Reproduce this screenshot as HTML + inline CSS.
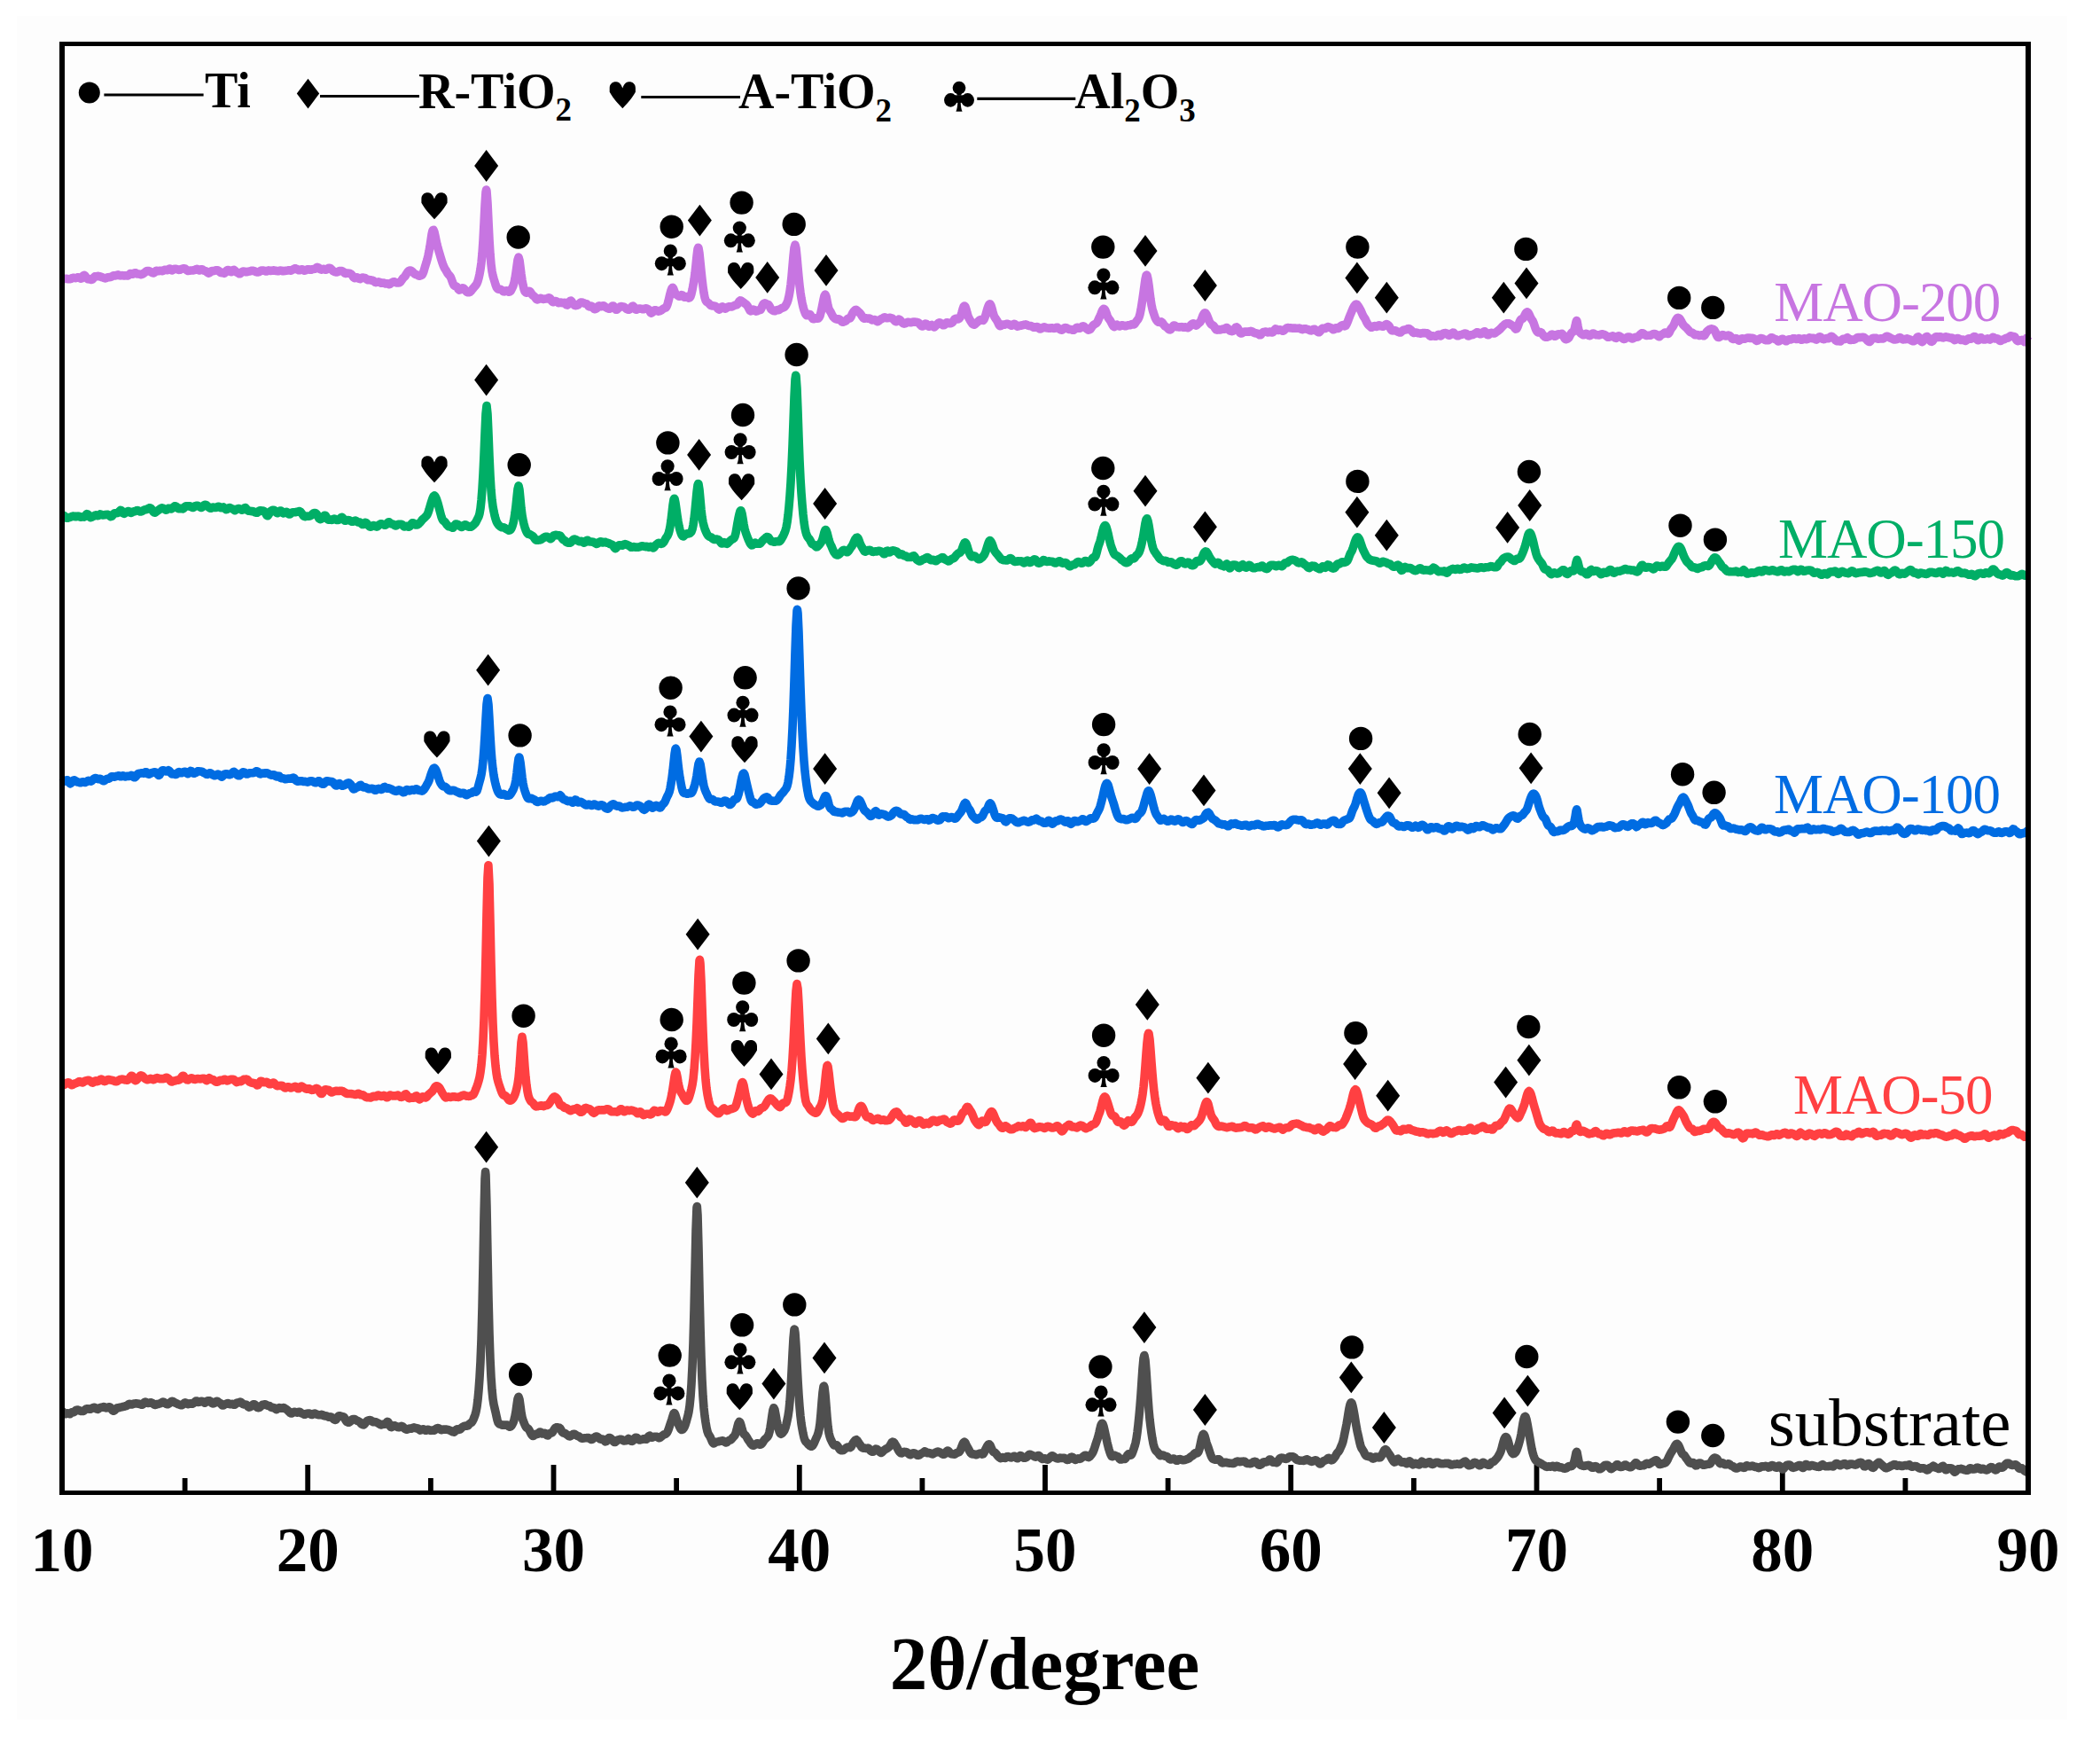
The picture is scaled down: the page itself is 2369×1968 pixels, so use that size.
<!DOCTYPE html><html><head><meta charset="utf-8"><title>XRD patterns</title><style>html,body{margin:0;padding:0;background:#fff;}svg{display:block;}.b{font-family:"Liberation Serif","Times New Roman",serif;font-weight:bold;fill:#000;}.r{font-family:"Liberation Serif","Times New Roman",serif;font-weight:normal;}</style></head><body>
<svg width="2369" height="1968" viewBox="0 0 2369 1968">
<rect x="0" y="0" width="2369" height="1968" fill="#ffffff"/>
<rect x="19" y="18" width="2313" height="1921" fill="#fdfdfd"/>
<path d="M208.6,1683 L208.6,1667 M347.2,1683 L347.2,1652 M485.9,1683 L485.9,1667 M624.5,1683 L624.5,1652 M763.1,1683 L763.1,1667 M901.8,1683 L901.8,1652 M1040.4,1683 L1040.4,1667 M1179.0,1683 L1179.0,1652 M1317.6,1683 L1317.6,1667 M1456.2,1683 L1456.2,1652 M1594.9,1683 L1594.9,1667 M1733.5,1683 L1733.5,1652 M1872.1,1683 L1872.1,1667 M2010.8,1683 L2010.8,1652 M2149.4,1683 L2149.4,1667" stroke="#000" stroke-width="5.8" fill="none"/>
<polyline fill="none" stroke="#c775e1" stroke-width="9.6" stroke-linejoin="round" stroke-linecap="butt" points="70,315.4 71,315.1 72,314.5 73,314.2 74,314.3 75,314.4 76,314.5 77,314.7 78,314.8 79,314.7 80,314.4 81,313.9 82,313.4 83,313.2 84,313.4 85,313.6 86,313.5 87,313.0 88,312.7 89,312.9 90,313.5 91,314.1 92,314.0 93,312.7 94,310.9 95,310.3 96,311.1 97,312.5 98,313.8 99,314.7 100,314.9 101,314.6 102,314.9 103,315.4 104,315.3 105,314.2 106,312.7 107,311.9 108,311.8 109,311.7 110,311.5 111,311.4 112,311.6 113,311.9 114,312.3 115,312.7 116,313.0 117,313.3 118,313.8 119,313.9 120,313.5 121,313.0 122,312.8 123,312.7 124,312.5 125,312.4 126,312.0 127,311.4 128,310.9 129,310.8 130,310.9 131,310.6 132,310.1 133,309.9 134,310.2 135,310.7 136,310.9 137,310.7 138,310.6 139,310.8 140,311.0 141,310.9 142,310.7 143,310.9 144,311.0 145,310.5 146,309.4 147,308.6 148,308.5 149,309.0 150,309.1 151,308.4 152,307.7 153,307.8 154,308.6 155,309.0 156,309.0 157,309.0 158,309.3 159,309.6 160,309.5 161,309.0 162,308.3 163,307.6 164,306.7 165,305.9 166,305.5 167,305.5 168,305.6 169,306.0 170,306.6 171,307.2 172,307.7 173,308.0 174,307.6 175,306.6 176,305.5 177,305.3 178,305.6 179,305.6 180,305.3 181,305.2 182,305.5 183,305.6 184,305.3 185,304.7 186,304.3 187,304.2 188,304.5 189,304.7 190,304.1 191,303.0 192,303.0 193,304.1 194,304.9 195,304.4 196,303.6 197,303.2 198,303.2 199,303.4 200,303.8 201,304.3 202,304.4 203,304.2 204,303.8 205,303.3 206,303.0 207,302.9 208,302.9 209,303.2 210,304.0 211,304.9 212,305.4 213,305.4 214,305.2 215,305.0 216,305.0 217,305.0 218,304.9 219,304.6 220,304.3 221,303.8 222,303.4 223,303.7 224,304.6 225,305.0 226,304.5 227,303.8 228,303.7 229,304.4 230,305.1 231,305.4 232,305.6 233,306.3 234,307.3 235,308.1 236,308.0 237,307.1 238,306.0 239,305.5 240,305.5 241,305.6 242,305.4 243,305.0 244,304.8 245,304.8 246,305.0 247,305.6 248,306.7 249,307.5 250,307.6 251,307.5 252,307.9 253,308.3 254,307.5 255,306.0 256,304.9 257,304.5 258,304.7 259,305.4 260,306.4 261,306.7 262,305.9 263,304.7 264,304.4 265,305.1 266,306.3 267,307.1 268,307.5 269,308.1 270,308.8 271,308.7 272,307.7 273,306.6 274,306.0 275,306.0 276,306.4 277,306.7 278,306.7 279,306.5 280,306.3 281,306.1 282,305.8 283,305.5 284,305.3 285,305.2 286,305.4 287,305.8 288,306.3 289,306.7 290,307.0 291,307.0 292,306.7 293,306.0 294,305.4 295,305.0 296,305.0 297,305.1 298,305.2 299,305.6 300,306.0 301,305.9 302,305.3 303,304.9 304,305.1 305,305.4 306,305.4 307,305.2 308,305.0 309,304.9 310,305.1 311,305.4 312,305.5 313,305.6 314,305.7 315,305.3 316,305.0 317,305.2 318,305.5 319,305.7 320,305.6 321,305.5 322,305.4 323,305.3 324,305.1 325,304.9 326,304.8 327,305.0 328,305.1 329,304.8 330,304.3 331,303.6 332,303.0 333,302.7 334,303.0 335,303.5 336,304.2 337,304.7 338,304.7 339,304.2 340,303.7 341,303.7 342,304.4 343,305.1 344,305.1 345,304.7 346,304.2 347,303.8 348,303.7 349,304.0 350,304.3 351,304.2 352,303.8 353,303.6 354,303.4 355,303.3 356,302.7 357,301.9 358,301.4 359,301.6 360,302.5 361,303.5 362,304.0 363,304.1 364,303.7 365,303.4 366,303.5 367,304.1 368,304.2 369,303.6 370,302.7 371,302.3 372,302.3 373,302.8 374,303.7 375,304.8 376,305.8 377,306.3 378,306.6 379,306.9 380,307.0 381,306.7 382,306.1 383,305.6 384,305.5 385,305.5 386,305.7 387,306.2 388,307.2 389,308.2 390,308.5 391,308.2 392,308.0 393,308.2 394,308.3 395,308.5 396,309.1 397,310.1 398,311.6 399,313.0 400,313.6 401,313.5 402,313.0 403,312.8 404,313.4 405,314.2 406,314.6 407,314.1 408,313.4 409,313.0 410,313.2 411,313.4 412,313.7 413,314.4 414,315.3 415,315.8 416,315.7 417,315.6 418,315.8 419,316.1 420,316.2 421,316.5 422,317.3 423,318.2 424,318.6 425,318.4 426,318.1 427,317.9 428,318.1 429,318.7 430,319.2 431,319.2 432,319.0 433,319.1 434,319.6 435,320.0 436,319.9 437,319.7 438,320.1 439,320.6 440,320.3 441,319.3 442,318.6 443,318.2 444,317.8 445,317.9 446,318.5 447,318.9 448,318.9 449,318.9 450,318.9 451,318.7 452,317.7 453,316.2 454,314.6 455,313.4 456,312.6 457,311.5 458,309.8 459,308.1 460,306.6 461,305.6 462,305.0 463,305.0 464,305.4 465,306.1 466,307.1 467,308.3 468,309.1 469,309.5 470,309.7 471,310.2 472,310.9 473,311.2 474,311.0 475,310.7 476,310.1 477,308.7 478,306.0 479,302.5 480,299.1 481,296.0 482,292.5 483,288.3 484,283.6 485,277.9 486,271.1 487,264.4 488,260.1 488.3,259.6 489,259.4 490,261.9 491,266.3 492,271.2 493,275.7 494,279.6 495,283.1 496,286.4 497,289.8 498,293.2 499,296.4 500,299.1 501,301.5 502,303.2 503,304.8 504,306.5 505,308.3 506,309.6 507,310.6 508,311.9 509,314.0 510,316.8 511,319.6 512,321.6 513,322.5 514,322.7 515,323.1 516,324.3 517,326.0 518,327.1 519,326.9 520,326.1 521,325.2 522,324.8 523,325.1 524,326.1 525,327.5 526,328.7 527,329.5 528,329.8 529,329.8 530,329.4 531,328.6 532,327.4 533,326.1 534,324.9 535,323.7 536,322.6 537,321.4 538,319.7 539,317.2 540,313.7 541,309.2 542,303.6 543,296.3 544,286.0 545,271.3 546,252.4 547,231.9 548,216.8 548.6,214.0 549,215.5 550,229.0 551,250.1 552,270.5 553,286.5 554,298.1 555,305.9 556,310.9 557,314.4 558,317.6 559,321.0 560,323.7 561,325.4 562,326.1 563,326.3 564,326.3 565,326.5 566,327.1 567,328.0 568,328.7 569,328.9 570,328.3 571,327.7 572,327.9 573,328.6 574,329.1 575,329.0 576,328.2 577,326.5 578,324.4 579,322.2 580,318.9 581,313.9 582,307.6 583,300.3 584,293.3 585,290.1 586,293.5 587,301.1 588,309.2 589,316.0 590,321.4 591,325.8 592,328.6 593,329.8 594,330.1 595,329.8 596,328.9 597,328.4 598,328.9 599,330.3 600,331.9 601,333.0 602,333.7 603,334.5 604,335.9 605,337.4 606,338.0 607,337.7 608,337.1 609,336.5 610,336.4 611,336.7 612,337.2 613,337.5 614,337.2 615,337.0 616,337.0 617,337.0 618,336.4 619,335.9 620,336.0 621,337.1 622,338.9 623,340.3 624,340.6 625,340.1 626,339.6 627,339.6 628,340.1 629,341.0 630,341.6 631,341.5 632,341.1 633,341.1 634,341.6 635,341.8 636,341.5 637,341.4 638,342.4 639,343.7 640,344.1 641,343.1 642,341.3 643,339.6 644,339.1 645,340.0 646,341.8 647,343.3 648,344.2 649,344.6 650,344.5 651,344.3 652,343.9 653,343.1 654,342.0 655,341.1 656,341.0 657,341.2 658,341.5 659,342.0 660,342.4 661,342.6 662,342.9 663,344.0 664,345.3 665,345.9 666,345.6 667,345.1 668,345.7 669,347.1 670,348.3 671,348.6 672,348.5 673,347.9 674,346.7 675,345.4 676,344.9 677,345.4 678,345.7 679,345.3 680,344.7 681,344.7 682,345.5 683,346.3 684,346.9 685,347.4 686,347.9 687,348.3 688,348.2 689,347.3 690,346.0 691,345.0 692,345.1 693,346.3 694,348.0 695,349.3 696,349.2 697,348.2 698,347.1 699,346.3 700,345.7 701,345.6 702,345.9 703,346.0 704,346.2 705,346.9 706,347.8 707,348.5 708,349.0 709,349.2 710,349.1 711,348.4 712,347.0 713,345.6 714,345.1 715,345.9 716,347.6 717,349.0 718,349.2 719,348.7 720,348.2 721,348.1 722,348.1 723,348.2 724,348.4 725,348.8 726,348.8 727,348.3 728,347.9 729,347.9 730,348.2 731,348.6 732,349.4 733,351.0 734,352.6 735,353.1 736,352.3 737,351.0 738,350.0 739,349.8 740,349.9 741,350.3 742,350.8 743,351.1 744,350.9 745,350.5 746,349.9 747,349.1 748,348.4 749,347.8 750,347.4 751,347.0 752,345.7 753,343.2 754,339.6 755,335.5 756,331.2 757,327.6 758,325.2 758.6,324.5 759,324.4 760,326.2 761,329.1 762,331.2 763,332.3 764,332.8 765,333.5 766,334.3 767,334.3 768,333.5 769,332.6 770,333.0 771,334.4 772,335.3 773,335.1 774,334.6 775,334.7 776,335.4 777,336.1 778,335.9 779,334.4 780,331.2 781,326.8 782,321.7 783,315.6 784,308.2 785,299.1 786,289.0 787,281.0 787.7,279.2 788,279.8 789,285.9 790,295.7 791,305.7 792,314.9 793,323.2 794,330.2 795,335.4 796,338.6 797,340.2 798,340.9 799,341.6 800,342.5 801,343.7 802,344.5 803,344.9 804,344.9 805,344.9 806,345.1 807,345.4 808,346.0 809,347.0 810,348.3 811,349.1 812,348.8 813,347.7 814,346.4 815,345.9 816,346.5 817,347.5 818,348.1 819,347.8 820,347.0 821,346.3 822,345.9 823,345.8 824,345.9 825,346.0 826,345.8 827,345.3 828,344.8 829,344.3 830,344.1 831,343.9 832,343.1 833,341.3 834,339.7 835,338.9 835.7,339.0 836,339.2 837,339.8 838,340.6 839,341.3 840,342.1 841,342.8 842,343.6 843,344.7 844,346.4 845,348.4 846,350.2 847,350.9 848,350.5 849,349.6 850,349.1 851,349.5 852,350.5 853,351.1 854,350.9 855,350.0 856,349.6 857,349.7 858,349.4 859,347.6 860,344.9 861,343.0 862,342.1 862.9,341.9 864,342.4 865,343.0 866,343.3 867,343.6 868,345.1 869,347.3 870,348.9 871,349.6 872,350.1 873,350.6 874,350.8 875,350.2 876,349.7 877,349.6 878,349.6 879,349.3 880,348.6 881,348.0 882,347.5 883,347.1 884,346.7 885,346.2 886,345.0 887,343.3 888,341.2 889,338.2 890,334.1 891,328.6 892,321.3 893,311.9 894,300.5 895,288.8 896,279.5 897,276.0 898,280.2 899,290.0 900,301.4 901,312.3 902,321.9 903,329.9 904,336.4 905,341.7 906,346.1 907,349.7 908,352.5 909,354.6 910,355.7 911,355.7 912,354.9 913,354.4 914,354.8 915,356.3 916,358.2 917,359.5 918,359.7 919,359.2 920,358.9 921,359.1 922,359.3 923,359.1 924,358.2 925,356.1 926,352.5 927,347.9 928,343.0 929,337.9 930,333.6 930.9,332.1 932,334.5 933,339.6 934,344.9 935,348.5 936,350.4 937,351.8 938,353.7 939,355.8 940,357.4 941,358.4 942,359.2 943,359.9 944,360.1 945,359.9 946,359.8 947,360.2 948,361.0 949,362.0 950,363.0 951,363.3 952,362.9 953,362.5 954,362.0 955,361.0 956,359.8 957,359.1 958,359.1 959,358.8 960,357.3 961,354.9 962,352.8 963,351.3 964,350.3 965,349.5 965.7,349.4 966,349.5 967,350.3 968,351.4 969,352.3 970,353.0 971,354.2 972,355.9 973,357.5 974,358.7 975,359.2 976,359.1 977,358.9 978,359.0 979,359.1 980,359.0 981,359.0 982,359.6 983,360.4 984,360.9 985,360.8 986,360.6 987,360.6 988,361.2 989,362.1 990,362.6 991,362.3 992,361.4 993,360.4 994,359.9 995,359.4 996,358.8 997,358.2 998,357.9 999,358.2 1000,358.7 1001,358.8 1002,358.6 1003,358.4 1004,358.4 1005,358.5 1006,358.8 1007,359.3 1008,360.3 1009,361.5 1010,362.4 1011,362.8 1012,362.3 1013,361.1 1014,360.2 1015,360.5 1016,361.6 1017,362.8 1018,363.9 1019,364.7 1020,365.1 1021,364.9 1022,364.5 1023,363.9 1024,363.4 1025,363.3 1026,363.6 1027,363.8 1028,363.7 1029,363.4 1030,363.1 1031,363.1 1032,363.1 1033,363.2 1034,363.4 1035,363.5 1036,363.8 1037,364.7 1038,366.1 1039,367.3 1040,367.9 1041,367.9 1042,367.2 1043,365.9 1044,365.1 1045,365.4 1046,366.6 1047,367.8 1048,368.2 1049,367.8 1050,366.8 1051,366.4 1052,367.2 1053,368.4 1054,368.9 1055,368.1 1056,367.0 1057,365.9 1058,364.9 1059,364.1 1060,363.7 1061,364.2 1062,365.3 1063,366.2 1064,366.8 1065,366.8 1066,366.0 1067,364.7 1068,363.7 1069,363.7 1070,364.4 1071,364.7 1072,364.7 1073,364.5 1074,364.0 1075,362.9 1076,361.3 1077,359.9 1078,359.3 1079,359.5 1080,359.9 1081,359.9 1082,359.2 1083,358.1 1084,355.9 1085,352.6 1086,348.9 1087,346.0 1088,345.0 1089,346.1 1090,349.0 1091,352.9 1092,356.4 1093,358.8 1094,360.5 1095,362.2 1096,363.9 1097,365.2 1098,365.9 1099,366.2 1100,365.7 1101,364.7 1102,363.7 1103,362.9 1104,362.0 1105,361.1 1106,360.5 1107,360.6 1108,361.2 1109,361.4 1110,360.3 1111,358.0 1112,355.0 1113,351.4 1114,347.9 1115,345.0 1116,343.2 1116.6,342.9 1117,343.0 1118,344.7 1119,347.9 1120,351.8 1121,355.3 1122,357.6 1123,359.1 1124,360.5 1125,362.1 1126,364.3 1127,366.4 1128,367.6 1129,367.5 1130,366.7 1131,366.1 1132,366.0 1133,366.2 1134,366.0 1135,365.4 1136,365.2 1137,365.5 1138,365.9 1139,366.2 1140,366.7 1141,367.2 1142,366.8 1143,365.9 1144,365.3 1145,365.6 1146,366.6 1147,367.6 1148,368.1 1149,367.9 1150,367.5 1151,367.2 1152,367.1 1153,366.8 1154,366.5 1155,366.4 1156,366.1 1157,365.9 1158,366.1 1159,366.7 1160,367.2 1161,367.5 1162,367.5 1163,367.6 1164,368.1 1165,368.7 1166,369.2 1167,369.2 1168,369.0 1169,368.7 1170,368.6 1171,369.1 1172,370.2 1173,371.0 1174,371.0 1175,370.4 1176,369.8 1177,369.2 1178,368.9 1179,369.2 1180,369.7 1181,369.9 1182,370.0 1183,370.1 1184,370.2 1185,370.1 1186,369.8 1187,369.9 1188,370.2 1189,370.4 1190,370.2 1191,369.7 1192,369.3 1193,369.4 1194,370.1 1195,371.0 1196,371.6 1197,372.0 1198,372.1 1199,371.5 1200,370.5 1201,369.7 1202,369.6 1203,369.8 1204,370.3 1205,370.9 1206,371.4 1207,371.5 1208,371.5 1209,371.8 1210,372.3 1211,372.3 1212,371.7 1213,370.8 1214,369.8 1215,369.3 1216,369.5 1217,370.1 1218,370.2 1219,369.7 1220,368.9 1221,368.1 1222,367.8 1223,368.3 1224,369.2 1225,370.0 1226,370.9 1227,371.8 1228,372.1 1229,371.9 1230,371.2 1231,369.9 1232,368.4 1233,367.1 1234,366.3 1235,365.6 1236,365.0 1237,364.4 1238,362.9 1239,360.7 1240,358.4 1241,356.4 1242,354.0 1243,351.3 1244,349.2 1245,348.3 1246,348.7 1247,350.2 1248,352.7 1249,355.8 1250,358.1 1251,359.6 1252,360.9 1253,362.5 1254,364.4 1255,366.4 1256,368.0 1257,368.6 1258,367.9 1259,366.6 1260,366.1 1261,366.8 1262,367.7 1263,368.0 1264,367.6 1265,367.0 1266,366.7 1267,366.9 1268,367.4 1269,367.7 1270,367.7 1271,367.4 1272,367.0 1273,366.7 1274,366.7 1275,366.6 1276,366.1 1277,365.6 1278,365.7 1279,365.9 1280,365.4 1281,363.9 1282,362.4 1283,361.1 1284,359.8 1285,357.7 1286,354.4 1287,349.4 1288,343.2 1289,336.7 1290,329.8 1291,322.3 1292,315.1 1293,310.7 1293.4,310.1 1294,310.7 1295,314.9 1296,321.7 1297,329.8 1298,337.5 1299,343.9 1300,348.6 1301,352.1 1302,355.1 1303,357.9 1304,360.1 1305,361.6 1306,362.7 1307,363.3 1308,363.4 1309,363.1 1310,362.9 1311,363.6 1312,365.0 1313,366.5 1314,367.7 1315,368.4 1316,369.0 1317,369.9 1318,370.9 1319,371.7 1320,371.9 1321,371.3 1322,369.9 1323,368.2 1324,367.1 1325,367.0 1326,367.7 1327,368.4 1328,368.8 1329,368.8 1330,368.9 1331,368.9 1332,368.8 1333,368.6 1334,368.8 1335,369.2 1336,369.2 1337,368.9 1338,369.0 1339,369.5 1340,369.6 1341,369.3 1342,368.4 1343,367.1 1344,366.0 1345,365.2 1346,364.7 1347,365.1 1348,366.3 1349,367.1 1350,366.8 1351,365.7 1352,364.7 1353,364.0 1354,363.1 1355,361.2 1356,358.4 1357,355.8 1358,353.9 1359,352.8 1359.4,352.8 1360,353.1 1361,354.6 1362,356.8 1363,359.3 1364,361.8 1365,363.8 1366,365.3 1367,366.3 1368,366.7 1369,367.4 1370,368.8 1371,370.6 1372,371.9 1373,372.1 1374,371.7 1375,371.6 1376,371.9 1377,371.9 1378,371.5 1379,371.1 1380,371.1 1381,371.1 1382,370.6 1383,369.7 1384,369.5 1385,370.4 1386,371.7 1387,372.7 1388,373.2 1389,373.5 1390,373.6 1391,373.2 1392,372.0 1393,370.5 1394,369.3 1395,368.9 1396,369.6 1397,371.5 1398,373.8 1399,375.5 1400,376.0 1401,375.8 1402,375.1 1403,374.4 1404,374.1 1405,374.1 1406,374.0 1407,374.0 1408,374.2 1409,374.2 1410,373.8 1411,373.4 1412,373.6 1413,374.2 1414,374.9 1415,375.4 1416,375.8 1417,375.9 1418,376.0 1419,376.4 1420,377.1 1421,377.8 1422,377.8 1423,376.8 1424,375.4 1425,374.7 1426,374.4 1427,374.2 1428,374.0 1429,374.3 1430,374.9 1431,374.8 1432,374.2 1433,374.0 1434,374.6 1435,375.0 1436,374.6 1437,373.3 1438,371.8 1439,370.9 1440,371.3 1441,372.1 1442,372.5 1443,372.1 1444,371.8 1445,372.1 1446,372.8 1447,373.3 1448,373.0 1449,372.2 1450,371.2 1451,370.3 1452,369.7 1453,369.6 1454,369.7 1455,369.9 1456,369.9 1457,370.0 1458,370.1 1459,370.1 1460,370.1 1461,370.1 1462,370.2 1463,370.3 1464,370.3 1465,370.2 1466,370.1 1467,370.5 1468,371.2 1469,371.6 1470,371.3 1471,370.9 1472,370.8 1473,370.9 1474,371.2 1475,371.4 1476,371.8 1477,372.2 1478,372.7 1479,372.9 1480,372.6 1481,371.8 1482,371.2 1483,371.3 1484,372.1 1485,373.1 1486,373.9 1487,374.6 1488,374.7 1489,374.0 1490,372.6 1491,371.1 1492,370.3 1493,370.2 1494,370.4 1495,370.5 1496,370.0 1497,369.2 1498,368.6 1499,368.7 1500,369.2 1501,369.6 1502,370.1 1503,371.1 1504,371.8 1505,371.6 1506,370.6 1507,369.8 1508,369.9 1509,370.5 1510,370.3 1511,369.2 1512,368.1 1513,367.4 1514,366.8 1515,366.5 1516,367.1 1517,367.8 1518,367.4 1519,365.8 1520,363.6 1521,361.0 1522,358.2 1523,355.6 1524,353.3 1525,350.9 1526,348.5 1527,346.5 1528,344.8 1529,343.6 1530,343.1 1531,343.6 1532,344.9 1533,346.5 1534,348.2 1535,350.1 1536,352.3 1537,354.6 1538,356.6 1539,358.1 1540,359.6 1541,361.7 1542,363.9 1543,365.6 1544,366.7 1545,367.6 1546,368.5 1547,369.2 1548,369.1 1549,368.4 1550,367.7 1551,367.6 1552,368.1 1553,368.4 1554,367.8 1555,367.0 1556,366.9 1557,367.4 1558,367.9 1559,368.1 1560,368.3 1561,368.1 1562,367.3 1563,366.1 1564,365.5 1565,365.9 1566,366.6 1567,367.6 1568,369.4 1569,371.5 1570,372.7 1571,372.9 1572,372.8 1573,372.8 1574,372.9 1575,373.2 1576,373.7 1577,374.2 1578,374.6 1579,375.0 1580,374.9 1581,374.1 1582,373.1 1583,372.4 1584,372.1 1585,372.1 1586,371.9 1587,371.4 1588,370.8 1589,370.6 1590,370.9 1591,371.6 1592,372.5 1593,373.8 1594,375.0 1595,375.5 1596,375.2 1597,375.0 1598,375.2 1599,375.5 1600,375.7 1601,375.9 1602,376.1 1603,376.1 1604,375.9 1605,375.6 1606,375.5 1607,375.5 1608,375.7 1609,375.8 1610,375.9 1611,376.5 1612,377.6 1613,378.8 1614,379.3 1615,379.0 1616,378.7 1617,378.9 1618,379.1 1619,379.3 1620,379.2 1621,378.6 1622,377.7 1623,377.4 1624,378.2 1625,379.0 1626,378.5 1627,377.1 1628,376.1 1629,375.8 1630,375.6 1631,375.6 1632,376.0 1633,377.1 1634,378.1 1635,378.3 1636,377.8 1637,377.0 1638,375.8 1639,375.1 1640,375.3 1641,376.3 1642,377.5 1643,378.3 1644,378.8 1645,378.8 1646,378.3 1647,377.8 1648,377.6 1649,377.4 1650,377.0 1651,376.5 1652,376.2 1653,376.0 1654,376.3 1655,377.5 1656,378.8 1657,379.0 1658,378.4 1659,377.9 1660,377.8 1661,377.6 1662,377.3 1663,376.8 1664,376.2 1665,375.6 1666,374.9 1667,374.8 1668,375.5 1669,376.5 1670,376.8 1671,376.6 1672,376.0 1673,375.0 1674,374.0 1675,373.8 1676,374.8 1677,376.4 1678,377.6 1679,377.8 1680,376.8 1681,375.8 1682,375.4 1683,375.4 1684,375.6 1685,376.0 1686,375.9 1687,375.3 1688,374.5 1689,373.7 1690,373.0 1691,372.3 1692,371.4 1693,370.3 1694,369.2 1695,368.1 1696,367.2 1697,366.3 1698,365.5 1699,365.0 1700,364.7 1701,364.7 1702,364.8 1703,365.2 1704,365.9 1705,366.5 1706,367.0 1707,367.6 1708,368.8 1709,370.2 1710,371.1 1711,370.7 1712,368.8 1713,366.1 1714,363.3 1715,361.2 1716,360.1 1717,359.6 1718,359.1 1719,357.7 1720,355.6 1721,353.6 1722,352.2 1722.9,351.9 1724,352.7 1725,354.4 1726,356.7 1727,358.9 1728,360.5 1729,361.9 1730,364.0 1731,367.0 1732,369.9 1733,372.3 1734,374.0 1735,374.9 1736,375.0 1737,374.6 1738,374.6 1739,375.3 1740,376.8 1741,378.2 1742,379.3 1743,380.0 1744,380.3 1745,380.2 1746,379.8 1747,379.5 1748,379.3 1749,378.5 1750,377.4 1751,377.1 1752,377.6 1753,378.5 1754,379.2 1755,379.0 1756,378.1 1757,377.1 1758,376.8 1759,377.2 1760,377.2 1761,376.7 1762,376.3 1763,377.2 1764,379.4 1765,381.7 1766,382.7 1767,382.6 1768,382.2 1769,381.8 1770,380.6 1771,378.6 1772,376.6 1773,375.2 1774,374.5 1775,373.8 1776,371.7 1777,367.8 1778,362.9 1778.6,361.6 1779,362.3 1780,367.9 1781,372.7 1782,374.7 1783,375.7 1784,376.5 1785,377.1 1786,377.6 1787,377.6 1788,377.0 1789,376.4 1790,376.5 1791,377.3 1792,378.2 1793,378.6 1794,378.3 1795,377.3 1796,376.4 1797,376.0 1798,376.2 1799,376.9 1800,377.5 1801,377.7 1802,377.7 1803,377.9 1804,378.0 1805,377.7 1806,377.1 1807,376.8 1808,376.9 1809,377.1 1810,377.5 1811,378.0 1812,378.8 1813,379.7 1814,380.3 1815,380.2 1816,379.9 1817,379.6 1818,379.3 1819,378.9 1820,379.0 1821,379.9 1822,381.0 1823,381.4 1824,380.6 1825,379.4 1826,378.9 1827,379.2 1828,379.8 1829,380.5 1830,381.3 1831,382.1 1832,382.4 1833,382.3 1834,381.5 1835,380.6 1836,380.2 1837,380.0 1838,380.0 1839,380.4 1840,381.4 1841,382.0 1842,381.8 1843,381.2 1844,380.7 1845,380.4 1846,380.3 1847,380.1 1848,379.6 1849,378.7 1850,377.6 1851,376.6 1852,375.9 1853,375.8 1854,376.2 1855,377.0 1856,377.9 1857,378.5 1858,378.4 1859,378.2 1860,378.2 1861,378.3 1862,378.2 1863,377.6 1864,377.0 1865,376.7 1866,376.5 1867,376.5 1868,377.0 1869,377.7 1870,378.6 1871,379.5 1872,379.7 1873,378.8 1874,377.6 1875,377.0 1876,376.7 1877,376.0 1878,375.2 1879,375.0 1880,375.4 1881,376.3 1882,376.5 1883,375.3 1884,373.0 1885,371.0 1886,369.7 1887,368.6 1888,366.9 1889,364.6 1890,362.2 1891,360.2 1892,358.9 1893,358.4 1893.2,358.4 1894,358.7 1895,359.7 1896,361.2 1897,363.2 1898,365.0 1899,366.5 1900,367.6 1901,368.4 1902,369.2 1903,370.3 1904,371.5 1905,372.6 1906,373.7 1907,374.6 1908,375.0 1909,375.2 1910,375.9 1911,376.9 1912,377.8 1913,377.8 1914,377.5 1915,377.5 1916,378.0 1917,378.5 1918,378.3 1919,377.9 1920,377.9 1921,378.5 1922,378.8 1923,378.1 1924,376.5 1925,374.8 1926,373.5 1927,372.6 1928,371.9 1929,371.4 1930,371.0 1931,370.9 1932,371.1 1933,371.5 1934,372.4 1935,374.1 1936,376.6 1937,379.0 1938,380.3 1939,380.5 1940,380.0 1941,379.0 1942,378.0 1943,377.6 1944,377.8 1945,378.3 1946,378.8 1947,379.0 1948,378.6 1949,378.2 1950,378.1 1951,378.5 1952,379.2 1953,380.5 1954,381.9 1955,382.5 1956,382.3 1957,381.9 1958,381.6 1959,381.8 1960,382.7 1961,383.8 1962,384.1 1963,383.4 1964,382.3 1965,381.8 1966,382.0 1967,382.3 1968,382.2 1969,381.8 1970,381.5 1971,381.2 1972,381.0 1973,381.1 1974,381.4 1975,381.5 1976,381.3 1977,381.3 1978,381.6 1979,382.2 1980,383.0 1981,383.9 1982,384.4 1983,384.0 1984,383.1 1985,382.2 1986,381.6 1987,381.6 1988,381.9 1989,382.2 1990,382.7 1991,383.3 1992,383.6 1993,383.5 1994,383.7 1995,383.8 1996,383.0 1997,381.6 1998,380.7 1999,380.8 2000,381.3 2001,381.9 2002,382.3 2003,382.6 2004,383.1 2005,384.1 2006,384.9 2007,384.8 2008,384.0 2009,383.2 2010,382.5 2011,382.3 2012,382.7 2013,383.6 2014,384.5 2015,384.8 2016,384.2 2017,383.2 2018,382.7 2019,382.8 2020,383.0 2021,382.6 2022,382.0 2023,381.7 2024,381.7 2025,382.0 2026,382.4 2027,382.5 2028,382.0 2029,381.6 2030,381.9 2031,382.6 2032,383.1 2033,383.1 2034,382.5 2035,381.8 2036,381.8 2037,382.3 2038,382.7 2039,382.4 2040,381.6 2041,380.9 2042,381.0 2043,381.4 2044,381.6 2045,381.3 2046,381.2 2047,381.8 2048,382.7 2049,383.1 2050,382.5 2051,381.2 2052,380.2 2053,379.9 2054,380.4 2055,381.3 2056,382.2 2057,382.6 2058,382.5 2059,382.1 2060,381.7 2061,381.5 2062,381.6 2063,381.6 2064,380.9 2065,379.8 2066,379.3 2067,379.8 2068,380.7 2069,381.5 2070,382.7 2071,384.0 2072,384.6 2073,384.5 2074,384.4 2075,384.8 2076,385.0 2077,384.3 2078,383.1 2079,382.4 2080,382.4 2081,382.5 2082,382.1 2083,381.1 2084,380.7 2085,381.4 2086,382.6 2087,383.4 2088,383.4 2089,383.1 2090,383.2 2091,383.2 2092,382.9 2093,382.3 2094,381.6 2095,380.9 2096,380.6 2097,380.6 2098,380.6 2099,380.5 2100,380.5 2101,380.4 2102,380.4 2103,380.7 2104,381.4 2105,382.3 2106,383.3 2107,384.4 2108,385.3 2109,385.5 2110,384.8 2111,383.2 2112,381.9 2113,381.4 2114,381.4 2115,381.3 2116,381.2 2117,381.5 2118,382.1 2119,382.3 2120,382.1 2121,381.9 2122,381.9 2123,382.0 2124,382.0 2125,381.6 2126,380.9 2127,380.0 2128,379.4 2129,379.2 2130,379.6 2131,380.2 2132,380.9 2133,381.4 2134,381.8 2135,382.3 2136,382.8 2137,383.0 2138,382.9 2139,382.8 2140,382.6 2141,381.9 2142,381.0 2143,380.6 2144,380.9 2145,381.8 2146,382.6 2147,382.9 2148,382.8 2149,382.7 2150,382.3 2151,381.9 2152,382.0 2153,382.5 2154,382.9 2155,383.2 2156,383.8 2157,384.4 2158,384.8 2159,384.7 2160,384.1 2161,383.0 2162,381.6 2163,380.3 2164,379.8 2165,380.7 2166,382.7 2167,384.8 2168,385.6 2169,385.1 2170,383.9 2171,382.4 2172,380.8 2173,379.7 2174,379.6 2175,380.6 2176,382.1 2177,383.8 2178,385.0 2179,385.4 2180,384.7 2181,383.4 2182,381.8 2183,380.4 2184,379.7 2185,379.8 2186,380.3 2187,380.4 2188,379.9 2189,379.8 2190,380.2 2191,380.7 2192,380.9 2193,380.6 2194,380.2 2195,379.9 2196,380.0 2197,380.3 2198,380.5 2199,380.9 2200,381.1 2201,381.0 2202,381.0 2203,381.7 2204,382.9 2205,383.6 2206,383.4 2207,382.4 2208,381.5 2209,381.5 2210,382.1 2211,382.9 2212,383.4 2213,383.4 2214,383.0 2215,383.2 2216,383.9 2217,384.5 2218,384.1 2219,383.1 2220,382.1 2221,381.7 2222,381.8 2223,382.1 2224,382.1 2225,381.3 2226,380.2 2227,379.6 2228,379.8 2229,380.9 2230,382.6 2231,383.8 2232,383.7 2233,382.2 2234,380.9 2235,380.9 2236,381.9 2237,382.8 2238,383.0 2239,383.0 2240,382.8 2241,382.3 2242,381.9 2243,382.2 2244,382.9 2245,383.1 2246,382.3 2247,381.1 2248,380.4 2249,380.5 2250,381.3 2251,382.0 2252,381.9 2253,381.8 2254,382.3 2255,383.4 2256,384.4 2257,384.4 2258,383.6 2259,383.0 2260,383.0 2261,382.7 2262,381.9 2263,381.3 2264,381.3 2265,381.3 2266,380.5 2267,379.5 2268,378.9 2269,378.9 2270,379.3 2271,379.6 2272,379.6 2273,380.1 2274,381.9 2275,383.8 2276,384.6 2277,384.5 2278,384.2 2279,383.9 2280,383.6 2281,383.3 2282,383.6 2283,384.6 2284,385.7 2285,385.4 2286,383.3 2287,380.6 2288,378.8"/>
<polyline fill="none" stroke="#00ae66" stroke-width="9.6" stroke-linejoin="round" stroke-linecap="butt" points="70,582.2 71,581.7 72,581.4 73,582.0 74,583.4 75,584.3 76,584.3 77,584.0 78,583.6 79,583.3 80,583.0 81,582.5 82,582.1 83,582.1 84,582.4 85,582.7 86,582.6 87,582.3 88,582.1 89,582.3 90,582.8 91,583.1 92,583.1 93,582.9 94,582.9 95,583.1 96,582.3 97,580.7 98,579.6 99,580.0 100,581.5 101,582.9 102,583.6 103,583.5 104,583.0 105,582.4 106,581.9 107,581.3 108,580.9 109,581.0 110,581.6 111,581.5 112,580.7 113,579.9 114,580.1 115,580.7 116,581.0 117,580.8 118,580.6 119,580.6 120,580.4 121,580.2 122,580.5 123,581.3 124,582.1 125,582.6 126,582.4 127,581.2 128,579.8 129,579.0 130,578.8 131,578.8 132,578.6 133,578.3 134,577.5 135,576.2 136,575.3 137,575.8 138,577.5 139,578.9 140,579.3 141,578.7 142,577.9 143,577.2 144,576.7 145,576.5 146,577.2 147,578.2 148,578.5 149,577.9 150,577.2 151,576.9 152,576.8 153,576.4 154,575.8 155,575.6 156,575.9 157,576.5 158,577.0 159,577.0 160,576.7 161,576.1 162,575.4 163,575.0 164,574.8 165,574.7 166,574.2 167,573.6 168,573.0 169,572.7 170,573.1 171,574.2 172,575.8 173,577.2 174,578.0 175,578.1 176,577.4 177,576.5 178,575.8 179,575.2 180,574.4 181,573.6 182,573.0 183,572.9 184,573.3 185,573.8 186,574.5 187,575.1 188,575.0 189,574.2 190,573.4 191,573.3 192,573.7 193,574.0 194,573.6 195,572.6 196,571.6 197,570.9 198,570.8 199,571.4 200,572.6 201,573.5 202,573.7 203,573.4 204,573.3 205,573.7 206,573.9 207,573.4 208,572.3 209,571.2 210,570.8 211,570.9 212,571.0 213,570.8 214,570.7 215,571.1 216,571.9 217,572.5 218,572.4 219,571.8 220,570.9 221,570.4 222,570.2 223,570.3 224,570.8 225,571.4 226,572.1 227,572.5 228,572.1 229,571.0 230,569.9 231,569.3 232,569.3 233,569.8 234,570.7 235,571.7 236,572.5 237,573.1 238,573.1 239,572.6 240,572.1 241,572.1 242,572.3 243,572.5 244,572.5 245,571.9 246,571.2 247,571.2 248,571.9 249,572.7 250,572.7 251,572.1 252,571.9 253,572.6 254,573.7 255,574.6 256,574.5 257,573.7 258,572.8 259,572.5 260,572.9 261,573.5 262,573.8 263,574.3 264,575.1 265,575.6 266,575.1 267,574.3 268,573.8 269,573.5 270,573.7 271,574.3 272,574.8 273,575.2 274,574.9 275,573.9 276,572.7 277,572.6 278,573.9 279,575.4 280,576.1 281,576.2 282,576.3 283,576.5 284,576.6 285,576.5 286,576.8 287,577.4 288,577.9 289,578.2 290,578.3 291,577.6 292,576.4 293,575.8 294,576.0 295,576.2 296,576.0 297,576.0 298,576.6 299,577.9 300,579.6 301,581.3 302,581.7 303,580.6 304,578.7 305,577.0 306,576.0 307,575.5 308,575.3 309,575.3 310,576.0 311,577.2 312,578.3 313,578.6 314,578.1 315,576.9 316,576.0 317,576.1 318,577.2 319,578.4 320,578.9 321,578.5 322,577.8 323,577.3 324,577.7 325,578.8 326,579.9 327,580.0 328,579.2 329,578.3 330,577.8 331,577.8 332,577.8 333,577.7 334,577.5 335,577.3 336,577.0 337,576.6 338,576.6 339,577.3 340,578.4 341,579.9 342,581.4 343,582.4 344,582.6 345,582.3 346,582.1 347,582.2 348,582.3 349,582.1 350,581.7 351,581.2 352,580.4 353,579.3 354,578.7 355,578.5 356,578.7 357,579.4 358,581.0 359,583.0 360,584.8 361,585.6 362,585.5 363,584.9 364,583.9 365,582.6 366,581.4 367,581.3 368,582.6 369,584.6 370,586.0 371,586.2 372,585.9 373,586.0 374,586.4 375,586.3 376,585.6 377,585.1 378,585.4 379,586.1 380,586.5 381,586.5 382,586.3 383,585.6 384,584.6 385,583.5 386,583.4 387,584.5 388,586.2 389,587.1 390,587.1 391,586.8 392,586.6 393,586.6 394,586.8 395,587.3 396,587.8 397,588.2 398,588.3 399,587.9 400,587.3 401,587.0 402,587.6 403,588.5 404,589.0 405,589.0 406,589.1 407,589.8 408,590.8 409,591.5 410,591.4 411,590.3 412,589.4 413,589.5 414,590.6 415,592.0 416,593.1 417,593.8 418,594.1 419,593.8 420,593.1 421,592.6 422,592.6 423,593.0 424,593.7 425,594.1 426,593.7 427,592.7 428,591.6 429,591.0 430,590.8 431,591.0 432,591.3 433,591.8 434,592.2 435,592.1 436,591.4 437,590.1 438,589.0 439,588.8 440,589.7 441,590.7 442,590.9 443,591.0 444,591.5 445,592.4 446,593.0 447,592.8 448,592.1 449,591.4 450,591.2 451,591.3 452,591.3 453,591.3 454,591.9 455,593.1 456,593.9 457,593.9 458,593.5 459,593.4 460,593.9 461,594.3 462,593.9 463,592.7 464,591.0 465,589.9 466,589.8 467,590.5 468,591.5 469,592.0 470,592.0 471,591.8 472,591.1 473,590.2 474,589.2 475,588.0 476,586.6 477,585.5 478,584.7 479,583.8 480,582.7 481,581.8 482,580.4 483,578.1 484,575.0 485,571.5 486,568.1 487,564.9 488,561.9 489,559.7 490,558.9 491,559.8 492,561.8 493,564.6 494,567.8 495,571.5 496,575.5 497,579.4 498,583.0 499,585.7 500,587.1 501,587.9 502,588.8 503,590.1 504,591.6 505,592.8 506,593.7 507,593.9 508,594.0 509,594.4 510,595.1 511,595.2 512,594.1 513,592.3 514,591.1 515,591.0 516,591.4 517,591.9 518,592.5 519,593.4 520,594.3 521,594.5 522,593.7 523,592.7 524,592.0 525,591.7 526,592.1 527,593.0 528,593.9 529,594.2 530,594.3 531,594.2 532,593.8 533,593.0 534,592.1 535,591.2 536,590.2 537,588.6 538,586.6 539,584.6 540,582.6 541,579.3 542,573.5 543,564.2 544,551.4 545,534.6 546,513.3 547,488.7 548,466.7 549,457.5 550,467.0 551,489.5 552,514.8 553,536.5 554,552.7 555,563.7 556,571.2 557,576.6 558,581.2 559,585.1 560,588.1 561,590.0 562,591.4 563,592.6 564,593.5 565,594.3 566,594.8 567,594.8 568,594.7 569,595.1 570,595.9 571,596.6 572,597.0 573,597.6 574,598.1 575,598.0 576,597.3 577,595.8 578,593.3 579,589.8 580,584.9 581,578.5 582,570.5 583,560.9 584,551.8 585,547.9 586,552.4 587,562.7 588,573.4 589,581.2 590,586.6 591,590.9 592,594.6 593,597.5 594,599.8 595,601.5 596,602.4 597,602.6 598,602.8 599,603.4 600,604.0 601,604.6 602,605.6 603,607.1 604,608.5 605,609.3 606,609.3 607,609.1 608,609.0 609,609.0 610,608.7 611,608.1 612,607.3 613,606.7 614,606.0 615,605.4 616,605.2 617,605.3 618,605.7 619,606.3 620,607.1 621,607.6 622,607.1 623,605.7 624,604.5 625,603.8 626,603.5 627,603.4 628,603.5 629,603.7 630,603.8 631,603.9 632,604.3 633,605.4 634,607.1 635,608.4 636,608.9 637,609.5 638,610.3 639,611.4 640,612.0 641,612.1 642,612.2 643,612.3 644,611.8 645,610.6 646,609.2 647,608.3 648,608.0 649,608.4 650,608.9 651,609.4 652,610.0 653,610.5 654,610.7 655,610.5 656,610.3 657,610.8 658,611.8 659,612.2 660,611.6 661,610.3 662,609.2 663,609.2 664,610.1 665,610.8 666,611.0 667,611.0 668,611.1 669,611.3 670,611.7 671,612.3 672,612.9 673,613.4 674,613.3 675,612.4 676,611.4 677,610.8 678,610.8 679,611.5 680,612.0 681,611.8 682,611.3 683,611.4 684,612.0 685,612.3 686,612.4 687,612.8 688,613.5 689,613.9 690,614.0 691,614.6 692,615.9 693,617.5 694,618.6 695,618.3 696,616.9 697,615.6 698,615.0 699,614.8 700,614.8 701,615.1 702,615.3 703,614.8 704,614.0 705,613.6 706,613.9 707,614.3 708,614.7 709,615.1 710,615.7 711,616.5 712,617.2 713,617.2 714,616.8 715,616.5 716,616.8 717,617.2 718,617.2 719,617.1 720,617.1 721,617.0 722,616.7 723,616.1 724,615.8 725,615.8 726,616.1 727,616.4 728,616.6 729,616.3 730,616.2 731,616.7 732,617.2 733,616.9 734,616.4 735,616.7 736,617.6 737,618.0 738,617.2 739,615.8 740,614.5 741,613.6 742,612.9 743,612.4 744,612.5 745,613.1 746,613.4 747,613.0 748,612.3 749,611.1 750,609.2 751,607.2 752,605.7 753,604.3 754,602.1 755,598.6 756,593.6 757,587.0 758,578.6 759,569.8 760,563.5 760.6,562.2 761,562.5 762,567.3 763,574.5 764,581.7 765,588.1 766,593.4 767,597.6 768,600.7 769,603.2 770,604.8 771,604.9 772,604.0 773,602.9 774,602.2 775,601.9 776,601.9 777,601.9 778,601.5 779,600.8 780,599.6 781,596.9 782,592.2 783,585.3 784,576.4 785,565.8 786,555.1 787,547.3 787.7,545.5 788,545.9 789,552.2 790,563.2 791,574.5 792,583.2 793,588.8 794,592.9 795,596.2 796,598.8 797,601.0 798,602.8 799,604.3 800,605.1 801,605.5 802,605.8 803,606.5 804,607.5 805,608.3 806,608.5 807,608.4 808,608.1 809,608.1 810,608.5 811,609.2 812,610.3 813,611.8 814,612.9 815,613.0 816,612.2 817,611.6 818,612.0 819,613.0 820,613.4 821,612.7 822,611.7 823,610.7 824,609.7 825,608.8 826,608.3 827,607.8 828,606.9 829,605.0 830,601.3 831,595.7 832,589.6 833,584.4 834,579.9 835,576.4 835.7,575.7 836,576.0 837,579.2 838,584.9 839,591.1 840,596.2 841,599.8 842,602.7 843,605.5 844,608.0 845,610.3 846,612.4 847,614.0 848,614.9 849,614.7 850,613.5 851,612.4 852,612.1 853,612.8 854,613.3 855,613.2 856,613.1 857,613.1 858,612.6 859,611.3 860,610.1 861,609.0 862,608.1 863,607.2 864,606.3 865,605.6 865.7,605.5 866,605.6 867,606.2 868,607.6 869,609.3 870,610.3 871,610.6 872,610.8 873,611.1 874,611.1 875,610.8 876,610.6 877,610.7 878,610.8 879,610.7 880,610.0 881,608.7 882,607.0 883,605.3 884,603.3 885,601.1 886,598.4 887,594.6 888,589.0 889,581.4 890,571.6 891,559.5 892,544.6 893,526.0 894,503.2 895,476.1 896,448.2 897,427.9 897.7,423.2 898,424.0 899,438.1 900,463.8 901,492.8 902,519.2 903,540.0 904,556.1 905,569.1 906,580.2 907,589.0 908,595.5 909,600.1 910,603.3 911,605.4 912,606.7 913,607.9 914,609.5 915,611.5 916,613.2 917,614.0 918,614.2 919,614.9 920,616.1 921,616.9 922,616.7 923,615.8 924,614.6 925,613.4 926,612.1 927,610.4 928,607.8 929,604.0 930,600.0 931,597.6 931.4,597.5 932,598.1 933,600.8 934,604.6 935,608.6 936,611.9 937,614.2 938,616.1 939,618.6 940,621.0 941,622.9 942,624.3 943,625.4 944,626.0 945,626.0 946,625.5 947,624.8 948,623.8 949,622.7 950,621.5 951,620.6 952,620.3 953,620.7 954,621.7 955,622.6 956,622.7 957,621.8 958,620.4 959,618.7 960,617.3 961,616.0 962,614.3 963,611.9 964,609.5 965,607.7 966,606.5 967,606.1 968,607.0 969,609.4 970,612.3 971,614.7 972,616.5 973,618.1 974,619.9 975,621.6 976,622.2 977,621.7 978,621.0 979,620.6 980,620.5 981,620.4 982,620.7 983,621.4 984,622.2 985,622.4 986,622.1 987,621.9 988,621.9 989,621.9 990,621.6 991,621.3 992,621.3 993,621.6 994,622.0 995,622.6 996,623.6 997,624.7 998,624.8 999,623.3 1000,621.5 1001,621.1 1002,622.0 1003,622.9 1004,622.9 1005,621.9 1006,621.1 1007,620.9 1008,621.0 1008.6,621.1 1009,621.2 1010,621.6 1011,621.9 1012,622.4 1013,623.4 1014,624.8 1015,625.5 1016,625.1 1017,624.8 1018,625.3 1019,626.2 1020,626.7 1021,626.9 1022,627.2 1023,627.9 1024,628.4 1025,628.4 1026,628.4 1027,628.5 1028,628.4 1029,627.8 1030,627.0 1031,626.9 1032,627.9 1033,629.6 1034,630.9 1035,631.7 1036,632.3 1037,632.9 1038,633.0 1039,632.4 1040,631.6 1041,631.0 1042,630.6 1043,630.3 1044,629.7 1045,629.0 1046,628.5 1047,628.9 1048,629.9 1049,631.0 1050,631.6 1051,631.6 1052,631.4 1053,631.3 1054,631.8 1055,632.5 1056,632.7 1057,631.9 1058,631.0 1059,630.5 1060,630.2 1061,629.7 1062,629.1 1063,628.6 1064,628.8 1065,629.8 1066,630.9 1067,631.5 1068,631.8 1069,632.4 1070,632.9 1071,632.7 1072,631.7 1073,630.7 1074,630.2 1075,630.0 1076,629.5 1077,628.5 1078,627.2 1079,625.9 1080,624.9 1081,624.1 1082,623.6 1083,623.2 1084,622.1 1085,620.0 1086,617.1 1087,614.3 1088,612.3 1088.6,611.9 1089,611.9 1090,613.1 1091,615.9 1092,619.4 1093,622.3 1094,624.7 1095,626.8 1096,628.0 1097,627.8 1098,627.2 1099,626.9 1100,627.3 1101,628.2 1102,629.3 1103,630.2 1104,630.7 1105,630.6 1106,630.1 1107,629.4 1108,628.6 1109,627.4 1110,626.1 1111,624.3 1112,621.8 1113,618.7 1114,615.5 1115,612.4 1116,610.1 1116.6,609.6 1117,609.6 1118,610.9 1119,612.9 1120,615.7 1121,618.7 1122,621.2 1123,622.8 1124,623.9 1125,625.1 1126,626.4 1127,627.6 1128,628.9 1129,630.1 1130,630.9 1131,631.3 1132,631.6 1133,631.7 1134,631.8 1135,632.0 1136,632.0 1137,631.6 1138,630.7 1139,629.9 1140,629.6 1141,630.2 1142,631.3 1143,632.3 1144,633.1 1145,633.4 1146,633.4 1147,633.2 1148,632.8 1149,632.8 1150,633.0 1151,633.0 1152,632.9 1153,633.2 1154,634.2 1155,634.9 1156,634.8 1157,633.7 1158,632.5 1159,632.0 1160,632.6 1161,633.8 1162,634.5 1163,634.2 1164,633.3 1165,632.1 1166,631.2 1167,630.8 1168,631.1 1169,632.2 1170,633.7 1171,634.9 1172,635.2 1173,634.9 1174,634.4 1175,633.7 1176,632.5 1177,631.6 1178,631.7 1179,632.5 1180,633.2 1181,633.5 1182,633.3 1183,632.9 1184,633.0 1185,633.2 1186,633.2 1187,633.2 1188,633.6 1189,634.4 1190,634.9 1191,635.0 1192,634.5 1193,633.8 1194,633.1 1195,632.7 1196,633.0 1197,633.9 1198,634.9 1199,635.2 1200,634.9 1201,634.5 1202,634.6 1203,635.1 1204,636.0 1205,637.2 1206,638.3 1207,638.7 1208,638.3 1209,637.5 1210,637.0 1211,636.9 1212,636.7 1213,636.0 1214,635.1 1215,634.1 1216,633.5 1217,633.5 1218,634.1 1219,634.8 1220,635.2 1221,635.0 1222,634.3 1223,633.4 1224,632.6 1225,632.6 1226,633.4 1227,634.3 1228,634.6 1229,634.2 1230,633.2 1231,631.8 1232,630.2 1233,628.9 1234,628.5 1235,628.4 1236,627.0 1237,623.9 1238,619.8 1239,616.2 1240,613.4 1241,610.5 1242,606.8 1243,602.6 1244,598.5 1245,595.1 1246,592.9 1246.6,592.5 1247,592.6 1248,594.4 1249,597.6 1250,601.6 1251,606.2 1252,610.7 1253,614.5 1254,617.5 1255,620.3 1256,622.9 1257,624.8 1258,625.8 1259,626.2 1260,626.7 1261,627.5 1262,628.2 1263,629.0 1264,630.1 1265,631.2 1266,631.9 1267,632.5 1268,633.2 1269,634.1 1270,634.7 1271,634.7 1272,634.4 1273,633.7 1274,632.6 1275,631.3 1276,630.2 1277,629.8 1278,630.0 1279,630.0 1280,629.2 1281,627.8 1282,626.4 1283,625.5 1284,624.5 1285,622.9 1286,620.4 1287,617.1 1288,613.0 1289,608.3 1290,602.7 1291,596.3 1292,590.1 1293,585.9 1293.7,584.9 1294,584.9 1295,587.6 1296,592.7 1297,599.1 1298,605.5 1299,611.1 1300,615.7 1301,619.0 1302,621.1 1303,622.7 1304,624.2 1305,625.5 1306,626.9 1307,628.4 1308,629.8 1309,630.7 1310,631.2 1311,631.7 1312,632.3 1313,632.6 1314,632.5 1315,632.4 1316,632.8 1317,633.6 1318,634.3 1319,634.2 1320,633.7 1321,633.7 1322,634.4 1323,635.3 1324,635.9 1325,636.4 1326,636.9 1327,637.3 1328,636.9 1329,635.7 1330,634.3 1331,633.3 1332,632.7 1333,632.8 1334,633.5 1335,634.7 1336,635.7 1337,636.0 1338,635.5 1339,634.7 1340,634.1 1341,634.3 1342,635.4 1343,636.6 1344,637.4 1345,637.7 1346,637.7 1347,637.1 1348,635.6 1349,633.8 1350,632.5 1351,632.5 1352,633.1 1353,633.2 1354,632.6 1355,631.1 1356,629.0 1357,626.5 1358,624.1 1359,622.5 1360,621.9 1361,622.3 1362,623.5 1363,625.3 1364,627.3 1365,629.2 1366,630.7 1367,631.9 1368,633.1 1369,634.3 1370,635.5 1371,636.1 1372,635.9 1373,635.1 1374,634.4 1375,634.9 1376,636.3 1377,637.5 1378,637.8 1379,638.0 1380,638.5 1381,638.8 1382,638.0 1383,636.5 1384,635.9 1385,637.0 1386,639.2 1387,640.9 1388,640.7 1389,639.2 1390,637.7 1391,637.0 1392,637.0 1393,637.1 1394,637.3 1395,637.8 1396,639.0 1397,640.2 1398,640.6 1399,639.8 1400,638.3 1401,637.0 1402,636.7 1403,637.5 1404,638.9 1405,640.0 1406,640.1 1407,639.4 1408,638.2 1409,637.4 1410,637.5 1411,638.6 1412,639.8 1413,640.6 1414,640.8 1415,640.8 1416,640.5 1417,640.1 1418,639.7 1419,639.6 1420,639.8 1421,639.8 1422,639.2 1423,638.2 1424,638.0 1425,639.0 1426,640.1 1427,640.8 1428,641.4 1429,641.6 1430,641.2 1431,640.0 1432,638.7 1433,637.6 1434,637.2 1435,637.2 1436,637.3 1437,637.3 1438,637.8 1439,638.5 1440,638.7 1441,638.1 1442,637.4 1443,637.2 1444,637.7 1445,638.3 1446,638.7 1447,638.2 1448,636.8 1449,635.3 1450,634.7 1451,634.8 1452,634.7 1453,633.9 1454,632.9 1455,632.2 1456,631.7 1457,631.5 1458,631.4 1458.6,631.4 1459,631.5 1460,631.7 1461,632.1 1462,632.7 1463,633.6 1464,634.5 1465,634.9 1466,634.8 1467,634.4 1468,633.9 1469,634.0 1470,634.9 1471,636.0 1472,636.7 1473,637.4 1474,638.3 1475,639.4 1476,640.4 1477,640.6 1478,639.9 1479,638.7 1480,638.1 1481,638.2 1482,638.3 1483,638.5 1484,639.3 1485,640.1 1486,640.4 1487,640.9 1488,641.6 1489,641.7 1490,641.0 1491,639.7 1492,638.8 1493,639.0 1494,639.9 1495,640.3 1496,639.3 1497,637.8 1498,636.9 1499,637.1 1500,637.9 1501,639.1 1502,640.2 1503,640.9 1504,641.1 1505,640.9 1506,640.1 1507,638.7 1508,637.0 1509,636.0 1510,635.8 1511,636.0 1512,635.5 1513,634.4 1514,633.7 1515,634.0 1516,634.4 1517,634.3 1518,633.9 1519,633.4 1520,632.4 1521,630.4 1522,627.7 1523,625.0 1524,623.1 1525,621.4 1526,618.9 1527,615.7 1528,612.4 1529,609.5 1530,607.3 1531,606.1 1531.4,605.9 1532,606.0 1533,607.2 1534,609.3 1535,612.2 1536,615.2 1537,618.2 1538,620.7 1539,622.7 1540,624.7 1541,626.7 1542,628.1 1543,629.1 1544,630.0 1545,631.0 1546,631.5 1547,631.8 1548,632.0 1549,632.2 1550,632.4 1551,632.5 1552,632.7 1553,632.9 1554,633.6 1555,634.4 1556,635.1 1557,635.2 1558,634.6 1559,633.7 1560,633.3 1561,633.5 1562,633.8 1563,634.1 1564,634.5 1565,635.3 1566,635.7 1567,635.8 1568,636.1 1569,636.9 1570,637.9 1571,638.6 1572,639.1 1573,639.2 1574,638.9 1575,638.4 1576,637.6 1577,637.1 1578,637.8 1579,639.9 1580,642.2 1581,643.4 1582,643.0 1583,641.4 1584,639.9 1585,639.4 1586,640.0 1587,640.5 1588,640.7 1589,640.6 1590,640.5 1591,640.6 1592,641.1 1593,641.8 1594,642.5 1595,643.1 1596,643.5 1597,643.6 1598,643.2 1599,642.6 1600,641.8 1601,641.2 1602,640.9 1603,641.2 1604,642.1 1605,642.9 1606,643.1 1607,642.9 1608,642.8 1609,643.0 1610,643.0 1611,643.0 1612,643.2 1613,643.6 1614,643.6 1615,642.6 1616,641.1 1617,640.2 1618,640.5 1619,641.3 1620,642.1 1621,643.1 1622,644.1 1623,644.6 1624,644.5 1625,644.2 1626,644.4 1627,644.6 1628,644.3 1629,643.9 1630,644.4 1631,645.6 1632,646.2 1633,645.7 1634,644.4 1635,643.2 1636,642.7 1637,642.4 1638,641.8 1639,641.4 1640,641.6 1641,642.3 1642,642.4 1643,641.8 1644,641.2 1645,641.4 1646,642.1 1647,642.4 1648,642.2 1649,641.8 1650,641.0 1651,640.2 1652,640.1 1653,640.7 1654,641.4 1655,641.6 1656,641.4 1657,641.1 1658,640.7 1659,640.2 1660,639.9 1661,640.1 1662,640.3 1663,640.5 1664,640.5 1665,640.7 1666,640.9 1667,641.0 1668,640.7 1669,640.2 1670,639.9 1671,639.7 1672,639.9 1673,640.3 1674,640.5 1675,640.2 1676,639.8 1677,639.7 1678,639.7 1679,639.6 1680,639.3 1681,638.9 1682,638.6 1683,638.8 1684,639.2 1685,639.6 1686,639.6 1687,639.7 1688,639.8 1689,639.0 1690,637.3 1691,635.6 1692,634.5 1693,633.7 1694,632.4 1695,630.9 1696,629.8 1697,629.2 1698,628.7 1699,628.3 1700,628.0 1701,628.0 1702,628.2 1703,628.9 1704,629.8 1705,630.7 1706,631.4 1707,632.0 1708,632.5 1709,632.4 1710,631.4 1711,630.4 1712,630.1 1713,630.3 1714,630.1 1715,629.0 1716,627.3 1717,625.2 1718,622.9 1719,620.3 1720,617.4 1721,614.1 1722,610.3 1723,606.3 1724,603.0 1725,601.1 1725.7,600.8 1726,600.9 1727,602.3 1728,605.0 1729,608.4 1730,612.5 1731,616.8 1732,621.0 1733,624.8 1734,627.7 1735,629.6 1736,631.2 1737,632.7 1738,633.8 1739,634.9 1740,636.7 1741,639.0 1742,641.0 1743,642.0 1744,642.3 1745,642.3 1746,642.9 1747,644.2 1748,645.8 1749,647.0 1750,647.6 1751,647.1 1752,646.2 1753,645.7 1754,646.0 1755,646.5 1756,646.9 1757,647.0 1758,646.7 1759,645.9 1760,645.1 1761,644.4 1762,643.6 1763,642.8 1764,642.7 1765,643.7 1766,645.3 1767,646.9 1768,647.5 1769,647.0 1770,645.8 1771,644.6 1772,643.9 1773,643.8 1774,644.0 1775,643.9 1776,642.8 1777,639.4 1778,634.3 1779,631.4 1780,634.0 1781,638.4 1782,641.9 1783,643.8 1784,644.6 1785,644.8 1786,644.9 1787,645.3 1788,646.0 1789,647.0 1790,647.7 1791,647.7 1792,646.8 1793,645.0 1794,643.1 1795,642.5 1796,643.4 1797,644.4 1798,644.4 1799,643.8 1800,643.6 1801,643.8 1802,644.0 1803,644.5 1804,645.5 1805,646.7 1806,647.6 1807,647.5 1808,646.4 1809,645.3 1810,645.2 1811,645.8 1812,646.2 1813,645.9 1814,644.8 1815,643.5 1816,642.6 1817,642.5 1818,643.3 1819,644.7 1820,645.9 1821,646.2 1822,645.6 1823,644.8 1824,644.2 1825,644.1 1826,644.3 1827,644.3 1828,643.9 1829,643.4 1830,643.1 1831,642.8 1832,642.2 1833,641.6 1834,641.6 1835,642.3 1836,642.8 1837,642.7 1838,642.5 1839,642.7 1840,643.1 1841,643.2 1842,643.0 1843,643.1 1844,643.6 1845,644.3 1846,644.8 1847,644.9 1848,644.2 1849,642.9 1850,640.9 1851,638.8 1852,637.5 1853,637.3 1854,638.3 1855,639.6 1856,640.2 1857,640.2 1858,639.7 1859,639.5 1860,639.6 1861,639.8 1862,640.0 1863,640.3 1864,641.2 1865,641.9 1866,641.6 1867,640.3 1868,638.9 1869,638.1 1870,638.0 1871,638.5 1872,639.1 1873,639.4 1874,639.0 1875,638.4 1876,638.3 1877,638.7 1878,639.3 1879,639.3 1880,638.3 1881,636.8 1882,635.3 1883,634.0 1884,632.7 1885,631.6 1886,630.5 1887,628.6 1888,626.1 1889,623.7 1890,621.5 1891,619.4 1892,617.7 1893,616.6 1893.7,616.4 1894,616.4 1895,616.9 1896,618.3 1897,620.4 1898,623.1 1899,625.9 1900,628.3 1901,630.2 1902,632.0 1903,633.5 1904,634.6 1905,635.4 1906,636.3 1907,637.6 1908,638.9 1909,639.7 1910,639.9 1911,639.9 1912,640.0 1913,640.4 1914,641.1 1915,641.4 1916,640.9 1917,640.1 1918,639.9 1919,640.0 1920,639.7 1921,639.0 1922,638.3 1923,637.9 1924,637.7 1925,637.8 1926,638.3 1927,638.5 1928,638.0 1929,636.6 1930,634.9 1931,633.0 1932,631.3 1933,629.8 1934,629.0 1934.9,628.8 1936,629.4 1937,630.6 1938,632.1 1939,633.5 1940,634.7 1941,636.3 1942,638.0 1943,639.4 1944,640.1 1945,640.7 1946,641.7 1947,643.0 1948,643.9 1949,644.4 1950,644.6 1951,644.6 1952,644.6 1953,644.7 1954,644.8 1955,644.8 1956,644.7 1957,644.5 1958,644.1 1959,644.2 1960,644.9 1961,645.4 1962,645.3 1963,645.2 1964,645.4 1965,644.9 1966,643.5 1967,642.7 1968,643.5 1969,645.1 1970,646.4 1971,646.9 1972,646.9 1973,646.6 1974,646.3 1975,646.0 1976,645.8 1977,645.9 1978,646.1 1979,646.1 1980,645.9 1981,645.5 1982,645.0 1983,644.3 1984,643.7 1985,643.6 1986,644.2 1987,644.9 1988,644.8 1989,643.8 1990,643.0 1991,642.8 1992,643.0 1993,643.2 1994,643.4 1995,643.9 1996,644.1 1997,643.9 1998,643.4 1999,642.9 2000,642.9 2001,643.4 2002,643.9 2003,644.2 2004,644.5 2005,644.9 2006,644.7 2007,643.9 2008,643.2 2009,642.7 2010,642.8 2011,643.7 2012,644.7 2013,645.0 2014,644.5 2015,644.0 2016,644.1 2017,644.6 2018,644.8 2019,644.4 2020,643.7 2021,643.1 2022,642.6 2023,642.3 2024,642.2 2025,642.3 2026,643.0 2027,643.9 2028,644.6 2029,644.3 2030,643.2 2031,642.3 2032,642.2 2033,642.8 2034,643.7 2035,644.3 2036,644.1 2037,643.6 2038,643.3 2039,643.2 2040,643.1 2041,643.0 2042,643.0 2043,643.3 2044,644.1 2045,645.3 2046,646.1 2047,646.2 2048,645.9 2049,645.6 2050,645.4 2051,645.6 2052,646.3 2053,647.2 2054,648.0 2055,648.3 2056,648.0 2057,647.2 2058,646.5 2059,646.5 2060,647.2 2061,647.9 2062,647.4 2063,646.1 2064,645.1 2065,644.8 2066,644.9 2067,645.0 2068,644.9 2069,644.3 2070,644.0 2071,644.4 2072,645.6 2073,646.8 2074,647.4 2075,646.8 2076,645.6 2077,644.6 2078,644.4 2079,644.7 2080,645.3 2081,645.8 2082,646.0 2083,646.2 2084,646.5 2085,646.6 2086,646.3 2087,645.4 2088,644.4 2089,643.8 2090,644.1 2091,644.8 2092,645.7 2093,646.3 2094,646.6 2095,646.4 2096,646.0 2097,645.7 2098,645.6 2099,645.5 2100,645.4 2101,645.4 2102,645.2 2103,644.8 2104,644.8 2105,645.0 2106,645.2 2107,645.4 2108,646.0 2109,646.5 2110,646.4 2111,646.1 2112,646.0 2113,645.7 2114,645.0 2115,644.4 2116,644.0 2117,643.7 2118,643.4 2119,643.7 2120,644.8 2121,645.8 2122,646.0 2123,645.6 2124,644.7 2125,643.7 2126,643.5 2127,644.7 2128,646.5 2129,647.9 2130,648.3 2131,647.7 2132,646.7 2133,646.1 2134,645.8 2135,645.1 2136,644.0 2137,643.2 2138,643.1 2139,643.7 2140,644.9 2141,646.3 2142,647.4 2143,647.8 2144,647.5 2145,646.7 2146,646.3 2147,646.6 2148,647.2 2149,647.0 2150,646.1 2151,645.3 2152,644.7 2153,644.0 2154,643.1 2155,642.5 2156,642.8 2157,643.8 2158,645.2 2159,646.2 2160,646.2 2161,645.7 2162,646.1 2163,647.3 2164,647.9 2165,647.2 2166,646.2 2167,646.0 2168,646.4 2169,646.6 2170,646.7 2171,647.0 2172,647.3 2173,647.4 2174,647.1 2175,646.6 2176,645.9 2177,645.4 2178,645.3 2179,645.3 2180,645.5 2181,645.7 2182,646.0 2183,646.3 2184,646.5 2185,646.3 2186,645.6 2187,644.9 2188,644.5 2189,644.6 2190,645.5 2191,646.6 2192,647.1 2193,646.2 2194,644.5 2195,643.4 2196,643.8 2197,645.0 2198,645.7 2199,645.8 2200,645.6 2201,645.4 2202,645.4 2203,645.8 2204,646.1 2205,645.9 2206,645.2 2207,644.3 2208,643.8 2209,643.9 2210,644.5 2211,645.4 2212,646.1 2213,646.5 2214,646.5 2215,646.3 2216,646.1 2217,646.2 2218,646.8 2219,647.4 2220,647.8 2221,648.2 2222,648.3 2223,647.8 2224,647.3 2225,647.6 2226,648.6 2227,649.4 2228,649.7 2229,649.2 2230,648.3 2231,647.3 2232,646.7 2233,646.6 2234,646.4 2235,646.4 2236,646.8 2237,647.3 2238,647.2 2239,646.5 2240,645.9 2241,645.8 2242,646.2 2243,646.6 2244,646.6 2245,645.9 2246,644.7 2247,643.2 2248,642.1 2249,642.0 2250,642.9 2251,644.2 2252,645.4 2253,646.5 2254,647.4 2255,647.8 2256,647.9 2257,648.1 2258,648.7 2259,649.1 2260,648.7 2261,647.8 2262,646.7 2263,645.8 2264,645.5 2265,646.1 2266,647.2 2267,648.3 2268,648.9 2269,648.9 2270,648.6 2271,648.7 2272,649.1 2273,649.5 2274,649.8 2275,649.8 2276,649.7 2277,649.5 2278,649.1 2279,648.6 2280,647.9 2281,647.4 2282,647.7 2283,648.6 2284,649.2 2285,648.9 2286,648.3 2287,647.9 2288,647.8"/>
<polyline fill="none" stroke="#006ce2" stroke-width="9.6" stroke-linejoin="round" stroke-linecap="butt" points="70,882.9 71,881.9 72,881.1 73,880.7 74,880.3 75,879.8 76,879.8 77,880.8 78,882.6 79,883.8 80,883.5 81,882.1 82,880.7 83,880.0 84,879.9 85,880.5 86,881.2 87,881.8 88,882.1 89,882.3 90,882.6 91,882.7 92,882.3 93,881.7 94,881.8 95,882.3 96,882.5 97,882.0 98,881.3 99,880.7 100,880.4 101,880.6 102,881.0 103,881.1 104,880.3 105,879.1 106,878.1 107,877.7 108,877.5 109,877.8 110,878.4 111,878.7 112,878.4 113,878.2 114,878.7 115,879.7 116,880.5 117,880.7 118,880.3 119,879.5 120,878.7 121,878.2 122,878.2 123,878.1 124,877.4 125,876.5 126,875.8 127,875.7 128,876.0 129,876.1 130,875.8 131,875.5 132,875.3 133,875.0 134,874.8 135,875.2 136,875.8 137,875.7 138,875.0 139,874.8 140,875.3 141,875.9 142,875.9 143,875.5 144,875.2 145,875.3 146,875.4 147,875.0 148,874.4 149,874.7 150,875.7 151,876.6 152,876.7 153,876.0 154,874.7 155,873.3 156,872.5 157,872.4 158,872.4 159,872.0 160,871.8 161,872.0 162,872.1 163,871.6 164,870.7 165,870.7 166,871.7 167,872.9 168,873.2 169,872.7 170,872.0 171,871.7 172,871.5 173,871.2 174,870.9 175,870.9 176,871.4 177,872.3 178,873.5 179,874.4 180,873.9 181,872.1 182,870.0 183,868.9 184,868.7 185,868.9 186,869.4 187,870.0 188,870.0 189,869.2 190,868.7 191,869.2 192,870.6 193,872.1 194,872.9 195,872.9 196,872.8 197,873.1 198,873.5 199,873.3 200,872.2 201,871.0 202,870.5 203,871.0 204,871.8 205,871.8 206,871.3 207,870.7 208,870.4 209,870.4 210,871.1 211,872.2 212,872.7 213,871.8 214,870.2 215,869.4 216,869.8 217,871.0 218,872.0 219,872.2 220,872.0 221,871.4 222,870.6 223,869.9 224,869.8 225,870.0 226,870.0 227,870.0 228,870.3 229,871.0 230,871.6 231,872.0 232,872.5 233,873.2 234,873.4 235,872.8 236,872.0 237,871.7 238,872.1 239,873.0 240,873.9 241,874.5 242,874.7 243,874.5 244,874.0 245,873.4 246,873.1 247,873.5 248,874.4 249,875.5 250,876.1 251,875.6 252,874.3 253,873.3 254,872.9 255,872.9 256,872.9 257,873.2 258,873.6 259,873.8 260,873.4 261,872.6 262,871.6 263,870.7 264,870.4 265,871.1 266,872.3 267,873.5 268,874.3 269,874.7 270,874.7 271,874.0 272,872.7 273,871.6 274,870.9 275,870.9 276,871.3 277,872.1 278,872.9 279,873.0 280,872.6 281,872.0 282,871.7 283,871.7 284,871.7 285,871.8 286,871.6 287,871.2 288,870.5 289,869.9 290,869.8 291,870.4 292,871.7 293,872.8 294,872.9 295,872.3 296,872.0 297,872.0 298,872.2 299,872.1 300,871.8 301,871.7 302,872.1 303,872.7 304,873.2 305,873.7 306,874.1 307,874.2 308,873.8 309,873.7 310,874.4 311,875.4 312,876.0 313,875.6 314,875.1 315,875.3 316,876.5 317,877.5 318,877.8 319,877.7 320,877.9 321,878.5 322,878.8 323,878.6 324,878.3 325,878.1 326,878.0 327,878.1 328,878.3 329,878.1 330,877.4 331,877.1 332,877.7 333,879.0 334,880.3 335,881.1 336,881.3 337,881.1 338,880.8 339,880.8 340,880.8 341,881.0 342,881.4 343,881.5 344,881.4 345,881.5 346,881.9 347,882.1 348,881.7 349,881.2 350,880.9 351,880.7 352,880.7 353,881.2 354,882.0 355,882.6 356,882.8 357,882.5 358,881.7 359,880.9 360,880.9 361,881.8 362,883.0 363,883.9 364,884.3 365,884.2 366,883.4 367,882.0 368,881.0 369,880.8 370,881.0 371,881.1 372,881.3 373,881.5 374,881.5 375,881.7 376,882.6 377,884.0 378,885.2 379,886.0 380,885.9 381,884.8 382,883.7 383,883.6 384,884.5 385,885.7 386,886.2 387,886.1 388,885.7 389,885.3 390,884.6 391,883.8 392,883.1 393,882.9 394,883.2 395,884.0 396,885.3 397,887.2 398,889.0 399,890.0 400,889.7 401,888.9 402,888.2 403,887.9 404,887.4 405,886.6 406,885.6 407,885.3 408,886.2 409,887.4 410,888.0 411,887.9 412,887.9 413,888.2 414,888.7 415,889.3 416,889.7 417,889.7 418,889.5 419,889.4 420,889.4 421,889.7 422,890.5 423,891.2 424,891.3 425,890.4 426,889.6 427,889.4 428,889.7 429,890.1 430,890.4 431,890.1 432,889.1 433,887.8 434,887.4 435,888.1 436,889.0 437,889.2 438,888.9 439,889.0 440,889.5 441,889.9 442,890.3 443,890.9 444,891.5 445,891.9 446,892.2 447,892.4 448,892.0 449,891.3 450,890.9 451,891.1 452,891.7 453,892.4 454,893.1 455,893.6 456,893.5 457,892.5 458,891.2 459,890.5 460,890.9 461,891.7 462,891.9 463,891.5 464,890.8 465,890.5 466,890.8 467,891.1 468,890.8 469,890.0 470,889.8 471,890.4 472,891.2 473,891.4 474,891.5 475,891.9 476,892.1 477,891.7 478,890.7 479,889.4 480,887.8 481,886.0 482,884.2 483,882.5 484,880.3 485,877.1 486,873.8 487,871.0 488,868.5 489,866.7 490,866.1 491,866.9 492,868.8 493,871.4 494,874.5 495,878.0 496,881.0 497,883.2 498,884.8 499,886.1 500,886.8 501,887.0 502,887.2 503,887.9 504,888.8 505,889.9 506,891.0 507,891.6 508,891.8 509,891.7 510,891.5 511,891.2 512,891.2 513,891.7 514,892.4 515,892.8 516,893.1 517,893.5 518,894.2 519,894.7 520,894.9 521,894.7 522,894.3 523,894.2 524,894.9 525,896.1 526,896.7 527,896.5 528,895.7 529,895.0 530,894.7 531,894.5 532,894.2 533,893.5 534,892.6 535,892.3 536,892.8 537,893.1 538,892.0 539,889.0 540,885.1 541,881.4 542,877.9 543,873.5 544,867.1 545,857.8 546,845.2 547,829.3 548,811.0 549,794.5 550,787.5 551,794.6 552,811.1 553,829.5 554,845.7 555,858.3 556,867.5 557,874.4 558,879.9 559,884.3 560,888.0 561,891.1 562,893.4 563,894.9 564,895.7 565,896.1 566,896.1 567,895.6 568,895.3 569,895.8 570,896.6 571,897.1 572,897.2 573,897.2 574,897.1 575,896.7 576,895.6 577,894.0 578,892.3 579,890.4 580,888.0 581,884.6 582,879.6 583,872.1 584,863.0 585,855.7 585.7,854.0 586,854.4 587,859.6 588,868.0 589,876.6 590,883.5 591,888.3 592,891.7 593,894.6 594,897.4 595,899.5 596,900.5 597,900.7 598,900.5 599,900.3 600,900.5 601,901.1 602,901.6 603,902.0 604,902.8 605,903.9 606,904.5 607,904.4 608,904.0 609,903.7 610,903.4 611,903.3 612,903.6 613,903.9 614,903.8 615,903.2 616,902.7 617,902.2 618,901.7 619,900.8 620,899.9 621,899.5 622,899.6 623,899.9 624,899.6 625,898.9 626,898.3 627,898.1 628,898.3 629,898.7 630,898.6 631,897.6 632,896.8 633,897.8 634,899.6 635,901.0 636,901.6 637,901.9 638,902.2 639,902.9 640,903.5 641,903.6 642,903.4 643,903.2 644,903.5 645,904.4 646,905.2 647,904.8 648,903.1 649,901.9 650,902.3 651,903.8 652,904.9 653,905.0 654,904.4 655,904.3 656,904.7 657,905.3 658,905.9 659,906.7 660,907.4 661,907.9 662,908.0 663,907.6 664,907.1 665,907.3 666,907.8 667,908.4 668,908.4 669,907.8 670,907.1 671,907.0 672,907.6 673,908.3 674,908.9 675,909.1 676,908.8 677,908.1 678,907.8 679,907.9 680,908.3 681,909.0 682,910.1 683,911.2 684,911.7 685,912.1 686,912.1 687,911.1 688,909.6 689,908.4 690,907.6 691,907.0 692,906.9 693,907.4 694,908.1 695,908.7 696,909.1 697,909.2 698,909.0 699,909.2 700,909.9 701,910.6 702,910.9 703,910.8 704,910.6 705,910.4 706,910.3 707,910.2 708,910.0 709,909.5 710,909.0 711,908.7 712,909.2 713,909.9 714,910.3 715,910.1 716,909.6 717,908.9 718,908.2 719,908.0 720,908.2 721,908.5 722,909.0 723,909.7 724,910.6 725,911.9 726,913.0 727,913.3 728,912.5 729,910.9 730,909.1 731,907.8 732,907.1 733,907.4 734,908.7 735,910.4 736,911.2 737,910.7 738,909.5 739,908.6 740,908.4 741,908.7 742,909.4 743,910.4 744,911.0 745,910.8 746,909.5 747,907.9 748,906.7 749,905.9 750,904.5 751,902.3 752,899.7 753,897.6 754,895.8 755,893.3 756,889.3 757,883.7 758,877.1 759,869.4 760,860.0 761,850.4 762,844.6 762.3,844.1 763,845.7 764,853.0 765,862.2 766,870.5 767,877.2 768,882.9 769,888.0 770,891.8 771,894.0 772,894.5 773,894.4 774,894.8 775,895.2 776,895.1 777,894.5 778,894.4 779,894.7 780,894.4 781,893.0 782,890.7 783,887.7 784,884.2 785,880.2 786,874.8 787,867.8 788,861.5 789,859.0 790,861.6 791,867.8 792,874.8 793,881.2 794,886.2 795,889.8 796,892.4 797,894.6 798,896.8 799,898.8 800,900.4 801,901.2 802,901.3 803,901.2 804,901.6 805,902.5 806,903.4 807,903.9 808,904.0 809,904.0 810,904.1 811,904.3 812,904.7 813,905.2 814,905.4 815,904.8 816,903.9 817,903.2 818,903.0 819,903.3 820,904.1 821,905.3 822,906.6 823,907.5 824,907.4 825,906.5 826,905.0 827,903.4 828,901.9 829,901.3 830,901.3 831,900.9 832,899.1 833,896.1 834,891.9 835,886.6 836,881.1 837,876.4 838,873.1 839,872.0 840,873.7 841,877.7 842,882.2 843,886.6 844,890.8 845,894.9 846,898.9 847,902.2 848,904.1 849,904.7 850,904.8 851,905.6 852,906.8 853,907.3 854,907.0 855,906.7 856,906.6 857,906.2 858,905.2 859,903.9 860,902.6 861,901.2 862,900.2 862.9,899.6 864,899.1 865,898.8 866,899.4 867,900.8 868,902.2 869,902.8 870,903.0 871,903.1 872,903.2 873,903.2 874,903.2 875,903.2 876,902.8 877,902.0 878,900.8 879,899.2 880,897.5 881,896.1 882,895.1 883,894.1 884,892.9 885,891.5 886,890.3 887,888.9 888,886.4 889,882.3 890,876.3 891,868.1 892,856.6 893,841.1 894,821.4 895,797.1 896,767.7 897,735.2 898,705.9 899,688.7 899.4,687.3 900,691.5 901,712.9 902,743.8 903,774.9 904,802.2 905,825.0 906,843.6 907,858.4 908,869.8 909,878.5 910,885.8 911,892.2 912,897.3 913,900.7 914,902.7 915,903.9 916,904.9 917,905.9 918,906.8 919,907.4 920,907.9 921,908.5 922,909.1 923,909.3 924,909.0 925,908.5 926,907.9 927,906.5 928,904.5 929,902.0 930,899.5 931,897.7 931.4,897.5 932,897.8 933,899.7 934,903.1 935,907.2 936,910.3 937,911.8 938,912.5 939,913.3 940,914.5 941,915.4 942,915.6 943,915.4 944,915.6 945,916.0 946,916.2 947,916.2 948,916.2 949,916.7 950,917.0 951,916.6 952,915.7 953,915.2 954,915.2 955,915.3 956,915.2 957,915.5 958,916.2 959,916.7 960,916.5 961,915.9 962,915.0 963,913.7 964,911.8 965,909.5 966,906.6 967,903.9 968,902.3 968.6,901.9 969,902.0 970,902.9 971,904.7 972,907.0 973,909.4 974,911.7 975,913.6 976,914.6 977,915.3 978,916.2 979,917.2 980,918.3 981,919.6 982,920.5 983,920.3 984,919.3 985,918.1 986,916.7 987,915.3 988,914.7 989,915.7 990,917.6 991,919.0 992,919.1 993,918.3 994,917.9 995,918.0 996,918.2 997,918.4 998,918.9 999,919.4 1000,920.1 1001,920.7 1002,921.1 1003,920.9 1004,920.4 1005,920.0 1006,919.1 1007,917.7 1008,916.3 1009,915.3 1010,914.7 1011,914.4 1011.4,914.4 1012,914.5 1013,915.0 1014,915.9 1015,917.0 1016,918.0 1017,918.4 1018,918.4 1019,918.4 1020,918.7 1021,919.7 1022,920.8 1023,921.5 1024,922.0 1025,922.8 1026,923.9 1027,924.5 1028,924.2 1029,923.9 1030,924.1 1031,924.6 1032,924.7 1033,924.6 1034,924.7 1035,924.7 1036,924.3 1037,923.7 1038,923.2 1039,923.2 1040,923.5 1041,923.8 1042,924.3 1043,924.5 1044,924.1 1045,923.7 1046,923.8 1047,924.6 1048,925.1 1049,924.9 1050,923.9 1051,922.9 1052,922.5 1053,922.7 1054,923.1 1055,923.6 1056,924.2 1057,924.8 1058,925.1 1059,925.1 1060,924.9 1061,924.1 1062,922.4 1063,920.9 1064,920.7 1065,921.1 1066,921.0 1067,920.7 1068,921.1 1069,922.2 1070,922.7 1071,922.5 1072,922.0 1073,921.6 1074,921.5 1075,922.0 1076,922.8 1077,923.3 1078,923.1 1079,922.1 1080,920.8 1081,919.4 1082,918.1 1083,916.9 1084,915.7 1085,913.9 1086,911.4 1087,908.6 1088,906.4 1089,905.5 1090,906.5 1091,908.6 1092,910.7 1093,912.1 1094,913.4 1095,915.4 1096,917.8 1097,919.8 1098,921.0 1099,921.8 1100,922.9 1101,923.9 1102,924.3 1103,923.9 1104,923.1 1105,922.4 1106,922.0 1107,921.7 1108,920.7 1109,919.0 1110,916.8 1111,914.8 1112,913.8 1113,913.3 1114,911.9 1115,909.2 1116,906.8 1117,905.9 1118,906.8 1119,909.1 1120,912.0 1121,915.3 1122,918.3 1123,920.6 1124,922.0 1125,922.4 1126,922.2 1127,921.9 1128,922.0 1129,922.4 1130,922.6 1131,922.7 1132,923.4 1133,925.0 1134,926.5 1135,926.8 1136,925.7 1137,924.2 1138,923.2 1139,922.8 1140,922.7 1141,922.9 1142,923.4 1143,924.2 1144,924.9 1145,925.8 1146,926.7 1147,927.4 1148,927.7 1149,927.7 1150,927.3 1151,926.8 1152,926.4 1153,926.1 1154,925.7 1155,925.4 1156,925.5 1157,926.0 1158,926.5 1159,927.0 1160,927.1 1161,927.0 1162,926.7 1163,925.8 1164,924.9 1165,924.8 1166,925.0 1167,924.5 1168,923.6 1169,923.2 1170,923.8 1171,924.7 1172,925.6 1173,926.0 1174,926.1 1175,926.4 1176,927.2 1177,927.8 1178,928.2 1179,928.3 1180,928.1 1181,927.2 1182,926.0 1183,925.3 1184,925.7 1185,927.1 1186,928.5 1187,929.1 1188,928.8 1189,927.7 1190,926.4 1191,925.8 1192,925.9 1193,926.0 1194,925.4 1195,924.5 1196,924.0 1197,924.1 1198,924.5 1199,925.2 1200,926.0 1201,926.8 1202,927.1 1203,926.6 1204,925.7 1205,925.8 1206,927.3 1207,928.8 1208,929.3 1209,928.7 1210,927.6 1211,926.4 1212,925.6 1213,925.6 1214,926.2 1215,926.8 1216,926.7 1217,926.2 1218,925.9 1219,925.5 1220,924.7 1221,923.8 1222,923.8 1223,924.9 1224,926.1 1225,926.5 1226,926.1 1227,925.4 1228,924.7 1229,923.8 1230,923.0 1231,922.8 1232,923.0 1233,923.2 1234,922.9 1235,922.1 1236,920.5 1237,918.3 1238,916.2 1239,914.5 1240,912.6 1241,909.8 1242,906.3 1243,902.5 1244,898.3 1245,893.8 1246,889.4 1247,885.8 1248,883.8 1248.6,883.4 1249,883.6 1250,885.3 1251,888.5 1252,892.3 1253,896.1 1254,899.4 1255,902.3 1256,905.2 1257,908.5 1258,912.0 1259,915.3 1260,918.3 1261,920.6 1262,922.2 1263,923.0 1264,923.4 1265,923.7 1266,923.7 1267,923.5 1268,923.7 1269,924.1 1270,924.6 1271,924.7 1272,924.5 1273,924.1 1274,923.6 1275,923.2 1276,922.7 1277,922.3 1278,922.3 1279,922.9 1280,923.5 1281,923.3 1282,922.3 1283,920.8 1284,919.2 1285,918.0 1286,917.2 1287,916.4 1288,914.9 1289,912.4 1290,909.0 1291,905.3 1292,901.7 1293,898.2 1294,894.7 1295,892.4 1295.7,891.8 1296,891.9 1297,893.5 1298,896.4 1299,900.0 1300,904.1 1301,908.2 1302,912.0 1303,915.2 1304,917.8 1305,919.5 1306,920.8 1307,922.4 1308,924.1 1309,925.2 1310,925.2 1311,924.2 1312,923.5 1313,923.4 1314,924.1 1315,924.9 1316,925.7 1317,926.2 1318,926.1 1319,925.6 1320,924.8 1321,924.1 1322,924.3 1323,925.2 1324,925.9 1325,926.1 1326,925.8 1327,925.1 1328,924.3 1329,923.8 1330,924.1 1331,924.9 1332,925.7 1333,926.6 1334,927.4 1335,927.4 1336,926.7 1337,925.8 1338,925.6 1339,925.9 1340,926.5 1341,927.2 1342,927.9 1343,928.7 1344,929.4 1345,929.5 1346,928.4 1347,926.9 1348,925.5 1349,924.7 1350,924.5 1351,924.8 1352,925.1 1353,925.2 1354,924.9 1355,924.2 1356,923.6 1357,923.3 1358,922.4 1359,920.5 1360,918.5 1361,917.2 1362,916.5 1362.9,916.2 1364,917.2 1365,919.0 1366,920.9 1367,922.3 1368,923.4 1369,924.0 1370,924.6 1371,925.3 1372,926.1 1373,927.0 1374,928.1 1375,928.9 1376,929.1 1377,929.1 1378,929.4 1379,929.9 1380,929.9 1381,929.7 1382,930.0 1383,930.6 1384,931.2 1385,931.7 1386,931.7 1387,930.8 1388,929.5 1389,928.9 1390,929.2 1391,929.5 1392,929.2 1393,928.6 1394,928.6 1395,929.3 1396,930.0 1397,930.3 1398,930.4 1399,930.7 1400,931.0 1401,931.3 1402,931.1 1403,930.7 1404,930.4 1405,930.2 1406,930.3 1407,930.9 1408,931.7 1409,932.0 1410,931.6 1411,931.1 1412,930.6 1413,930.5 1414,930.7 1415,930.9 1416,930.5 1417,929.8 1418,929.2 1419,929.3 1420,930.0 1421,930.5 1422,930.6 1423,930.7 1424,931.2 1425,931.8 1426,931.9 1427,931.7 1428,931.4 1429,931.3 1430,931.2 1431,931.1 1432,931.0 1433,930.8 1434,930.8 1435,931.0 1436,931.0 1437,930.6 1438,930.5 1439,931.0 1440,932.0 1441,932.8 1442,932.9 1443,932.3 1444,931.3 1445,930.4 1446,929.9 1447,930.0 1448,930.3 1449,930.5 1450,930.5 1451,930.6 1452,930.4 1453,929.6 1454,928.4 1455,927.2 1456,926.1 1457,925.2 1458,924.6 1459,924.3 1460,924.2 1461,924.2 1462,924.3 1463,924.6 1464,924.9 1465,925.1 1466,925.0 1467,924.9 1468,924.8 1469,925.2 1470,926.2 1471,927.6 1472,928.8 1473,929.5 1474,929.6 1475,929.2 1476,929.1 1477,929.6 1478,930.2 1479,930.3 1480,930.0 1481,929.8 1482,929.7 1483,929.5 1484,929.0 1485,928.3 1486,927.9 1487,928.3 1488,929.3 1489,930.1 1490,930.1 1491,929.6 1492,929.2 1493,929.0 1494,929.0 1495,929.1 1496,929.7 1497,930.1 1498,929.7 1499,928.5 1500,927.4 1501,926.8 1502,926.2 1503,925.6 1504,925.3 1505,925.2 1506,925.9 1507,927.3 1508,928.7 1509,929.3 1510,929.4 1511,929.5 1512,929.5 1513,929.1 1514,927.9 1515,926.4 1516,925.4 1517,925.0 1518,924.6 1519,924.2 1520,923.7 1521,923.5 1522,923.0 1523,921.7 1524,919.2 1525,916.2 1526,913.5 1527,911.4 1528,909.5 1529,906.9 1530,903.5 1531,899.9 1532,896.9 1533,894.8 1534,893.8 1534.3,893.7 1535,894.0 1536,895.5 1537,898.2 1538,901.6 1539,904.9 1540,908.0 1541,911.2 1542,914.4 1543,917.3 1544,920.0 1545,922.3 1546,924.1 1547,924.9 1548,925.5 1549,926.2 1550,927.3 1551,928.3 1552,929.1 1553,929.4 1554,929.0 1555,928.3 1556,927.7 1557,927.5 1558,927.4 1559,927.1 1560,926.2 1561,924.8 1562,923.5 1563,922.3 1564,921.1 1565,920.2 1565.7,920.0 1566,920.0 1567,920.5 1568,921.6 1569,923.6 1570,925.7 1571,927.2 1572,927.9 1573,928.3 1574,928.6 1575,929.4 1576,930.4 1577,931.4 1578,931.9 1579,932.0 1580,931.7 1581,931.5 1582,931.8 1583,932.4 1584,932.5 1585,932.0 1586,931.3 1587,930.8 1588,930.7 1589,930.9 1590,931.2 1591,931.9 1592,932.7 1593,933.2 1594,933.1 1595,932.7 1596,931.9 1597,931.2 1598,931.6 1599,932.7 1600,933.4 1601,933.0 1602,931.8 1603,930.7 1604,930.2 1605,930.4 1606,931.1 1607,931.9 1608,933.0 1609,934.4 1610,935.6 1611,935.7 1612,934.8 1613,933.5 1614,932.7 1615,932.7 1616,933.4 1617,933.9 1618,933.8 1619,933.3 1620,932.8 1621,932.7 1622,933.4 1623,934.2 1624,934.6 1625,934.7 1626,934.7 1627,935.1 1628,936.1 1629,937.0 1630,937.0 1631,935.8 1632,934.0 1633,932.5 1634,931.8 1635,932.0 1636,933.1 1637,934.4 1638,935.0 1639,934.5 1640,933.5 1641,932.5 1642,931.6 1643,931.3 1644,931.5 1645,932.2 1646,932.7 1647,932.7 1648,932.4 1649,932.3 1650,932.5 1651,932.8 1652,933.0 1653,933.4 1654,934.4 1655,935.5 1656,936.1 1657,935.7 1658,934.4 1659,933.0 1660,932.8 1661,933.8 1662,934.6 1663,934.0 1664,932.5 1665,931.6 1666,931.6 1667,932.1 1668,932.6 1669,932.8 1670,932.3 1671,931.5 1672,930.9 1673,930.8 1674,931.2 1675,931.7 1676,932.0 1677,932.5 1678,933.1 1679,933.4 1680,933.4 1681,933.5 1682,934.2 1683,935.2 1684,935.9 1685,935.6 1686,934.8 1687,934.0 1688,933.7 1689,934.0 1690,934.3 1691,934.5 1692,934.8 1693,934.7 1694,933.9 1695,932.6 1696,931.3 1697,930.0 1698,928.6 1699,926.9 1700,925.2 1701,923.5 1702,922.4 1703,921.7 1704,921.0 1705,920.4 1705.7,920.1 1706,920.0 1707,919.9 1708,920.0 1709,920.7 1710,921.8 1711,922.9 1712,923.2 1713,922.5 1714,921.2 1715,920.3 1716,919.9 1717,919.5 1718,918.5 1719,917.2 1720,915.8 1721,914.8 1722,913.6 1723,911.5 1724,908.5 1725,905.3 1726,902.2 1727,899.4 1728,897.1 1729,895.6 1730,895.1 1731,895.6 1732,896.8 1733,898.7 1734,901.5 1735,905.4 1736,909.2 1737,912.3 1738,914.9 1739,917.4 1740,919.7 1741,921.4 1742,922.3 1743,923.1 1744,924.9 1745,927.6 1746,930.0 1747,931.3 1748,931.8 1749,932.5 1750,933.8 1751,935.8 1752,937.6 1753,938.5 1754,938.1 1755,937.5 1756,937.5 1757,937.6 1758,937.5 1759,937.0 1760,936.3 1761,936.1 1762,936.3 1763,936.4 1764,936.1 1765,935.6 1766,935.0 1767,934.0 1768,933.0 1769,932.2 1770,931.7 1771,931.5 1772,931.6 1773,931.5 1774,930.7 1775,929.0 1776,926.3 1777,921.3 1778,914.7 1778.6,912.9 1779,913.6 1780,919.6 1781,925.2 1782,928.7 1783,930.9 1784,932.4 1785,933.4 1786,934.1 1787,934.7 1788,935.1 1789,935.0 1790,934.4 1791,933.9 1792,934.0 1793,934.5 1794,935.2 1795,936.1 1796,936.6 1797,936.3 1798,935.6 1799,935.1 1800,934.6 1801,933.6 1802,932.7 1803,932.5 1804,932.7 1805,932.6 1806,932.3 1807,932.4 1808,932.9 1809,933.0 1810,932.6 1811,932.4 1812,932.3 1813,931.9 1814,931.3 1815,930.8 1816,930.8 1817,931.1 1818,931.4 1819,931.7 1820,932.5 1821,933.3 1822,933.6 1823,933.5 1824,933.3 1825,933.3 1826,933.2 1827,932.7 1828,931.7 1829,930.6 1830,929.9 1831,929.7 1832,929.9 1833,930.4 1834,931.2 1835,932.0 1836,932.4 1837,932.1 1838,931.2 1839,929.9 1840,929.0 1841,928.7 1842,928.7 1843,929.0 1844,930.0 1845,931.7 1846,932.7 1847,932.1 1848,931.0 1849,930.3 1850,930.0 1851,929.1 1852,927.9 1853,927.2 1854,927.4 1855,928.6 1856,929.7 1857,929.4 1858,928.2 1859,927.6 1860,927.9 1861,928.4 1862,928.5 1863,928.4 1864,927.9 1865,927.1 1866,926.0 1867,925.2 1868,925.3 1869,926.1 1870,927.1 1871,927.8 1872,928.2 1873,928.6 1874,929.3 1875,930.2 1876,930.6 1877,930.2 1878,929.6 1879,929.0 1880,928.1 1881,926.7 1882,925.2 1883,924.0 1884,923.6 1885,923.5 1886,922.9 1887,921.5 1888,919.8 1889,918.0 1890,915.8 1891,913.3 1892,910.8 1893,908.7 1894,907.1 1895,905.3 1896,903.2 1897,901.0 1898,899.6 1898.9,899.2 1900,900.0 1901,901.7 1902,903.7 1903,905.7 1904,907.7 1905,910.1 1906,912.9 1907,915.5 1908,917.6 1909,919.2 1910,921.0 1911,923.1 1912,924.8 1913,925.3 1914,925.2 1915,925.3 1916,925.9 1917,926.5 1918,926.9 1919,927.2 1920,927.5 1921,927.9 1922,928.8 1923,929.9 1924,930.1 1925,928.7 1926,926.4 1927,924.3 1928,923.0 1929,922.5 1930,922.1 1931,921.2 1932,919.5 1933,917.9 1934,917.0 1934.9,916.8 1936,917.4 1937,918.4 1938,919.6 1939,920.8 1940,922.3 1941,924.6 1942,927.4 1943,929.9 1944,931.0 1945,930.9 1946,930.9 1947,931.4 1948,931.8 1949,931.9 1950,932.4 1951,933.5 1952,934.4 1953,934.5 1954,934.3 1955,934.1 1956,934.2 1957,934.5 1958,935.0 1959,935.3 1960,935.4 1961,935.6 1962,935.9 1963,936.0 1964,935.9 1965,935.9 1966,936.1 1967,936.6 1968,937.3 1969,937.5 1970,936.6 1971,935.1 1972,934.0 1973,933.4 1974,932.9 1975,932.7 1976,933.2 1977,934.1 1978,935.1 1979,935.8 1980,936.3 1981,936.6 1982,936.9 1983,937.1 1984,936.9 1985,935.8 1986,934.3 1987,933.3 1988,933.2 1989,933.9 1990,935.0 1991,935.8 1992,935.8 1993,935.3 1994,934.9 1995,934.8 1996,934.8 1997,934.8 1998,935.1 1999,935.5 2000,936.2 2001,937.1 2002,937.8 2003,938.0 2004,937.8 2005,937.9 2006,938.4 2007,938.9 2008,938.9 2009,938.5 2010,937.9 2011,937.1 2012,936.3 2013,936.0 2014,936.1 2015,936.2 2016,935.9 2017,935.3 2018,935.4 2019,936.1 2020,936.9 2021,937.2 2022,937.3 2023,938.2 2024,939.2 2025,938.8 2026,937.2 2027,935.5 2028,934.7 2029,934.9 2030,935.0 2031,934.9 2032,934.7 2033,934.5 2034,934.5 2035,934.8 2036,934.8 2037,934.3 2038,933.5 2039,933.1 2040,933.9 2041,935.4 2042,936.5 2043,936.5 2044,935.8 2045,935.1 2046,934.9 2047,935.3 2048,935.8 2049,935.8 2050,935.6 2051,935.3 2052,935.5 2053,935.7 2054,935.5 2055,935.0 2056,934.6 2057,934.5 2058,934.7 2059,935.0 2060,935.3 2061,935.5 2062,935.7 2063,935.9 2064,936.1 2065,936.2 2066,936.9 2067,937.7 2068,938.1 2069,937.8 2070,937.5 2071,937.4 2072,937.2 2073,936.9 2074,936.4 2075,935.6 2076,934.6 2077,934.3 2078,934.9 2079,936.0 2080,937.0 2081,937.8 2082,938.2 2083,938.4 2084,938.4 2085,938.4 2086,938.5 2087,938.2 2088,937.6 2089,936.8 2090,936.4 2091,936.5 2092,937.2 2093,937.9 2094,938.9 2095,940.1 2096,941.1 2097,941.2 2098,940.6 2099,940.0 2100,939.7 2101,939.6 2102,939.5 2103,939.3 2104,938.8 2105,938.3 2106,938.0 2107,938.3 2108,938.9 2109,939.4 2110,939.5 2111,939.3 2112,938.6 2113,937.7 2114,937.2 2115,937.1 2116,937.0 2117,937.1 2118,937.2 2119,937.3 2120,937.3 2121,937.2 2122,936.8 2123,936.4 2124,936.5 2125,936.8 2126,936.8 2127,936.6 2128,936.4 2129,936.5 2130,936.9 2131,937.4 2132,937.3 2133,936.8 2134,936.4 2135,936.4 2136,936.6 2137,936.4 2138,935.3 2139,933.9 2140,933.1 2141,933.3 2142,934.2 2143,935.3 2144,936.6 2145,937.9 2146,939.1 2147,940.0 2148,940.4 2149,940.3 2150,939.9 2151,939.1 2152,937.8 2153,936.2 2154,935.1 2155,934.6 2156,934.6 2157,934.8 2158,935.4 2159,936.3 2160,936.8 2161,936.7 2162,936.0 2163,935.2 2164,935.0 2165,935.3 2166,935.7 2167,936.0 2168,936.3 2169,936.4 2170,936.2 2171,936.2 2172,936.5 2173,936.7 2174,936.6 2175,936.7 2176,937.3 2177,937.8 2178,937.7 2179,936.9 2180,936.1 2181,935.8 2182,936.1 2183,936.5 2184,936.3 2185,935.2 2186,933.9 2187,933.0 2188,932.5 2189,932.2 2190,931.9 2191,931.6 2192,931.5 2193,931.6 2194,931.8 2195,932.3 2196,933.0 2197,933.5 2198,933.8 2199,934.5 2200,935.8 2201,936.8 2202,936.9 2203,936.7 2204,936.7 2205,937.0 2206,937.1 2207,936.2 2208,934.8 2209,934.0 2210,934.7 2211,936.8 2212,939.2 2213,940.5 2214,940.5 2215,939.7 2216,939.3 2217,939.3 2218,939.2 2219,939.1 2220,939.3 2221,939.6 2222,939.5 2223,938.7 2224,937.7 2225,936.9 2226,936.6 2227,936.9 2228,937.7 2229,938.9 2230,940.0 2231,940.6 2232,940.3 2233,939.5 2234,938.8 2235,938.4 2236,937.8 2237,936.7 2238,935.7 2239,935.3 2240,935.6 2241,936.1 2242,936.5 2243,936.7 2244,936.7 2245,936.8 2246,937.1 2247,937.7 2248,938.5 2249,939.0 2250,939.2 2251,939.2 2252,939.2 2253,938.7 2254,938.0 2255,937.9 2256,938.5 2257,939.2 2258,939.4 2259,939.1 2260,938.7 2261,938.1 2262,937.8 2263,937.8 2264,937.8 2265,938.1 2266,938.8 2267,939.5 2268,939.2 2269,937.8 2270,935.9 2271,934.9 2272,935.3 2273,936.5 2274,937.2 2275,937.7 2276,938.6 2277,940.0 2278,940.8 2279,940.8 2280,940.4 2281,939.9 2282,939.6 2283,939.6 2284,939.5 2285,938.9 2286,938.1 2287,937.1 2288,936.4"/>
<polyline fill="none" stroke="#ff4042" stroke-width="9.6" stroke-linejoin="round" stroke-linecap="butt" points="70,1222.5 71,1223.2 72,1223.7 73,1223.1 74,1222.0 75,1221.3 76,1221.0 77,1220.9 78,1221.2 79,1222.0 80,1223.2 81,1223.7 82,1223.4 83,1222.7 84,1222.1 85,1221.8 86,1221.5 87,1221.1 88,1220.4 89,1219.8 90,1219.6 91,1220.0 92,1220.7 93,1221.0 94,1220.6 95,1219.8 96,1219.2 97,1218.9 98,1218.6 99,1218.3 100,1218.3 101,1218.7 102,1219.4 103,1220.3 104,1221.0 105,1221.1 106,1220.3 107,1219.2 108,1218.7 109,1219.1 110,1219.6 111,1219.4 112,1218.4 113,1217.5 114,1217.1 115,1217.4 116,1218.3 117,1219.2 118,1219.6 119,1219.2 120,1218.4 121,1217.8 122,1217.5 123,1217.5 124,1217.8 125,1218.1 126,1218.3 127,1218.5 128,1218.7 129,1219.1 130,1219.6 131,1219.8 132,1219.6 133,1218.9 134,1218.2 135,1217.7 136,1217.4 137,1217.2 138,1217.1 139,1217.3 140,1217.8 141,1217.9 142,1217.9 143,1218.2 144,1218.1 145,1217.4 146,1216.1 147,1214.5 148,1213.4 149,1213.3 150,1214.4 151,1216.4 152,1218.2 153,1218.7 154,1218.1 155,1217.0 156,1215.8 157,1214.5 158,1213.4 159,1212.9 160,1213.1 161,1213.8 162,1214.8 163,1215.9 164,1216.8 165,1217.3 166,1217.6 167,1217.6 168,1217.2 169,1216.7 170,1216.4 171,1216.8 172,1217.3 173,1217.6 174,1217.3 175,1216.7 176,1216.0 177,1215.6 178,1215.7 179,1216.2 180,1216.6 181,1216.7 182,1216.6 183,1216.5 184,1216.6 185,1216.5 186,1216.1 187,1215.4 188,1215.2 189,1215.6 190,1216.5 191,1217.5 192,1218.7 193,1219.8 194,1220.0 195,1219.5 196,1219.1 197,1219.0 198,1218.8 199,1218.3 200,1218.0 201,1218.1 202,1218.0 203,1217.4 204,1216.2 205,1214.5 206,1213.3 207,1213.3 208,1214.6 209,1216.1 210,1217.2 211,1217.8 212,1217.9 213,1217.4 214,1216.7 215,1216.1 216,1215.8 217,1216.1 218,1216.7 219,1217.3 220,1217.4 221,1217.1 222,1216.7 223,1216.5 224,1216.6 225,1216.8 226,1216.9 227,1216.7 228,1216.4 229,1216.2 230,1216.3 231,1217.1 232,1218.0 233,1218.6 234,1218.1 235,1216.7 236,1215.7 237,1216.2 238,1217.2 239,1217.6 240,1217.5 241,1217.9 242,1219.0 243,1219.8 244,1220.1 245,1220.2 246,1219.9 247,1219.2 248,1218.5 249,1218.3 250,1218.4 251,1218.4 252,1217.9 253,1217.2 254,1217.3 255,1218.2 256,1218.9 257,1218.8 258,1218.1 259,1217.6 260,1217.4 261,1217.4 262,1217.4 263,1217.3 264,1217.6 265,1218.6 266,1219.9 267,1220.6 268,1220.2 269,1219.6 270,1219.4 271,1219.7 272,1219.6 273,1218.9 274,1218.0 275,1217.4 276,1217.3 277,1217.2 278,1217.1 279,1217.5 280,1218.6 281,1219.8 282,1220.4 283,1220.8 284,1221.1 285,1221.4 286,1221.5 287,1221.5 288,1222.0 289,1223.0 290,1223.9 291,1223.8 292,1222.4 293,1220.6 294,1219.3 295,1219.2 296,1219.7 297,1220.4 298,1220.8 299,1220.8 300,1220.5 301,1220.3 302,1220.9 303,1222.0 304,1222.7 305,1222.8 306,1222.4 307,1221.6 308,1221.0 309,1221.2 310,1222.3 311,1223.5 312,1224.3 313,1224.6 314,1224.5 315,1224.5 316,1224.4 317,1224.2 318,1224.2 319,1224.8 320,1225.9 321,1226.8 322,1227.0 323,1226.6 324,1226.0 325,1225.7 326,1225.9 327,1226.6 328,1227.0 329,1226.8 330,1226.3 331,1226.0 332,1225.7 333,1225.4 334,1225.7 335,1226.7 336,1227.8 337,1227.8 338,1226.7 339,1225.5 340,1225.0 341,1225.4 342,1226.2 343,1226.8 344,1227.3 345,1227.9 346,1228.2 347,1228.0 348,1227.7 349,1227.8 350,1228.4 351,1229.1 352,1229.4 353,1229.2 354,1228.8 355,1228.4 356,1227.8 357,1227.4 358,1227.6 359,1228.6 360,1230.4 361,1232.3 362,1233.5 363,1233.5 364,1232.4 365,1230.8 366,1229.5 367,1228.8 368,1228.8 369,1229.1 370,1229.3 371,1229.5 372,1230.3 373,1231.5 374,1232.0 375,1231.8 376,1231.3 377,1230.8 378,1230.5 379,1230.4 380,1230.4 381,1230.5 382,1230.5 383,1230.4 384,1230.2 385,1230.2 386,1230.4 387,1230.9 388,1231.5 389,1232.0 390,1232.7 391,1233.3 392,1233.5 393,1233.5 394,1233.5 395,1233.5 396,1233.5 397,1233.7 398,1233.9 399,1234.1 400,1234.3 401,1234.5 402,1234.3 403,1233.6 404,1233.2 405,1233.5 406,1234.2 407,1234.8 408,1234.9 409,1234.8 410,1235.2 411,1236.0 412,1236.8 413,1237.4 414,1237.7 415,1237.6 416,1237.5 417,1237.8 418,1238.0 419,1237.6 420,1236.7 421,1236.2 422,1236.3 423,1236.7 424,1236.7 425,1236.0 426,1235.2 427,1235.1 428,1235.6 429,1236.2 430,1236.5 431,1236.3 432,1235.8 433,1235.4 434,1235.6 435,1236.7 436,1237.7 437,1237.8 438,1237.0 439,1235.8 440,1235.0 441,1235.2 442,1235.7 443,1236.0 444,1235.9 445,1235.9 446,1236.0 447,1235.8 448,1235.2 449,1235.1 450,1235.8 451,1236.7 452,1237.3 453,1237.4 454,1237.0 455,1236.2 456,1235.2 457,1234.2 458,1233.9 459,1234.9 460,1236.8 461,1238.4 462,1238.7 463,1238.1 464,1237.7 465,1238.0 466,1238.3 467,1238.1 468,1237.2 469,1236.1 470,1235.8 471,1237.0 472,1238.9 473,1239.9 474,1239.4 475,1238.2 476,1237.2 477,1236.8 478,1237.2 479,1237.7 480,1238.0 481,1237.5 482,1236.4 483,1235.0 484,1234.0 485,1233.2 486,1232.3 487,1231.5 488,1230.4 489,1228.9 490,1227.2 491,1225.7 492,1225.0 492.9,1224.8 494,1225.2 495,1226.0 496,1227.3 497,1229.0 498,1230.8 499,1232.7 500,1234.3 501,1235.7 502,1237.1 503,1237.9 504,1237.7 505,1237.1 506,1236.9 507,1237.1 508,1237.4 509,1237.4 510,1237.0 511,1236.8 512,1236.8 513,1236.9 514,1237.1 515,1237.2 516,1237.3 517,1237.4 518,1237.1 519,1236.6 520,1236.2 521,1235.8 522,1235.3 523,1235.0 524,1235.2 525,1235.6 526,1236.0 527,1236.2 528,1236.3 529,1236.4 530,1236.2 531,1235.8 532,1235.4 533,1235.1 534,1234.4 535,1232.6 536,1230.3 537,1227.8 538,1225.1 539,1222.2 540,1218.9 541,1214.8 542,1209.2 543,1201.2 544,1189.6 545,1172.9 546,1149.3 547,1117.6 548,1076.8 549,1029.9 550,989.9 550.9,975.8 552,996.7 553,1039.7 554,1085.9 555,1124.6 556,1153.9 557,1175.3 558,1190.7 559,1201.9 560,1210.2 561,1216.1 562,1220.1 563,1223.3 564,1226.2 565,1229.2 566,1231.9 567,1233.9 568,1235.1 569,1235.5 570,1235.7 571,1236.5 572,1237.8 573,1239.3 574,1240.6 575,1241.2 576,1241.2 577,1240.6 578,1239.7 579,1238.5 580,1236.6 581,1234.2 582,1231.1 583,1227.3 584,1222.4 585,1215.4 586,1204.8 587,1190.0 588,1175.4 589,1169.2 590,1175.4 591,1189.0 592,1203.1 593,1214.8 594,1223.9 595,1230.7 596,1235.6 597,1238.7 598,1240.7 599,1242.1 600,1242.9 601,1243.6 602,1244.9 603,1246.5 604,1247.6 605,1247.9 606,1247.7 607,1247.6 608,1247.4 609,1247.1 610,1246.8 611,1246.8 612,1247.2 613,1247.6 614,1247.3 615,1246.8 616,1246.6 617,1246.5 618,1246.1 619,1245.2 620,1243.9 621,1242.4 622,1240.9 623,1239.3 624,1237.9 625,1237.1 625.7,1236.9 626,1237.0 627,1237.6 628,1238.5 629,1239.7 630,1241.8 631,1244.5 632,1246.4 633,1246.8 634,1246.8 635,1247.6 636,1248.8 637,1249.4 638,1249.5 639,1249.7 640,1250.2 641,1251.0 642,1251.7 643,1252.5 644,1252.7 645,1252.1 646,1251.2 647,1251.0 648,1251.3 649,1251.2 650,1250.3 651,1249.6 652,1250.2 653,1252.0 654,1253.6 655,1254.3 656,1254.2 657,1253.6 658,1252.4 659,1250.8 660,1249.6 661,1249.4 662,1249.8 663,1250.3 664,1250.5 665,1250.7 666,1251.3 667,1252.4 668,1253.7 669,1254.8 670,1255.3 671,1254.8 672,1253.7 673,1252.9 674,1252.3 675,1251.9 676,1251.9 677,1252.0 678,1252.0 679,1251.8 680,1251.9 681,1252.0 682,1251.8 683,1251.4 684,1251.0 685,1250.8 686,1250.8 687,1251.3 688,1252.4 689,1253.4 690,1253.8 691,1253.7 692,1253.7 693,1253.7 694,1253.7 695,1253.9 696,1254.1 697,1253.9 698,1252.9 699,1251.7 700,1250.8 701,1250.7 702,1251.6 703,1252.9 704,1253.7 705,1253.5 706,1252.7 707,1252.1 708,1252.1 709,1252.4 710,1252.6 711,1252.4 712,1252.1 713,1252.2 714,1252.6 715,1252.9 716,1253.1 717,1253.7 718,1254.8 719,1255.7 720,1255.6 721,1254.6 722,1253.8 723,1254.2 724,1255.6 725,1257.0 726,1257.6 727,1257.2 728,1256.6 729,1256.2 730,1256.2 731,1256.2 732,1256.4 733,1256.8 734,1257.0 735,1256.4 736,1255.0 737,1253.4 738,1252.4 739,1252.5 740,1253.2 741,1253.9 742,1254.2 743,1253.9 744,1253.1 745,1252.6 746,1252.7 747,1252.7 748,1252.7 749,1253.2 750,1253.9 751,1254.0 752,1252.8 753,1250.7 754,1248.2 755,1245.4 756,1242.2 757,1238.3 758,1233.3 759,1227.4 760,1220.6 761,1213.9 762,1209.6 762.3,1209.1 763,1209.9 764,1214.4 765,1220.4 766,1225.6 767,1229.3 768,1231.5 769,1233.1 770,1234.8 771,1236.8 772,1238.6 773,1240.1 774,1241.2 775,1241.4 776,1240.4 777,1238.4 778,1235.5 779,1232.0 780,1228.1 781,1223.5 782,1217.0 783,1207.1 784,1193.5 785,1176.0 786,1153.9 787,1127.0 788,1100.0 789,1083.5 789.4,1082.3 790,1086.5 791,1106.6 792,1135.0 793,1162.8 794,1186.0 795,1204.0 796,1217.5 797,1227.2 798,1234.1 799,1239.3 800,1243.7 801,1247.0 802,1248.9 803,1249.9 804,1250.6 805,1251.4 806,1252.3 807,1253.3 808,1254.3 809,1255.2 810,1255.7 811,1255.7 812,1254.8 813,1253.4 814,1252.3 815,1251.4 816,1250.4 817,1249.9 818,1250.7 819,1252.0 820,1252.6 821,1252.4 822,1251.8 823,1251.3 824,1250.9 825,1250.6 826,1250.3 827,1250.0 828,1249.6 829,1249.0 830,1247.4 831,1244.4 832,1240.7 833,1237.1 834,1233.3 835,1228.8 836,1224.3 837,1221.1 837.7,1220.5 838,1221.0 839,1224.0 840,1229.3 841,1234.8 842,1239.4 843,1243.5 844,1247.3 845,1250.5 846,1252.5 847,1253.9 848,1255.3 849,1256.1 850,1255.6 851,1254.0 852,1252.8 853,1252.5 854,1253.0 855,1253.5 856,1253.0 857,1251.6 858,1250.3 859,1249.6 860,1249.3 861,1248.9 862,1248.1 863,1246.9 864,1245.2 865,1243.4 866,1241.6 867,1240.1 868,1239.2 868.6,1238.9 869,1238.8 870,1239.1 871,1239.9 872,1240.9 873,1242.0 874,1243.1 875,1244.3 876,1245.5 877,1246.6 878,1247.5 879,1248.3 880,1248.6 881,1247.6 882,1245.8 883,1244.2 884,1243.7 885,1243.8 886,1243.8 887,1242.9 888,1240.7 889,1236.8 890,1231.7 891,1225.4 892,1217.8 893,1207.7 894,1194.2 895,1177.0 896,1156.8 897,1135.6 898,1117.6 899,1109.5 900,1115.1 901,1131.7 902,1153.0 903,1173.8 904,1191.7 905,1206.1 906,1218.0 907,1228.1 908,1236.4 909,1242.1 910,1245.1 911,1246.4 912,1247.7 913,1249.4 914,1251.0 915,1252.1 916,1252.9 917,1253.7 918,1254.3 919,1254.9 920,1255.3 921,1255.1 922,1254.1 923,1252.4 924,1250.5 925,1248.8 926,1247.0 927,1244.5 928,1240.6 929,1234.8 930,1226.8 931,1217.1 932,1207.6 933,1201.9 933.4,1201.4 934,1202.8 935,1209.6 936,1218.8 937,1227.5 938,1235.2 939,1241.9 940,1247.5 941,1251.5 942,1253.8 943,1255.0 944,1255.8 945,1256.7 946,1257.6 947,1258.6 948,1259.6 949,1260.7 950,1261.5 951,1261.5 952,1260.9 953,1260.0 954,1259.0 955,1258.5 956,1258.4 957,1258.7 958,1259.0 959,1259.2 960,1259.2 961,1259.0 962,1259.1 963,1259.5 964,1259.7 965,1259.6 966,1258.7 967,1256.4 968,1253.1 969,1250.2 970,1248.3 971,1247.4 971.4,1247.3 972,1247.6 973,1249.0 974,1251.2 975,1253.9 976,1256.5 977,1258.5 978,1259.8 979,1260.0 980,1259.5 981,1259.5 982,1260.5 983,1262.0 984,1263.1 985,1263.4 986,1262.9 987,1262.6 988,1262.4 989,1261.9 990,1261.4 991,1261.5 992,1262.3 993,1263.1 994,1263.4 995,1263.2 996,1262.9 997,1262.7 998,1263.2 999,1263.8 1000,1263.8 1001,1263.5 1002,1263.4 1003,1263.2 1004,1262.3 1005,1261.0 1006,1259.3 1007,1257.6 1008,1256.1 1009,1255.0 1010,1254.3 1011,1253.9 1011.4,1253.9 1012,1254.1 1013,1255.1 1014,1256.9 1015,1258.7 1016,1259.9 1017,1260.5 1018,1260.9 1019,1261.7 1020,1263.3 1021,1265.2 1022,1266.3 1023,1266.1 1024,1264.5 1025,1262.9 1026,1262.1 1027,1262.5 1028,1263.5 1029,1264.1 1030,1264.6 1031,1265.8 1032,1267.1 1033,1267.4 1034,1266.6 1035,1265.2 1036,1264.0 1037,1263.5 1038,1263.8 1039,1264.8 1040,1266.2 1041,1267.5 1042,1268.2 1043,1267.9 1044,1267.0 1045,1266.2 1046,1266.4 1047,1267.3 1048,1267.6 1049,1266.8 1050,1265.3 1051,1264.2 1052,1263.5 1053,1263.3 1054,1263.5 1055,1264.2 1056,1265.1 1057,1265.4 1058,1264.8 1059,1263.8 1060,1263.3 1061,1263.1 1062,1263.1 1063,1262.8 1064,1262.3 1065,1262.1 1066,1262.7 1067,1264.0 1068,1265.2 1069,1265.9 1070,1266.3 1071,1266.8 1072,1267.2 1073,1266.9 1074,1265.8 1075,1264.3 1076,1263.1 1077,1262.8 1078,1263.1 1079,1263.7 1080,1264.3 1081,1264.1 1082,1263.2 1083,1261.5 1084,1259.3 1085,1256.9 1086,1255.1 1087,1254.3 1088,1253.6 1089,1251.8 1090,1249.6 1091,1248.4 1091.4,1248.3 1092,1248.6 1093,1249.9 1094,1251.6 1095,1253.1 1096,1254.7 1097,1256.9 1098,1259.5 1099,1262.0 1100,1263.9 1101,1265.4 1102,1266.8 1103,1268.0 1104,1268.6 1105,1268.1 1106,1266.5 1107,1264.9 1108,1264.0 1109,1264.2 1110,1265.0 1111,1265.6 1112,1265.4 1113,1264.0 1114,1261.6 1115,1259.0 1116,1256.9 1117,1255.1 1118,1253.8 1118.6,1253.6 1119,1253.7 1120,1255.0 1121,1257.1 1122,1259.6 1123,1262.0 1124,1264.2 1125,1266.0 1126,1267.1 1127,1268.3 1128,1269.7 1129,1271.1 1130,1272.1 1131,1272.3 1132,1271.6 1133,1270.4 1134,1269.7 1135,1270.0 1136,1270.9 1137,1271.8 1138,1272.6 1139,1273.3 1140,1273.7 1141,1273.8 1142,1273.6 1143,1273.1 1144,1272.5 1145,1272.0 1146,1271.7 1147,1271.3 1148,1270.5 1149,1269.9 1150,1270.1 1151,1270.6 1152,1270.8 1153,1270.3 1154,1269.8 1155,1270.1 1156,1271.1 1157,1271.5 1158,1270.8 1159,1269.8 1160,1268.8 1161,1267.5 1162,1266.3 1163,1266.3 1164,1267.7 1165,1269.9 1166,1271.8 1167,1272.6 1168,1272.4 1169,1272.0 1170,1271.7 1171,1271.2 1172,1270.9 1173,1270.9 1174,1271.0 1175,1271.0 1176,1271.3 1177,1271.9 1178,1272.5 1179,1272.3 1180,1271.5 1181,1270.7 1182,1270.4 1183,1270.5 1184,1270.7 1185,1271.2 1186,1271.8 1187,1272.0 1188,1271.9 1189,1271.6 1190,1271.3 1191,1270.7 1192,1270.0 1193,1269.8 1194,1270.6 1195,1272.0 1196,1273.6 1197,1275.1 1198,1275.9 1199,1275.3 1200,1273.9 1201,1272.3 1202,1271.1 1203,1270.4 1204,1269.9 1205,1269.0 1206,1268.3 1207,1268.6 1208,1269.8 1209,1270.8 1210,1271.0 1211,1270.9 1212,1270.9 1213,1271.3 1214,1271.8 1215,1271.9 1216,1271.2 1217,1270.1 1218,1269.2 1219,1269.1 1220,1269.4 1221,1269.7 1222,1270.3 1223,1271.3 1224,1272.3 1225,1272.8 1226,1272.4 1227,1271.7 1228,1271.4 1229,1271.1 1230,1270.2 1231,1269.1 1232,1268.4 1233,1268.2 1234,1267.9 1235,1267.3 1236,1266.3 1237,1264.4 1238,1261.5 1239,1258.6 1240,1256.0 1241,1253.3 1242,1249.6 1243,1245.3 1244,1241.3 1245,1238.4 1246,1237.0 1246.3,1236.8 1247,1237.3 1248,1239.2 1249,1242.1 1250,1245.1 1251,1248.4 1252,1251.8 1253,1254.9 1254,1257.1 1255,1258.2 1256,1258.5 1257,1258.7 1258,1259.7 1259,1261.6 1260,1263.8 1261,1265.3 1262,1265.5 1263,1265.0 1264,1264.8 1265,1265.5 1266,1266.9 1267,1268.5 1268,1269.3 1269,1268.8 1270,1267.6 1271,1265.9 1272,1264.4 1273,1263.6 1274,1264.0 1275,1264.9 1276,1265.5 1277,1265.2 1278,1264.0 1279,1262.3 1280,1260.6 1281,1259.4 1282,1258.3 1283,1256.8 1284,1254.9 1285,1252.3 1286,1249.0 1287,1245.1 1288,1240.3 1289,1234.2 1290,1226.0 1291,1215.2 1292,1202.2 1293,1188.3 1294,1175.7 1295,1167.1 1295.7,1165.2 1296,1165.7 1297,1172.2 1298,1184.3 1299,1198.0 1300,1210.9 1301,1222.2 1302,1231.7 1303,1239.1 1304,1245.1 1305,1250.1 1306,1254.3 1307,1257.7 1308,1260.6 1309,1263.2 1310,1264.9 1311,1264.8 1312,1263.7 1313,1263.1 1314,1263.5 1315,1264.7 1316,1266.5 1317,1268.6 1318,1270.2 1319,1270.4 1320,1269.5 1321,1268.7 1322,1268.7 1323,1269.2 1324,1269.6 1325,1269.5 1326,1269.6 1327,1270.5 1328,1271.9 1329,1272.7 1330,1272.2 1331,1270.8 1332,1270.1 1333,1270.8 1334,1271.6 1335,1271.3 1336,1270.6 1337,1270.9 1338,1272.3 1339,1273.4 1340,1273.4 1341,1272.4 1342,1271.1 1343,1269.7 1344,1268.9 1345,1269.0 1346,1269.6 1347,1269.8 1348,1269.0 1349,1267.8 1350,1266.9 1351,1265.9 1352,1264.8 1353,1263.7 1354,1262.3 1355,1260.2 1356,1257.2 1357,1253.8 1358,1250.6 1359,1247.3 1360,1244.4 1361,1242.6 1361.4,1242.5 1362,1242.9 1363,1245.2 1364,1249.1 1365,1253.3 1366,1256.7 1367,1259.2 1368,1260.9 1369,1262.2 1370,1263.6 1371,1265.8 1372,1267.9 1373,1269.3 1374,1270.2 1375,1270.5 1376,1270.4 1377,1270.1 1378,1270.1 1379,1270.3 1380,1270.6 1381,1270.9 1382,1271.2 1383,1271.5 1384,1271.6 1385,1271.5 1386,1271.2 1387,1270.9 1388,1270.7 1389,1270.5 1390,1270.3 1391,1270.6 1392,1271.3 1393,1271.9 1394,1272.1 1395,1272.0 1396,1271.9 1397,1271.8 1398,1271.7 1399,1271.5 1400,1271.5 1401,1271.3 1402,1270.8 1403,1270.1 1404,1269.6 1405,1269.8 1406,1270.5 1407,1271.3 1408,1271.8 1409,1272.0 1410,1271.9 1411,1271.9 1412,1271.8 1413,1271.7 1414,1272.2 1415,1273.2 1416,1273.9 1417,1273.8 1418,1273.2 1419,1272.4 1420,1271.8 1421,1271.3 1422,1270.8 1423,1270.4 1424,1270.0 1425,1269.9 1426,1270.7 1427,1271.8 1428,1272.2 1429,1271.8 1430,1271.1 1431,1270.6 1432,1270.7 1433,1271.1 1434,1271.7 1435,1272.2 1436,1272.5 1437,1272.9 1438,1273.0 1439,1272.6 1440,1272.1 1441,1271.9 1442,1271.7 1443,1271.4 1444,1271.3 1445,1272.2 1446,1273.4 1447,1274.1 1448,1273.6 1449,1272.8 1450,1272.2 1451,1271.9 1452,1271.7 1453,1271.7 1454,1271.6 1455,1270.9 1456,1269.8 1457,1268.7 1458,1268.0 1459,1267.7 1460,1267.6 1461,1267.4 1462,1267.2 1462.9,1267.1 1464,1267.3 1465,1267.7 1466,1268.2 1467,1268.7 1468,1269.1 1469,1269.7 1470,1270.4 1471,1270.9 1472,1271.0 1473,1271.1 1474,1271.5 1475,1271.6 1476,1271.5 1477,1271.6 1478,1272.2 1479,1272.7 1480,1272.9 1481,1273.2 1482,1273.9 1483,1274.7 1484,1274.7 1485,1273.7 1486,1272.5 1487,1271.9 1488,1271.9 1489,1272.7 1490,1273.8 1491,1275.1 1492,1276.0 1493,1276.1 1494,1275.4 1495,1274.7 1496,1274.1 1497,1273.2 1498,1271.9 1499,1270.6 1500,1269.9 1501,1269.8 1502,1270.4 1503,1271.1 1504,1271.4 1505,1271.5 1506,1271.5 1507,1271.6 1508,1271.3 1509,1270.4 1510,1269.4 1511,1268.7 1512,1268.7 1513,1268.6 1514,1268.1 1515,1266.9 1516,1265.3 1517,1263.6 1518,1261.6 1519,1259.2 1520,1256.5 1521,1253.8 1522,1251.1 1523,1248.1 1524,1244.6 1525,1240.5 1526,1236.0 1527,1232.2 1528,1229.7 1529,1228.8 1530,1229.5 1531,1232.0 1532,1235.6 1533,1239.8 1534,1244.1 1535,1248.3 1536,1252.5 1537,1256.5 1538,1259.9 1539,1262.1 1540,1263.5 1541,1264.6 1542,1265.6 1543,1266.4 1544,1267.0 1545,1267.4 1546,1267.7 1547,1268.1 1548,1268.9 1549,1269.8 1550,1271.0 1551,1272.0 1552,1272.3 1553,1271.7 1554,1270.6 1555,1270.0 1556,1269.9 1557,1269.9 1558,1269.3 1559,1268.4 1560,1267.7 1561,1267.0 1562,1266.2 1563,1265.2 1564,1264.1 1565,1263.2 1565.7,1263.0 1566,1263.1 1567,1263.6 1568,1264.4 1569,1265.6 1570,1266.9 1571,1268.2 1572,1269.8 1573,1271.7 1574,1273.6 1575,1274.9 1576,1275.1 1577,1274.9 1578,1274.8 1579,1275.3 1580,1275.7 1581,1275.2 1582,1274.1 1583,1273.3 1584,1273.2 1585,1273.6 1586,1274.0 1587,1273.8 1588,1273.2 1589,1272.6 1590,1272.8 1591,1273.5 1592,1274.2 1593,1274.6 1594,1274.8 1595,1275.1 1596,1275.4 1597,1275.9 1598,1276.2 1599,1276.2 1600,1276.3 1601,1276.8 1602,1277.1 1603,1277.0 1604,1276.7 1605,1276.8 1606,1277.1 1607,1277.3 1608,1277.6 1609,1278.2 1610,1278.7 1611,1278.9 1612,1278.6 1613,1278.2 1614,1278.2 1615,1278.4 1616,1278.6 1617,1278.6 1618,1278.4 1619,1278.3 1620,1278.1 1621,1277.6 1622,1276.8 1623,1276.0 1624,1275.5 1625,1275.3 1626,1275.7 1627,1276.7 1628,1277.4 1629,1277.0 1630,1275.9 1631,1275.0 1632,1274.9 1633,1275.5 1634,1276.2 1635,1277.2 1636,1278.2 1637,1278.5 1638,1278.3 1639,1277.8 1640,1277.0 1641,1276.2 1642,1275.9 1643,1275.7 1644,1275.3 1645,1274.7 1646,1274.5 1647,1274.6 1648,1275.1 1649,1275.6 1650,1275.6 1651,1275.2 1652,1275.0 1653,1275.3 1654,1275.3 1655,1274.8 1656,1273.9 1657,1272.9 1658,1272.1 1659,1272.1 1660,1272.9 1661,1274.0 1662,1274.7 1663,1274.9 1664,1274.9 1665,1274.5 1666,1273.7 1667,1272.8 1668,1272.3 1669,1272.1 1670,1271.8 1671,1271.1 1672,1270.4 1673,1270.0 1674,1270.5 1675,1271.6 1676,1272.6 1677,1273.1 1678,1273.2 1679,1273.1 1680,1273.0 1681,1272.9 1682,1273.3 1683,1274.0 1684,1273.9 1685,1272.7 1686,1270.9 1687,1269.7 1688,1269.4 1689,1269.5 1690,1269.6 1691,1269.2 1692,1268.2 1693,1266.7 1694,1265.4 1695,1264.6 1696,1263.8 1697,1262.2 1698,1259.9 1699,1257.5 1700,1255.2 1701,1252.9 1702,1251.0 1702.9,1250.1 1704,1250.4 1705,1251.6 1706,1253.3 1707,1255.1 1708,1256.6 1709,1257.8 1710,1258.9 1711,1260.0 1712,1260.8 1713,1260.5 1714,1259.0 1715,1256.8 1716,1254.6 1717,1252.4 1718,1250.0 1719,1247.4 1720,1244.4 1721,1240.9 1722,1237.0 1723,1233.7 1724,1231.4 1725,1230.6 1726,1231.6 1727,1233.9 1728,1237.3 1729,1241.2 1730,1244.9 1731,1248.3 1732,1251.6 1733,1254.9 1734,1258.3 1735,1261.7 1736,1265.0 1737,1267.7 1738,1269.5 1739,1270.7 1740,1271.8 1741,1272.8 1742,1273.4 1743,1273.7 1744,1274.0 1745,1274.8 1746,1275.7 1747,1276.5 1748,1276.8 1749,1276.6 1750,1275.8 1751,1275.1 1752,1275.3 1753,1276.3 1754,1277.3 1755,1277.9 1756,1278.0 1757,1277.9 1758,1277.8 1759,1278.1 1760,1278.5 1761,1278.6 1762,1278.1 1763,1277.2 1764,1276.5 1765,1276.7 1766,1277.6 1767,1278.4 1768,1278.8 1769,1279.1 1770,1279.0 1771,1278.1 1772,1276.6 1773,1275.5 1774,1275.3 1775,1275.4 1776,1274.5 1777,1271.8 1778,1268.7 1778.6,1268.0 1779,1268.4 1780,1271.4 1781,1274.3 1782,1275.9 1783,1276.4 1784,1276.1 1785,1275.5 1786,1275.2 1787,1275.7 1788,1276.4 1789,1276.9 1790,1277.4 1791,1278.1 1792,1278.8 1793,1278.9 1794,1278.5 1795,1278.2 1796,1278.1 1797,1278.0 1798,1277.2 1799,1276.0 1800,1275.5 1801,1276.2 1802,1277.6 1803,1278.5 1804,1278.8 1805,1278.7 1806,1279.1 1807,1279.9 1808,1280.6 1809,1280.8 1810,1280.1 1811,1279.0 1812,1278.2 1813,1278.2 1814,1278.9 1815,1279.6 1816,1279.8 1817,1279.4 1818,1278.6 1819,1278.2 1820,1278.0 1821,1277.9 1822,1277.8 1823,1277.7 1824,1277.5 1825,1277.4 1826,1277.3 1827,1277.5 1828,1277.9 1829,1278.0 1830,1277.6 1831,1276.8 1832,1276.0 1833,1275.8 1834,1276.4 1835,1277.4 1836,1277.7 1837,1277.2 1838,1276.3 1839,1275.5 1840,1275.1 1841,1275.0 1842,1275.1 1843,1275.4 1844,1275.4 1845,1275.4 1846,1275.8 1847,1276.0 1848,1275.7 1849,1275.1 1850,1274.8 1851,1274.8 1852,1274.6 1853,1274.3 1854,1274.4 1855,1275.1 1856,1276.2 1857,1276.9 1858,1276.9 1859,1276.2 1860,1274.9 1861,1273.6 1862,1272.9 1863,1272.6 1864,1272.6 1865,1272.7 1866,1272.7 1867,1272.8 1868,1273.1 1869,1273.5 1870,1273.8 1871,1274.0 1872,1274.1 1873,1274.0 1874,1273.9 1875,1273.6 1876,1273.3 1877,1273.1 1878,1272.5 1879,1271.2 1880,1270.0 1881,1269.9 1882,1270.8 1883,1271.4 1884,1270.9 1885,1269.1 1886,1266.5 1887,1263.9 1888,1261.7 1889,1259.7 1890,1257.5 1891,1255.1 1892,1253.2 1893,1252.1 1893.7,1251.9 1894,1251.9 1895,1252.6 1896,1253.9 1897,1255.4 1898,1256.8 1899,1258.2 1900,1260.2 1901,1262.6 1902,1265.0 1903,1266.8 1904,1268.5 1905,1270.2 1906,1271.8 1907,1272.6 1908,1272.8 1909,1273.1 1910,1274.3 1911,1275.8 1912,1276.5 1913,1276.2 1914,1275.5 1915,1275.2 1916,1275.3 1917,1275.4 1918,1275.1 1919,1274.8 1920,1274.3 1921,1273.7 1922,1273.3 1923,1273.2 1924,1273.3 1925,1273.2 1926,1273.1 1927,1273.1 1928,1272.4 1929,1270.6 1930,1268.4 1931,1266.7 1932,1265.7 1933,1265.3 1933.6,1265.3 1934,1265.4 1935,1266.1 1936,1267.4 1937,1269.1 1938,1270.6 1939,1271.8 1940,1272.4 1941,1272.8 1942,1273.6 1943,1274.9 1944,1275.9 1945,1276.7 1946,1277.7 1947,1278.4 1948,1278.4 1949,1278.0 1950,1277.8 1951,1278.1 1952,1278.4 1953,1278.6 1954,1279.0 1955,1279.5 1956,1279.6 1957,1279.2 1958,1278.7 1959,1278.0 1960,1277.3 1961,1277.1 1962,1277.8 1963,1279.2 1964,1281.1 1965,1282.8 1966,1283.8 1967,1283.4 1968,1281.8 1969,1279.7 1970,1278.4 1971,1278.1 1972,1278.4 1973,1278.5 1974,1278.3 1975,1278.2 1976,1278.5 1977,1278.9 1978,1278.5 1979,1277.6 1980,1277.0 1981,1277.2 1982,1277.8 1983,1278.8 1984,1279.7 1985,1280.3 1986,1280.2 1987,1279.9 1988,1279.9 1989,1280.4 1990,1280.8 1991,1281.0 1992,1281.2 1993,1281.5 1994,1281.7 1995,1281.6 1996,1281.3 1997,1280.7 1998,1280.0 1999,1279.7 2000,1280.0 2001,1280.5 2002,1280.4 2003,1279.7 2004,1278.9 2005,1278.9 2006,1279.6 2007,1280.1 2008,1279.8 2009,1279.3 2010,1278.8 2011,1278.4 2012,1277.9 2013,1277.4 2014,1277.2 2015,1277.7 2016,1278.8 2017,1279.8 2018,1279.8 2019,1279.0 2020,1278.1 2021,1278.0 2022,1278.4 2023,1278.9 2024,1279.4 2025,1280.3 2026,1281.1 2027,1281.4 2028,1280.8 2029,1279.3 2030,1277.8 2031,1277.2 2032,1277.9 2033,1278.8 2034,1279.2 2035,1279.5 2036,1280.4 2037,1281.4 2038,1281.3 2039,1280.0 2040,1278.6 2041,1278.0 2042,1278.3 2043,1278.8 2044,1279.2 2045,1279.8 2046,1280.9 2047,1281.3 2048,1280.6 2049,1279.4 2050,1278.7 2051,1278.5 2052,1278.2 2053,1278.1 2054,1278.5 2055,1279.1 2056,1279.0 2057,1278.4 2058,1277.8 2059,1277.7 2060,1278.2 2061,1279.0 2062,1279.6 2063,1279.7 2064,1279.6 2065,1279.5 2066,1279.3 2067,1278.8 2068,1278.2 2069,1277.5 2070,1276.9 2071,1276.4 2072,1276.3 2073,1276.8 2074,1278.1 2075,1279.8 2076,1281.0 2077,1281.1 2078,1280.8 2079,1281.0 2080,1281.5 2081,1281.2 2082,1279.9 2083,1279.1 2084,1279.5 2085,1280.5 2086,1280.8 2087,1280.8 2088,1281.3 2089,1281.6 2090,1280.7 2091,1279.2 2092,1278.5 2093,1278.7 2094,1278.8 2095,1278.0 2096,1276.8 2097,1276.3 2098,1277.1 2099,1278.3 2100,1278.7 2101,1278.5 2102,1278.0 2103,1277.5 2104,1277.1 2105,1276.9 2106,1276.8 2107,1276.8 2108,1277.3 2109,1277.8 2110,1277.9 2111,1277.5 2112,1276.8 2113,1276.3 2114,1276.9 2115,1278.6 2116,1280.4 2117,1281.2 2118,1281.0 2119,1280.5 2120,1280.2 2121,1280.3 2122,1280.2 2123,1279.6 2124,1278.8 2125,1278.3 2126,1278.4 2127,1278.7 2128,1278.8 2129,1278.6 2130,1278.8 2131,1279.7 2132,1280.6 2133,1281.0 2134,1280.7 2135,1280.0 2136,1279.1 2137,1277.9 2138,1277.0 2139,1276.9 2140,1277.3 2141,1277.6 2142,1278.0 2143,1278.5 2144,1279.1 2145,1279.5 2146,1279.6 2147,1279.4 2148,1278.8 2149,1278.3 2150,1278.3 2151,1278.6 2152,1279.3 2153,1280.5 2154,1281.9 2155,1282.9 2156,1283.2 2157,1282.6 2158,1281.4 2159,1280.3 2160,1279.9 2161,1280.2 2162,1280.8 2163,1281.3 2164,1281.1 2165,1280.0 2166,1278.7 2167,1278.5 2168,1279.3 2169,1280.0 2170,1279.9 2171,1279.5 2172,1279.4 2173,1279.8 2174,1280.2 2175,1280.2 2176,1279.7 2177,1279.0 2178,1278.3 2179,1278.2 2180,1278.4 2181,1278.6 2182,1278.3 2183,1277.8 2184,1277.7 2185,1277.9 2186,1278.3 2187,1278.8 2188,1279.4 2189,1279.6 2190,1279.9 2191,1280.2 2192,1280.8 2193,1281.3 2194,1281.8 2195,1282.0 2196,1282.1 2197,1281.9 2198,1281.4 2199,1281.0 2200,1280.8 2201,1280.8 2202,1280.6 2203,1279.8 2204,1278.6 2205,1278.1 2206,1278.4 2207,1279.3 2208,1280.0 2209,1280.2 2210,1280.3 2211,1280.8 2212,1281.5 2213,1282.0 2214,1282.5 2215,1283.4 2216,1284.2 2217,1284.2 2218,1283.4 2219,1282.5 2220,1282.0 2221,1281.7 2222,1281.4 2223,1281.0 2224,1280.8 2225,1280.9 2226,1281.4 2227,1281.7 2228,1281.7 2229,1281.4 2230,1281.2 2231,1281.2 2232,1281.3 2233,1281.2 2234,1281.0 2235,1280.9 2236,1280.9 2237,1280.5 2238,1279.6 2239,1278.8 2240,1279.1 2241,1280.6 2242,1282.2 2243,1283.2 2244,1283.1 2245,1282.4 2246,1281.6 2247,1281.2 2248,1280.8 2249,1280.4 2250,1280.1 2251,1280.2 2252,1281.0 2253,1281.5 2254,1281.0 2255,1279.6 2256,1278.6 2257,1278.7 2258,1279.4 2259,1279.7 2260,1279.5 2261,1279.0 2262,1278.2 2263,1277.7 2264,1277.7 2265,1277.4 2266,1276.7 2267,1275.9 2268,1275.2 2269,1274.7 2270,1274.5 2271,1274.6 2272,1274.9 2273,1275.1 2274,1275.2 2275,1275.7 2276,1277.2 2277,1278.8 2278,1279.5 2279,1279.3 2280,1279.2 2281,1279.7 2282,1280.6 2283,1281.6 2284,1282.3 2285,1282.3 2286,1281.6 2287,1280.6 2288,1280.0"/>
<polyline fill="none" stroke="#4f4f4f" stroke-width="9.6" stroke-linejoin="round" stroke-linecap="butt" points="70,1591.6 71,1592.2 72,1593.3 73,1594.4 74,1594.8 75,1594.3 76,1593.7 77,1593.9 78,1594.5 79,1594.7 80,1593.8 81,1592.8 82,1592.6 83,1592.7 84,1592.2 85,1591.1 86,1590.3 87,1590.0 88,1590.1 89,1590.5 90,1591.0 91,1591.4 92,1591.5 93,1591.5 94,1591.4 95,1590.8 96,1589.9 97,1589.2 98,1588.9 99,1588.8 100,1589.0 101,1589.2 102,1589.3 103,1588.8 104,1588.2 105,1587.6 106,1587.3 107,1587.5 108,1588.2 109,1589.0 110,1589.4 111,1588.9 112,1588.0 113,1587.5 114,1587.4 115,1587.3 116,1586.9 117,1586.6 118,1586.9 119,1587.6 120,1587.9 121,1587.7 122,1587.2 123,1586.8 124,1587.0 125,1588.0 126,1589.5 127,1590.7 128,1591.2 129,1590.8 130,1589.8 131,1588.7 132,1587.9 133,1587.7 134,1587.7 135,1587.4 136,1587.1 137,1586.9 138,1586.7 139,1586.4 140,1586.2 141,1586.0 142,1585.7 143,1585.3 144,1584.6 145,1583.7 146,1583.2 147,1583.6 148,1584.0 149,1583.9 150,1583.4 151,1583.1 152,1583.0 153,1582.9 154,1582.9 155,1583.0 156,1583.1 157,1583.3 158,1583.6 159,1584.0 160,1584.3 161,1584.0 162,1582.8 163,1581.5 164,1581.0 165,1581.5 166,1582.2 167,1582.5 168,1582.3 169,1581.9 170,1581.7 171,1582.0 172,1582.5 173,1583.2 174,1584.1 175,1584.4 176,1584.1 177,1583.6 178,1583.5 179,1583.4 180,1583.0 181,1582.7 182,1582.2 183,1581.4 184,1581.0 185,1581.3 186,1582.2 187,1583.0 188,1583.6 189,1583.8 190,1583.5 191,1582.6 192,1581.7 193,1580.9 194,1580.4 195,1580.5 196,1581.2 197,1581.8 198,1582.2 199,1582.6 200,1583.2 201,1583.7 202,1584.0 203,1584.3 204,1584.6 205,1584.7 206,1584.2 207,1583.3 208,1582.4 209,1581.9 210,1582.1 211,1583.0 212,1583.6 213,1583.5 214,1582.9 215,1582.7 216,1583.1 217,1583.2 218,1582.7 219,1581.9 220,1580.9 221,1580.0 222,1580.1 223,1580.9 224,1581.4 225,1581.2 226,1580.7 227,1580.3 228,1580.3 229,1580.8 230,1581.6 231,1582.1 232,1581.6 233,1580.6 234,1579.9 235,1579.7 236,1579.7 237,1580.0 238,1581.0 239,1582.3 240,1582.9 241,1582.8 242,1582.4 243,1581.5 244,1580.5 245,1580.3 246,1581.0 247,1581.7 248,1582.2 249,1582.9 250,1584.0 251,1585.0 252,1585.0 253,1584.2 254,1583.6 255,1583.4 256,1582.8 257,1582.5 258,1582.9 259,1583.6 260,1583.8 261,1583.6 262,1583.3 263,1583.7 264,1584.3 265,1584.2 266,1583.2 267,1582.2 268,1582.0 269,1582.0 270,1581.5 271,1581.0 272,1581.5 273,1582.6 274,1583.5 275,1583.9 276,1584.0 277,1584.1 278,1584.3 279,1585.2 280,1586.5 281,1587.1 282,1586.9 283,1586.2 284,1585.4 285,1584.5 286,1583.8 287,1583.7 288,1584.5 289,1586.0 290,1587.2 291,1587.6 292,1587.6 293,1587.2 294,1586.3 295,1585.2 296,1584.4 297,1584.1 298,1583.9 299,1583.7 300,1584.1 301,1584.9 302,1585.3 303,1585.3 304,1585.6 305,1586.4 306,1587.2 307,1587.5 308,1587.4 309,1587.6 310,1588.4 311,1589.3 312,1589.6 313,1589.0 314,1588.1 315,1587.5 316,1587.8 317,1588.3 318,1588.2 319,1587.7 320,1587.6 321,1588.1 322,1588.8 323,1589.4 324,1590.1 325,1591.1 326,1592.2 327,1593.2 328,1593.9 329,1593.9 330,1593.4 331,1592.7 332,1592.3 333,1592.5 334,1592.9 335,1593.1 336,1592.8 337,1592.2 338,1592.2 339,1592.9 340,1593.7 341,1594.1 342,1594.5 343,1595.1 344,1595.2 345,1594.8 346,1594.3 347,1594.1 348,1594.0 349,1594.1 350,1594.6 351,1595.3 352,1595.5 353,1595.0 354,1594.3 355,1594.0 356,1594.4 357,1595.0 358,1595.4 359,1595.6 360,1595.7 361,1595.8 362,1595.5 363,1595.4 364,1595.8 365,1596.5 366,1596.9 367,1596.7 368,1596.7 369,1597.2 370,1597.9 371,1598.3 372,1598.1 373,1597.9 374,1598.3 375,1599.2 376,1600.1 377,1600.9 378,1601.5 379,1601.2 380,1599.7 381,1598.0 382,1596.9 383,1596.7 384,1597.0 385,1597.4 386,1597.6 387,1597.7 388,1598.1 389,1599.7 390,1601.9 391,1603.4 392,1604.0 393,1604.2 394,1604.1 395,1603.3 396,1602.0 397,1601.0 398,1600.5 399,1600.5 400,1600.6 401,1601.1 402,1601.8 403,1602.4 404,1602.7 405,1603.1 406,1604.0 407,1605.2 408,1606.1 409,1606.7 410,1606.9 411,1606.4 412,1605.1 413,1603.6 414,1602.7 415,1602.1 416,1601.8 417,1601.6 418,1601.7 419,1602.3 420,1603.2 421,1603.7 422,1603.7 423,1603.6 424,1603.8 425,1604.3 426,1604.8 427,1605.3 428,1606.0 429,1606.6 430,1606.9 431,1606.6 432,1606.2 433,1606.1 434,1606.1 435,1605.6 436,1604.4 437,1603.3 438,1603.8 439,1605.8 440,1608.2 441,1609.5 442,1609.6 443,1608.8 444,1608.0 445,1607.7 446,1608.0 447,1608.6 448,1609.1 449,1609.6 450,1609.8 451,1609.5 452,1608.9 453,1608.4 454,1608.6 455,1609.6 456,1610.7 457,1611.5 458,1612.0 459,1612.2 460,1611.9 461,1611.3 462,1611.0 463,1611.1 464,1611.2 465,1610.7 466,1610.1 467,1609.9 468,1610.1 469,1610.6 470,1610.9 471,1610.9 472,1611.4 473,1612.4 474,1613.1 475,1612.9 476,1612.3 477,1611.8 478,1612.0 479,1612.7 480,1613.2 481,1613.1 482,1612.5 483,1612.2 484,1612.6 485,1613.2 486,1613.4 487,1613.0 488,1613.0 489,1613.3 490,1613.2 491,1612.3 492,1611.2 493,1610.7 494,1610.6 495,1610.9 496,1611.5 497,1612.3 498,1612.6 499,1612.3 500,1612.0 501,1612.0 502,1612.1 503,1612.0 504,1612.2 505,1612.4 506,1612.7 507,1613.0 508,1613.4 509,1613.9 510,1614.4 511,1614.9 512,1615.1 513,1614.6 514,1613.3 515,1612.1 516,1611.7 517,1612.1 518,1612.4 519,1612.0 520,1611.0 521,1610.0 522,1609.2 523,1608.7 524,1608.4 525,1608.1 526,1608.1 527,1608.1 528,1607.7 529,1606.6 530,1605.5 531,1604.9 532,1604.2 533,1602.9 534,1600.9 535,1598.4 536,1595.6 537,1592.0 538,1586.6 539,1578.7 540,1568.0 541,1554.2 542,1536.1 543,1510.7 544,1474.5 545,1426.2 546,1371.6 547,1329.7 547.6,1321.5 548,1325.1 549,1360.9 550,1414.1 551,1464.1 552,1503.6 553,1532.6 554,1553.2 555,1567.6 556,1577.4 557,1583.7 558,1588.1 559,1592.3 560,1597.0 561,1601.4 562,1604.4 563,1605.8 564,1606.2 565,1606.5 566,1607.0 567,1607.2 568,1607.1 569,1607.0 570,1607.1 571,1607.0 572,1607.1 573,1607.8 574,1608.7 575,1609.2 576,1608.9 577,1607.9 578,1606.3 579,1604.2 580,1601.2 581,1597.2 582,1591.7 583,1584.5 584,1577.8 585,1575.3 586,1578.2 587,1585.4 588,1592.9 589,1598.4 590,1601.8 591,1604.4 592,1606.7 593,1608.8 594,1610.1 595,1610.7 596,1611.4 597,1612.9 598,1614.9 599,1616.9 600,1618.5 601,1619.4 602,1619.4 603,1618.4 604,1617.5 605,1617.3 606,1617.5 607,1617.2 608,1616.0 609,1615.0 610,1615.2 611,1616.3 612,1617.0 613,1616.7 614,1616.2 615,1616.4 616,1617.6 617,1618.8 618,1618.9 619,1617.8 620,1616.6 621,1616.2 622,1616.2 623,1615.6 624,1614.1 625,1612.4 626,1611.0 627,1610.0 628,1609.7 628.6,1609.7 629,1609.8 630,1610.1 631,1610.3 632,1611.1 633,1612.8 634,1614.7 635,1615.8 636,1616.1 637,1616.4 638,1616.9 639,1617.6 640,1618.3 641,1619.1 642,1619.8 643,1619.9 644,1619.3 645,1618.6 646,1617.8 647,1617.2 648,1617.2 649,1617.9 650,1618.6 651,1619.2 652,1619.6 653,1619.9 654,1620.6 655,1621.5 656,1622.1 657,1622.3 658,1622.1 659,1621.9 660,1621.8 661,1621.7 662,1621.6 663,1621.5 664,1621.6 665,1622.2 666,1623.0 667,1623.5 668,1623.3 669,1622.6 670,1621.6 671,1620.8 672,1620.2 673,1620.0 674,1620.4 675,1621.1 676,1622.1 677,1622.9 678,1623.2 679,1623.0 680,1623.2 681,1624.0 682,1625.1 683,1625.9 684,1625.5 685,1624.0 686,1622.4 687,1621.5 688,1621.6 689,1622.2 690,1623.1 691,1624.3 692,1625.6 693,1626.5 694,1626.4 695,1625.6 696,1624.7 697,1624.0 698,1623.6 699,1623.4 700,1623.3 701,1623.2 702,1623.7 703,1624.6 704,1625.0 705,1624.8 706,1624.7 707,1624.5 708,1623.5 709,1622.5 710,1623.0 711,1624.3 712,1625.2 713,1625.4 714,1624.8 715,1623.6 716,1622.2 717,1621.2 718,1621.2 719,1621.8 720,1623.0 721,1623.9 722,1624.0 723,1623.7 724,1623.4 725,1623.2 726,1622.8 727,1622.6 728,1623.0 729,1623.3 730,1622.6 731,1621.0 732,1619.5 733,1619.2 734,1620.1 735,1621.1 736,1621.2 737,1620.6 738,1620.2 739,1620.2 740,1620.3 741,1620.4 742,1620.9 743,1621.6 744,1621.7 745,1621.1 746,1620.3 747,1619.4 748,1618.5 749,1617.9 750,1617.6 751,1617.2 752,1616.3 753,1614.8 754,1612.6 755,1609.6 756,1606.4 757,1603.4 758,1600.4 759,1597.0 760,1594.2 760.6,1593.6 761,1593.8 762,1596.0 763,1599.4 764,1602.6 765,1605.4 766,1607.9 767,1610.1 768,1611.8 769,1612.5 770,1612.2 771,1611.1 772,1609.5 773,1607.2 774,1603.9 775,1600.2 776,1596.6 777,1592.1 778,1585.4 779,1575.3 780,1561.0 781,1541.5 782,1514.5 783,1477.8 784,1432.7 785,1388.1 786,1361.8 786.3,1360.6 787,1370.1 788,1407.4 789,1454.3 790,1496.3 791,1530.1 792,1556.0 793,1574.9 794,1587.9 795,1597.0 796,1604.0 797,1610.0 798,1614.4 799,1617.1 800,1618.7 801,1620.3 802,1622.5 803,1624.9 804,1627.0 805,1627.9 806,1627.6 807,1626.8 808,1626.3 809,1626.1 810,1625.9 811,1625.7 812,1625.4 813,1625.2 814,1625.0 815,1624.9 816,1625.0 817,1625.6 818,1626.4 819,1626.9 820,1626.6 821,1625.6 822,1624.7 823,1624.3 824,1624.1 825,1623.4 826,1622.1 827,1620.9 828,1619.9 829,1618.7 830,1616.3 831,1612.8 832,1608.6 833,1605.1 834,1603.4 834.3,1603.5 835,1604.4 836,1607.5 837,1611.4 838,1614.9 839,1617.0 840,1618.0 841,1618.8 842,1620.2 843,1622.0 844,1623.7 845,1625.1 846,1626.6 847,1628.1 848,1629.3 849,1630.0 850,1630.2 851,1629.8 852,1629.3 853,1628.5 854,1627.8 855,1627.8 856,1628.5 857,1629.1 858,1629.2 859,1628.6 860,1627.5 861,1625.9 862,1624.3 863,1623.1 864,1622.2 865,1621.3 866,1620.2 867,1618.4 868,1615.0 869,1609.8 870,1603.2 871,1596.1 872,1590.1 872.9,1587.7 874,1590.1 875,1595.4 876,1601.1 877,1606.0 878,1610.4 879,1614.1 880,1616.5 881,1617.3 882,1616.8 883,1615.7 884,1614.5 885,1612.9 886,1610.2 887,1606.4 888,1601.9 889,1597.0 890,1590.4 891,1580.5 892,1566.0 893,1547.6 894,1527.5 895,1509.4 896,1499.3 896.3,1499.1 897,1503.0 898,1517.9 899,1537.4 900,1556.2 901,1572.7 902,1586.4 903,1597.3 904,1605.6 905,1611.7 906,1616.8 907,1621.2 908,1624.3 909,1625.9 910,1626.8 911,1627.9 912,1629.1 913,1630.0 914,1630.7 915,1631.2 916,1631.1 917,1630.0 918,1628.2 919,1626.0 920,1623.7 921,1621.4 922,1619.1 923,1616.3 924,1612.2 925,1605.4 926,1594.7 927,1581.9 928,1570.4 929,1563.7 929.4,1563.1 930,1564.6 931,1572.9 932,1585.5 933,1598.4 934,1608.8 935,1615.8 936,1620.0 937,1622.9 938,1625.0 939,1626.9 940,1628.8 941,1629.9 942,1630.0 943,1629.7 944,1629.8 945,1631.0 946,1632.7 947,1634.3 948,1635.3 949,1635.8 950,1635.8 951,1635.6 952,1635.1 953,1634.3 954,1633.4 955,1632.6 956,1632.0 957,1632.0 958,1632.4 959,1632.6 960,1631.9 961,1630.1 962,1628.0 963,1626.5 964,1625.2 965,1624.1 965.7,1623.8 966,1623.7 967,1624.6 968,1626.0 969,1627.6 970,1629.0 971,1630.5 972,1632.1 973,1633.0 974,1633.1 975,1632.9 976,1633.1 977,1633.5 978,1633.5 979,1633.1 980,1633.4 981,1634.7 982,1636.1 983,1636.8 984,1637.2 985,1637.2 986,1636.4 987,1634.9 988,1634.0 989,1634.3 990,1635.0 991,1635.8 992,1636.8 993,1637.9 994,1638.4 995,1637.9 996,1636.9 997,1635.9 998,1635.0 999,1634.4 1000,1633.9 1001,1633.3 1002,1632.6 1003,1631.7 1004,1630.4 1005,1628.6 1006,1626.8 1007,1626.1 1008,1626.5 1009,1627.6 1010,1629.2 1011,1630.9 1012,1632.7 1013,1634.6 1014,1636.4 1015,1637.8 1016,1638.7 1017,1638.9 1018,1638.4 1019,1637.7 1020,1637.4 1021,1637.5 1022,1637.6 1023,1637.9 1024,1638.5 1025,1639.5 1026,1640.4 1027,1640.7 1028,1640.2 1029,1639.3 1030,1638.8 1031,1638.8 1032,1639.1 1033,1639.7 1034,1640.5 1035,1641.2 1036,1641.4 1037,1641.0 1038,1640.3 1039,1639.5 1040,1639.0 1041,1638.5 1042,1637.7 1043,1636.9 1044,1637.0 1045,1637.9 1046,1638.8 1047,1638.8 1048,1638.6 1049,1638.7 1050,1639.3 1051,1639.8 1052,1639.9 1053,1639.4 1054,1638.8 1055,1638.4 1056,1637.9 1057,1637.3 1058,1637.0 1059,1637.3 1060,1637.9 1061,1638.4 1062,1639.0 1063,1639.7 1064,1640.2 1065,1640.2 1066,1639.4 1067,1638.1 1068,1636.8 1069,1636.0 1070,1636.4 1071,1637.7 1072,1639.1 1073,1639.7 1074,1639.9 1075,1639.9 1076,1640.1 1077,1640.1 1078,1639.5 1079,1638.7 1080,1638.3 1081,1638.0 1082,1637.6 1083,1636.3 1084,1634.0 1085,1631.2 1086,1628.7 1087,1626.9 1088,1626.2 1089,1627.2 1090,1629.4 1091,1631.5 1092,1633.2 1093,1635.0 1094,1637.0 1095,1638.6 1096,1639.6 1097,1639.9 1098,1639.9 1099,1640.0 1100,1640.4 1101,1640.7 1102,1640.5 1103,1640.0 1104,1639.6 1105,1639.2 1106,1639.1 1107,1639.4 1108,1640.1 1109,1639.9 1110,1638.5 1111,1636.3 1112,1634.1 1113,1632.1 1114,1630.2 1115,1629.0 1115.7,1628.8 1116,1628.9 1117,1630.0 1118,1632.2 1119,1634.7 1120,1636.7 1121,1637.6 1122,1638.0 1123,1638.7 1124,1639.9 1125,1641.3 1126,1642.4 1127,1643.4 1128,1644.3 1129,1644.6 1130,1644.2 1131,1643.6 1132,1643.7 1133,1644.3 1134,1644.4 1135,1643.6 1136,1642.8 1137,1642.6 1138,1642.9 1139,1643.4 1140,1643.8 1141,1643.9 1142,1643.3 1143,1642.6 1144,1642.2 1145,1642.5 1146,1643.5 1147,1644.6 1148,1644.8 1149,1643.7 1150,1642.3 1151,1641.5 1152,1641.8 1153,1642.8 1154,1643.7 1155,1644.2 1156,1644.2 1157,1644.0 1158,1643.5 1159,1642.6 1160,1641.3 1161,1640.5 1162,1640.3 1163,1640.7 1164,1641.1 1165,1641.5 1166,1642.1 1167,1642.7 1168,1643.1 1169,1643.0 1170,1642.2 1171,1641.5 1172,1641.6 1173,1642.5 1174,1643.8 1175,1644.9 1176,1645.4 1177,1645.4 1178,1645.0 1179,1644.8 1180,1645.3 1181,1646.0 1182,1646.1 1183,1645.5 1184,1644.3 1185,1643.1 1186,1642.1 1187,1641.7 1188,1642.1 1189,1643.0 1190,1643.7 1191,1644.2 1192,1644.7 1193,1645.0 1194,1644.9 1195,1644.4 1196,1644.1 1197,1644.3 1198,1644.5 1199,1644.5 1200,1644.3 1201,1644.5 1202,1645.3 1203,1646.1 1204,1646.4 1205,1646.3 1206,1645.7 1207,1644.6 1208,1643.5 1209,1643.1 1210,1643.5 1211,1644.5 1212,1645.7 1213,1646.4 1214,1646.1 1215,1645.3 1216,1644.9 1217,1645.2 1218,1645.4 1219,1645.0 1220,1644.2 1221,1643.5 1222,1642.8 1223,1641.9 1224,1641.2 1225,1641.2 1226,1642.1 1227,1643.2 1228,1643.6 1229,1643.0 1230,1641.9 1231,1640.7 1232,1639.4 1233,1637.6 1234,1635.2 1235,1632.2 1236,1629.0 1237,1625.9 1238,1622.9 1239,1619.6 1240,1615.6 1241,1611.1 1242,1607.3 1243,1605.2 1243.4,1605.2 1244,1605.8 1245,1608.6 1246,1612.8 1247,1617.4 1248,1622.1 1249,1626.8 1250,1631.0 1251,1634.6 1252,1637.8 1253,1640.5 1254,1642.3 1255,1642.6 1256,1641.9 1257,1641.2 1258,1641.5 1259,1642.2 1260,1642.5 1261,1642.7 1262,1643.8 1263,1645.3 1264,1646.0 1265,1646.0 1266,1645.6 1267,1645.5 1268,1645.5 1269,1645.4 1270,1644.5 1271,1642.7 1272,1640.8 1273,1639.8 1274,1640.2 1275,1641.1 1276,1641.1 1277,1639.6 1278,1637.0 1279,1634.1 1280,1631.1 1281,1627.5 1282,1622.4 1283,1615.3 1284,1606.7 1285,1597.0 1286,1585.9 1287,1572.8 1288,1557.9 1289,1543.2 1290,1532.2 1290.9,1528.5 1292,1533.9 1293,1546.2 1294,1561.4 1295,1576.6 1296,1590.0 1297,1600.6 1298,1609.0 1299,1616.3 1300,1622.7 1301,1628.1 1302,1631.9 1303,1634.5 1304,1636.1 1305,1637.1 1306,1638.0 1307,1639.3 1308,1640.7 1309,1641.6 1310,1641.5 1311,1641.1 1312,1641.1 1313,1641.6 1314,1642.2 1315,1642.5 1316,1642.6 1317,1643.1 1318,1644.0 1319,1645.2 1320,1645.9 1321,1646.0 1322,1645.7 1323,1645.2 1324,1645.0 1325,1645.4 1326,1646.4 1327,1647.3 1328,1647.3 1329,1646.6 1330,1645.8 1331,1645.6 1332,1645.9 1333,1646.4 1334,1646.7 1335,1646.8 1336,1646.6 1337,1646.3 1338,1646.0 1339,1645.6 1340,1645.3 1341,1644.9 1342,1644.1 1343,1643.1 1344,1642.4 1345,1642.0 1346,1641.1 1347,1639.7 1348,1638.9 1349,1638.9 1350,1639.0 1351,1638.6 1352,1637.3 1353,1634.4 1354,1629.9 1355,1624.9 1356,1620.6 1357,1618.0 1357.7,1617.4 1358,1617.5 1359,1619.4 1360,1623.1 1361,1627.0 1362,1629.8 1363,1632.5 1364,1635.5 1365,1638.5 1366,1641.3 1367,1643.6 1368,1645.1 1369,1645.7 1370,1646.0 1371,1646.2 1372,1646.3 1373,1646.0 1374,1645.7 1375,1645.8 1376,1646.6 1377,1648.0 1378,1649.3 1379,1649.9 1380,1649.8 1381,1649.5 1382,1649.3 1383,1649.3 1384,1649.5 1385,1649.8 1386,1650.0 1387,1650.1 1388,1650.2 1389,1650.2 1390,1650.4 1391,1650.5 1392,1650.3 1393,1649.6 1394,1648.9 1395,1648.4 1396,1648.1 1397,1648.2 1398,1648.5 1399,1648.6 1400,1648.4 1401,1648.3 1402,1648.2 1403,1648.1 1404,1648.3 1405,1649.0 1406,1649.9 1407,1650.4 1408,1650.5 1409,1650.5 1410,1650.6 1411,1650.6 1412,1650.2 1413,1649.6 1414,1648.8 1415,1648.4 1416,1648.4 1417,1648.8 1418,1649.8 1419,1651.1 1420,1652.1 1421,1652.3 1422,1652.0 1423,1651.4 1424,1650.2 1425,1649.1 1426,1648.8 1427,1648.9 1428,1648.9 1429,1648.6 1430,1648.1 1431,1647.1 1432,1646.1 1433,1646.0 1434,1647.0 1435,1648.4 1436,1649.2 1437,1649.1 1438,1649.0 1439,1649.4 1440,1649.7 1441,1649.2 1442,1647.6 1443,1645.8 1444,1644.6 1445,1644.2 1446,1644.1 1447,1644.3 1448,1644.7 1449,1645.0 1450,1645.3 1451,1645.4 1452,1645.0 1453,1644.2 1454,1643.3 1455,1642.8 1456,1642.7 1457,1642.7 1458,1642.8 1459,1643.0 1460,1643.5 1461,1644.5 1462,1645.7 1463,1646.3 1464,1646.6 1465,1646.9 1466,1647.2 1467,1647.3 1468,1647.3 1469,1647.2 1470,1647.4 1471,1647.4 1472,1647.0 1473,1646.2 1474,1645.7 1475,1646.0 1476,1646.6 1477,1647.3 1478,1647.8 1479,1648.3 1480,1648.4 1481,1648.0 1482,1647.5 1483,1647.0 1484,1646.9 1485,1647.2 1486,1647.9 1487,1649.0 1488,1650.2 1489,1651.0 1490,1650.8 1491,1649.8 1492,1648.7 1493,1647.8 1494,1647.3 1495,1647.0 1496,1646.5 1497,1645.6 1498,1644.6 1499,1644.3 1500,1645.1 1501,1646.3 1502,1646.9 1503,1646.5 1504,1645.5 1505,1644.4 1506,1643.1 1507,1641.3 1508,1639.4 1509,1638.1 1510,1637.1 1511,1635.6 1512,1633.3 1513,1631.0 1514,1628.8 1515,1625.7 1516,1621.3 1517,1616.3 1518,1611.5 1519,1606.4 1520,1600.6 1521,1594.2 1522,1588.3 1523,1584.0 1524,1581.9 1524.3,1581.8 1525,1582.5 1526,1585.6 1527,1590.5 1528,1596.2 1529,1602.2 1530,1608.3 1531,1613.7 1532,1618.1 1533,1622.6 1534,1627.2 1535,1631.0 1536,1633.4 1537,1634.8 1538,1636.3 1539,1638.4 1540,1640.5 1541,1641.7 1542,1642.2 1543,1642.5 1544,1642.6 1545,1642.5 1546,1642.7 1547,1643.7 1548,1644.7 1549,1645.1 1550,1644.7 1551,1643.9 1552,1643.1 1553,1643.0 1554,1643.4 1555,1643.8 1556,1643.9 1557,1643.7 1558,1642.6 1559,1640.9 1560,1638.8 1561,1636.7 1562,1635.1 1562.9,1634.6 1564,1635.4 1565,1636.9 1566,1638.5 1567,1639.9 1568,1641.3 1569,1642.9 1570,1644.8 1571,1646.6 1572,1648.1 1573,1649.1 1574,1648.7 1575,1647.1 1576,1645.6 1577,1645.2 1578,1646.1 1579,1647.4 1580,1648.5 1581,1649.1 1582,1649.1 1583,1648.8 1584,1648.7 1585,1649.1 1586,1650.1 1587,1650.6 1588,1649.7 1589,1648.3 1590,1647.8 1591,1648.6 1592,1649.8 1593,1651.1 1594,1651.8 1595,1651.4 1596,1650.4 1597,1650.2 1598,1650.7 1599,1651.3 1600,1651.7 1601,1652.0 1602,1651.2 1603,1649.5 1604,1648.2 1605,1648.6 1606,1650.0 1607,1651.0 1608,1651.0 1609,1650.5 1610,1650.0 1611,1649.4 1612,1648.7 1613,1648.8 1614,1649.9 1615,1651.1 1616,1651.4 1617,1651.1 1618,1650.5 1619,1649.9 1620,1649.4 1621,1649.3 1622,1649.4 1623,1649.7 1624,1650.1 1625,1650.6 1626,1650.8 1627,1650.8 1628,1650.8 1629,1650.6 1630,1650.4 1631,1650.3 1632,1650.4 1633,1650.3 1634,1650.4 1635,1650.8 1636,1651.5 1637,1652.0 1638,1652.0 1639,1651.6 1640,1651.4 1641,1651.5 1642,1651.3 1643,1651.0 1644,1650.9 1645,1651.1 1646,1651.4 1647,1651.4 1648,1650.9 1649,1650.2 1650,1649.7 1651,1649.1 1652,1648.4 1653,1648.1 1654,1649.0 1655,1650.8 1656,1652.2 1657,1652.7 1658,1652.6 1659,1652.4 1660,1652.0 1661,1651.2 1662,1650.2 1663,1649.5 1664,1649.4 1665,1649.8 1666,1650.4 1667,1651.3 1668,1652.2 1669,1652.7 1670,1652.5 1671,1651.5 1672,1650.0 1673,1649.3 1674,1649.7 1675,1650.4 1676,1651.1 1677,1651.5 1678,1651.8 1679,1652.3 1680,1652.3 1681,1651.3 1682,1649.8 1683,1648.9 1684,1648.7 1685,1648.4 1686,1647.5 1687,1646.3 1688,1645.3 1689,1644.1 1690,1642.7 1691,1641.0 1692,1639.2 1693,1636.8 1694,1633.6 1695,1629.7 1696,1625.9 1697,1622.8 1698,1621.0 1698.6,1620.6 1699,1620.6 1700,1621.7 1701,1624.2 1702,1627.8 1703,1631.8 1704,1634.9 1705,1637.0 1706,1638.7 1707,1639.6 1708,1639.4 1709,1638.6 1710,1637.4 1711,1635.5 1712,1632.9 1713,1629.8 1714,1626.3 1715,1622.5 1716,1617.6 1717,1611.5 1718,1605.2 1719,1600.4 1720,1597.8 1720.6,1597.5 1721,1597.9 1722,1600.8 1723,1605.7 1724,1611.3 1725,1617.0 1726,1622.9 1727,1628.8 1728,1634.1 1729,1638.3 1730,1641.6 1731,1644.2 1732,1646.3 1733,1647.5 1734,1648.2 1735,1648.8 1736,1649.4 1737,1649.9 1738,1650.3 1739,1650.9 1740,1651.7 1741,1652.4 1742,1652.8 1743,1653.3 1744,1654.0 1745,1654.4 1746,1654.2 1747,1653.9 1748,1654.0 1749,1654.1 1750,1653.8 1751,1653.4 1752,1653.4 1753,1654.1 1754,1654.6 1755,1654.1 1756,1653.4 1757,1653.5 1758,1654.2 1759,1654.8 1760,1654.9 1761,1654.9 1762,1655.2 1763,1655.6 1764,1656.0 1765,1656.1 1766,1656.1 1767,1655.7 1768,1655.0 1769,1654.0 1770,1653.5 1771,1653.6 1772,1653.7 1773,1653.4 1774,1652.6 1775,1650.9 1776,1647.8 1777,1643.3 1778,1638.5 1778.6,1637.3 1779,1638.0 1780,1643.2 1781,1648.4 1782,1651.2 1783,1652.2 1784,1652.6 1785,1652.9 1786,1653.3 1787,1653.4 1788,1653.2 1789,1652.9 1790,1652.7 1791,1652.6 1792,1652.4 1793,1652.6 1794,1653.3 1795,1654.4 1796,1655.2 1797,1655.2 1798,1654.5 1799,1653.8 1800,1653.6 1801,1654.0 1802,1654.9 1803,1656.0 1804,1656.7 1805,1656.7 1806,1656.3 1807,1655.6 1808,1654.6 1809,1653.6 1810,1652.7 1811,1652.4 1812,1652.2 1813,1652.3 1814,1652.7 1815,1653.8 1816,1655.3 1817,1656.5 1818,1656.6 1819,1655.8 1820,1654.9 1821,1654.4 1822,1653.8 1823,1652.7 1824,1651.7 1825,1651.8 1826,1653.0 1827,1654.2 1828,1654.5 1829,1654.4 1830,1654.2 1831,1653.7 1832,1652.8 1833,1652.0 1834,1652.1 1835,1652.8 1836,1653.6 1837,1654.1 1838,1654.5 1839,1654.8 1840,1654.6 1841,1653.9 1842,1652.9 1843,1652.0 1844,1650.9 1845,1649.9 1846,1649.9 1847,1651.1 1848,1652.3 1849,1653.0 1850,1653.1 1851,1653.1 1852,1652.9 1853,1652.7 1854,1652.8 1855,1652.5 1856,1651.4 1857,1650.5 1858,1650.4 1859,1650.9 1860,1651.2 1861,1650.8 1862,1650.1 1863,1649.5 1864,1649.0 1865,1648.4 1866,1647.8 1867,1647.2 1868,1646.8 1869,1647.0 1870,1648.4 1871,1650.2 1872,1651.4 1873,1651.5 1874,1651.2 1875,1650.8 1876,1650.5 1877,1650.2 1878,1650.0 1879,1649.5 1880,1648.3 1881,1646.6 1882,1644.5 1883,1642.3 1884,1640.3 1885,1638.5 1886,1637.0 1887,1635.4 1888,1633.7 1889,1631.7 1890,1629.8 1891,1628.6 1891.7,1628.3 1892,1628.3 1893,1629.2 1894,1630.9 1895,1633.2 1896,1635.7 1897,1638.1 1898,1639.8 1899,1640.6 1900,1641.3 1901,1642.6 1902,1644.3 1903,1645.6 1904,1646.9 1905,1648.5 1906,1649.7 1907,1650.1 1908,1649.8 1909,1649.5 1910,1649.5 1911,1650.5 1912,1652.0 1913,1652.9 1914,1652.7 1915,1651.4 1916,1650.4 1917,1650.0 1918,1650.0 1919,1650.4 1920,1651.3 1921,1652.1 1922,1652.2 1923,1652.1 1924,1651.9 1925,1651.6 1926,1651.4 1927,1651.2 1928,1651.2 1929,1650.9 1930,1649.8 1931,1647.8 1932,1646.0 1933,1644.8 1934,1644.2 1934.9,1644.0 1936,1644.5 1937,1645.4 1938,1646.8 1939,1648.6 1940,1650.1 1941,1650.6 1942,1650.2 1943,1649.8 1944,1650.2 1945,1651.0 1946,1651.7 1947,1651.8 1948,1651.5 1949,1651.0 1950,1650.7 1951,1651.2 1952,1652.2 1953,1653.0 1954,1653.4 1955,1653.8 1956,1654.5 1957,1655.4 1958,1656.0 1959,1656.0 1960,1655.8 1961,1655.3 1962,1654.7 1963,1654.1 1964,1654.0 1965,1654.4 1966,1655.0 1967,1655.4 1968,1655.2 1969,1654.1 1970,1653.0 1971,1652.8 1972,1653.4 1973,1653.8 1974,1653.8 1975,1653.6 1976,1653.3 1977,1653.1 1978,1653.5 1979,1654.1 1980,1654.4 1981,1654.3 1982,1654.6 1983,1655.2 1984,1655.6 1985,1655.4 1986,1654.7 1987,1653.9 1988,1653.7 1989,1653.9 1990,1654.0 1991,1653.7 1992,1653.4 1993,1653.6 1994,1654.4 1995,1655.1 1996,1654.9 1997,1653.8 1998,1652.9 1999,1652.6 2000,1652.7 2001,1653.3 2002,1654.1 2003,1654.9 2004,1655.2 2005,1654.5 2006,1653.4 2007,1653.0 2008,1653.8 2009,1655.1 2010,1656.4 2011,1656.9 2012,1656.4 2013,1655.2 2014,1653.9 2015,1653.0 2016,1652.3 2017,1652.0 2018,1652.0 2019,1652.2 2020,1652.8 2021,1653.9 2022,1655.0 2023,1655.4 2024,1655.0 2025,1654.7 2026,1654.3 2027,1653.7 2028,1653.1 2029,1652.7 2030,1652.5 2031,1652.7 2032,1653.8 2033,1655.1 2034,1655.5 2035,1654.5 2036,1652.8 2037,1651.6 2038,1651.5 2039,1652.6 2040,1653.6 2041,1653.8 2042,1653.2 2043,1652.7 2044,1652.5 2045,1652.7 2046,1653.1 2047,1653.4 2048,1653.7 2049,1654.0 2050,1654.1 2051,1654.3 2052,1654.4 2053,1654.2 2054,1653.2 2055,1652.1 2056,1651.7 2057,1652.3 2058,1653.2 2059,1653.6 2060,1653.7 2061,1653.7 2062,1653.7 2063,1653.6 2064,1653.5 2065,1653.3 2066,1653.5 2067,1653.8 2068,1653.9 2069,1653.1 2070,1651.8 2071,1650.7 2072,1650.5 2073,1650.9 2074,1651.8 2075,1652.6 2076,1652.8 2077,1652.3 2078,1651.7 2079,1651.3 2080,1650.8 2081,1650.6 2082,1651.1 2083,1652.1 2084,1652.6 2085,1652.2 2086,1651.4 2087,1651.0 2088,1651.0 2089,1651.1 2090,1651.2 2091,1651.4 2092,1651.9 2093,1652.1 2094,1651.9 2095,1651.1 2096,1650.2 2097,1649.7 2098,1649.5 2099,1649.4 2100,1649.7 2101,1650.8 2102,1652.4 2103,1653.7 2104,1653.9 2105,1653.2 2106,1651.9 2107,1650.8 2108,1650.5 2109,1651.3 2110,1652.7 2111,1654.0 2112,1655.0 2113,1655.4 2114,1654.7 2115,1653.3 2116,1652.1 2117,1651.1 2118,1650.2 2119,1649.4 2120,1649.4 2121,1650.4 2122,1651.4 2123,1652.3 2124,1653.1 2125,1654.0 2126,1654.8 2127,1655.5 2128,1655.8 2129,1655.4 2130,1654.9 2131,1654.5 2132,1654.0 2133,1653.4 2134,1652.9 2135,1652.5 2136,1651.9 2137,1651.6 2138,1651.8 2139,1652.5 2140,1653.1 2141,1653.0 2142,1652.6 2143,1652.7 2144,1653.1 2145,1653.4 2146,1653.5 2147,1653.3 2148,1652.8 2149,1652.5 2150,1652.7 2151,1652.9 2152,1652.7 2153,1652.0 2154,1651.9 2155,1652.8 2156,1653.9 2157,1654.3 2158,1654.0 2159,1653.7 2160,1653.5 2161,1653.6 2162,1653.8 2163,1654.4 2164,1655.1 2165,1655.7 2166,1656.1 2167,1656.0 2168,1655.8 2169,1655.7 2170,1655.8 2171,1656.1 2172,1656.7 2173,1657.5 2174,1658.0 2175,1657.7 2176,1656.6 2177,1655.5 2178,1655.1 2179,1654.8 2180,1653.9 2181,1653.2 2182,1653.7 2183,1654.8 2184,1655.4 2185,1655.6 2186,1655.9 2187,1656.4 2188,1656.3 2189,1655.5 2190,1654.4 2191,1653.5 2192,1653.4 2193,1654.4 2194,1656.2 2195,1657.6 2196,1657.7 2197,1656.7 2198,1655.9 2199,1655.8 2200,1655.9 2201,1655.8 2202,1656.3 2203,1657.6 2204,1659.3 2205,1660.2 2206,1659.7 2207,1658.6 2208,1657.5 2209,1656.9 2210,1656.8 2211,1656.6 2212,1656.4 2213,1656.5 2214,1657.0 2215,1657.4 2216,1657.7 2217,1657.9 2218,1658.2 2219,1658.3 2220,1658.0 2221,1657.0 2222,1655.9 2223,1655.7 2224,1656.3 2225,1656.9 2226,1657.0 2227,1656.9 2228,1656.7 2229,1656.0 2230,1655.3 2231,1655.1 2232,1655.5 2233,1656.3 2234,1657.0 2235,1657.1 2236,1656.5 2237,1656.3 2238,1656.7 2239,1657.3 2240,1657.8 2241,1657.9 2242,1657.6 2243,1657.0 2244,1656.2 2245,1655.2 2246,1654.6 2247,1654.8 2248,1655.5 2249,1656.3 2250,1657.2 2251,1657.9 2252,1657.8 2253,1656.7 2254,1655.3 2255,1654.2 2256,1654.0 2257,1654.6 2258,1655.3 2259,1655.1 2260,1654.4 2261,1653.3 2262,1652.1 2263,1651.0 2264,1650.3 2265,1650.1 2266,1650.3 2267,1650.9 2268,1651.6 2269,1652.1 2270,1652.4 2271,1652.4 2272,1652.2 2273,1651.9 2274,1651.9 2275,1652.5 2276,1653.6 2277,1655.2 2278,1656.3 2279,1656.4 2280,1656.0 2281,1655.9 2282,1656.8 2283,1658.0 2284,1658.9 2285,1659.5 2286,1660.0 2287,1660.4 2288,1660.6"/>
<g fill="#000">
<path transform="translate(490.0,232.3) scale(1.000)" d="M0,-7.8 C-1.2,-11 -3,-14.6 -7,-15 C-11.5,-15.2 -14.6,-12.5 -14.6,-8 L-14.6,-3.5 C-12.5,0.5 -9,5 -6,8.5 L0,15 L6,8.5 C9,5 12.5,0.5 14.6,-3.5 L14.6,-8 C14.6,-12.5 11.5,-15.2 7,-15 C3,-14.6 1.2,-11 0,-7.8 Z"/>
<path d="M548.6,169.1 L562.1,187.0 L548.6,204.9 L535.1,187.0 Z"/>
<circle cx="584.7" cy="267.5" r="13.2"/>
<circle cx="757.7" cy="255.7" r="13.2"/>
<g transform="translate(756.3,292.9) scale(1.000)"><circle cx="0" cy="-9.9" r="7.6"/><ellipse cx="-9.9" cy="4.3" rx="7.6" ry="8"/><ellipse cx="9.9" cy="4.3" rx="7.6" ry="8"/><path d="M-10,-1.4 L10,-1.4 L10,7.4 L-10,7.4 Z"/><path d="M-3.6,-5 L3.6,-5 L2.1,-1 L-2.1,-1 Z"/><path d="M-1.7,6 L1.7,6 C1.9,11.5 2.5,15.3 3.7,17.5 L-3.7,17.5 C-2.5,15.3 -1.9,11.5 -1.7,6 Z"/></g>
<path d="M789.4,230.7 L802.9,248.6 L789.4,266.5 L775.9,248.6 Z"/>
<circle cx="836.6" cy="228.6" r="13.2"/>
<g transform="translate(834.3,267.0) scale(1.000)"><circle cx="0" cy="-9.9" r="7.6"/><ellipse cx="-9.9" cy="4.3" rx="7.6" ry="8"/><ellipse cx="9.9" cy="4.3" rx="7.6" ry="8"/><path d="M-10,-1.4 L10,-1.4 L10,7.4 L-10,7.4 Z"/><path d="M-3.6,-5 L3.6,-5 L2.1,-1 L-2.1,-1 Z"/><path d="M-1.7,6 L1.7,6 C1.9,11.5 2.5,15.3 3.7,17.5 L-3.7,17.5 C-2.5,15.3 -1.9,11.5 -1.7,6 Z"/></g>
<path transform="translate(835.7,310.9) scale(1.000)" d="M0,-7.8 C-1.2,-11 -3,-14.6 -7,-15 C-11.5,-15.2 -14.6,-12.5 -14.6,-8 L-14.6,-3.5 C-12.5,0.5 -9,5 -6,8.5 L0,15 L6,8.5 C9,5 12.5,0.5 14.6,-3.5 L14.6,-8 C14.6,-12.5 11.5,-15.2 7,-15 C3,-14.6 1.2,-11 0,-7.8 Z"/>
<path d="M865.7,295.0 L879.2,312.9 L865.7,330.8 L852.2,312.9 Z"/>
<circle cx="895.7" cy="252.9" r="13.2"/>
<path d="M932.0,287.0 L945.5,304.9 L932.0,322.8 L918.5,304.9 Z"/>
<circle cx="1244.3" cy="278.6" r="13.2"/>
<g transform="translate(1244.9,320.0) scale(1.000)"><circle cx="0" cy="-9.9" r="7.6"/><ellipse cx="-9.9" cy="4.3" rx="7.6" ry="8"/><ellipse cx="9.9" cy="4.3" rx="7.6" ry="8"/><path d="M-10,-1.4 L10,-1.4 L10,7.4 L-10,7.4 Z"/><path d="M-3.6,-5 L3.6,-5 L2.1,-1 L-2.1,-1 Z"/><path d="M-1.7,6 L1.7,6 C1.9,11.5 2.5,15.3 3.7,17.5 L-3.7,17.5 C-2.5,15.3 -1.9,11.5 -1.7,6 Z"/></g>
<path d="M1292.0,265.0 L1305.5,282.9 L1292.0,300.8 L1278.5,282.9 Z"/>
<path d="M1359.4,304.1 L1372.9,322.0 L1359.4,339.9 L1345.9,322.0 Z"/>
<circle cx="1531.4" cy="278.6" r="13.2"/>
<path d="M1530.9,295.5 L1544.4,313.4 L1530.9,331.3 L1517.4,313.4 Z"/>
<path d="M1564.3,317.8 L1577.8,335.7 L1564.3,353.6 L1550.8,335.7 Z"/>
<circle cx="1721.4" cy="280.9" r="13.2"/>
<path d="M1722.0,301.5 L1735.5,319.4 L1722.0,337.3 L1708.5,319.4 Z"/>
<path d="M1696.3,317.8 L1709.8,335.7 L1696.3,353.6 L1682.8,335.7 Z"/>
<circle cx="1894.2" cy="335.9" r="13.2"/>
<circle cx="1932.3" cy="346.9" r="13.2"/>
<path transform="translate(490.0,529.3) scale(1.000)" d="M0,-7.8 C-1.2,-11 -3,-14.6 -7,-15 C-11.5,-15.2 -14.6,-12.5 -14.6,-8 L-14.6,-3.5 C-12.5,0.5 -9,5 -6,8.5 L0,15 L6,8.5 C9,5 12.5,0.5 14.6,-3.5 L14.6,-8 C14.6,-12.5 11.5,-15.2 7,-15 C3,-14.6 1.2,-11 0,-7.8 Z"/>
<path d="M548.6,410.7 L562.1,428.6 L548.6,446.5 L535.1,428.6 Z"/>
<circle cx="585.7" cy="524.3" r="13.2"/>
<circle cx="753.4" cy="499.4" r="13.2"/>
<g transform="translate(753.1,535.7) scale(1.000)"><circle cx="0" cy="-9.9" r="7.6"/><ellipse cx="-9.9" cy="4.3" rx="7.6" ry="8"/><ellipse cx="9.9" cy="4.3" rx="7.6" ry="8"/><path d="M-10,-1.4 L10,-1.4 L10,7.4 L-10,7.4 Z"/><path d="M-3.6,-5 L3.6,-5 L2.1,-1 L-2.1,-1 Z"/><path d="M-1.7,6 L1.7,6 C1.9,11.5 2.5,15.3 3.7,17.5 L-3.7,17.5 C-2.5,15.3 -1.9,11.5 -1.7,6 Z"/></g>
<path d="M788.6,495.0 L802.1,512.9 L788.6,530.8 L775.1,512.9 Z"/>
<circle cx="838.0" cy="468.0" r="13.2"/>
<g transform="translate(835.1,505.7) scale(1.000)"><circle cx="0" cy="-9.9" r="7.6"/><ellipse cx="-9.9" cy="4.3" rx="7.6" ry="8"/><ellipse cx="9.9" cy="4.3" rx="7.6" ry="8"/><path d="M-10,-1.4 L10,-1.4 L10,7.4 L-10,7.4 Z"/><path d="M-3.6,-5 L3.6,-5 L2.1,-1 L-2.1,-1 Z"/><path d="M-1.7,6 L1.7,6 C1.9,11.5 2.5,15.3 3.7,17.5 L-3.7,17.5 C-2.5,15.3 -1.9,11.5 -1.7,6 Z"/></g>
<path transform="translate(836.6,549.3) scale(1.000)" d="M0,-7.8 C-1.2,-11 -3,-14.6 -7,-15 C-11.5,-15.2 -14.6,-12.5 -14.6,-8 L-14.6,-3.5 C-12.5,0.5 -9,5 -6,8.5 L0,15 L6,8.5 C9,5 12.5,0.5 14.6,-3.5 L14.6,-8 C14.6,-12.5 11.5,-15.2 7,-15 C3,-14.6 1.2,-11 0,-7.8 Z"/>
<circle cx="898.6" cy="400.0" r="13.2"/>
<path d="M930.6,550.1 L944.1,568.0 L930.6,585.9 L917.1,568.0 Z"/>
<circle cx="1244.3" cy="528.0" r="13.2"/>
<g transform="translate(1244.9,564.3) scale(1.000)"><circle cx="0" cy="-9.9" r="7.6"/><ellipse cx="-9.9" cy="4.3" rx="7.6" ry="8"/><ellipse cx="9.9" cy="4.3" rx="7.6" ry="8"/><path d="M-10,-1.4 L10,-1.4 L10,7.4 L-10,7.4 Z"/><path d="M-3.6,-5 L3.6,-5 L2.1,-1 L-2.1,-1 Z"/><path d="M-1.7,6 L1.7,6 C1.9,11.5 2.5,15.3 3.7,17.5 L-3.7,17.5 C-2.5,15.3 -1.9,11.5 -1.7,6 Z"/></g>
<path d="M1292.0,535.8 L1305.5,553.7 L1292.0,571.6 L1278.5,553.7 Z"/>
<path d="M1359.4,576.4 L1372.9,594.3 L1359.4,612.2 L1345.9,594.3 Z"/>
<circle cx="1531.4" cy="542.9" r="13.2"/>
<path d="M1530.9,559.8 L1544.4,577.7 L1530.9,595.6 L1517.4,577.7 Z"/>
<path d="M1564.3,585.8 L1577.8,603.7 L1564.3,621.6 L1550.8,603.7 Z"/>
<circle cx="1724.9" cy="532.0" r="13.2"/>
<path d="M1725.7,552.1 L1739.2,570.0 L1725.7,587.9 L1712.2,570.0 Z"/>
<path d="M1700.6,577.0 L1714.1,594.9 L1700.6,612.8 L1687.1,594.9 Z"/>
<circle cx="1895.5" cy="592.7" r="13.2"/>
<circle cx="1934.9" cy="608.7" r="13.2"/>
<path transform="translate(492.9,839.4) scale(1.000)" d="M0,-7.8 C-1.2,-11 -3,-14.6 -7,-15 C-11.5,-15.2 -14.6,-12.5 -14.6,-8 L-14.6,-3.5 C-12.5,0.5 -9,5 -6,8.5 L0,15 L6,8.5 C9,5 12.5,0.5 14.6,-3.5 L14.6,-8 C14.6,-12.5 11.5,-15.2 7,-15 C3,-14.6 1.2,-11 0,-7.8 Z"/>
<path d="M550.6,737.8 L564.1,755.7 L550.6,773.6 L537.1,755.7 Z"/>
<circle cx="586.6" cy="829.4" r="13.2"/>
<circle cx="756.6" cy="775.7" r="13.2"/>
<g transform="translate(756.0,812.9) scale(1.000)"><circle cx="0" cy="-9.9" r="7.6"/><ellipse cx="-9.9" cy="4.3" rx="7.6" ry="8"/><ellipse cx="9.9" cy="4.3" rx="7.6" ry="8"/><path d="M-10,-1.4 L10,-1.4 L10,7.4 L-10,7.4 Z"/><path d="M-3.6,-5 L3.6,-5 L2.1,-1 L-2.1,-1 Z"/><path d="M-1.7,6 L1.7,6 C1.9,11.5 2.5,15.3 3.7,17.5 L-3.7,17.5 C-2.5,15.3 -1.9,11.5 -1.7,6 Z"/></g>
<path d="M790.9,812.7 L804.4,830.6 L790.9,848.5 L777.4,830.6 Z"/>
<circle cx="840.6" cy="764.3" r="13.2"/>
<g transform="translate(838.0,802.3) scale(1.000)"><circle cx="0" cy="-9.9" r="7.6"/><ellipse cx="-9.9" cy="4.3" rx="7.6" ry="8"/><ellipse cx="9.9" cy="4.3" rx="7.6" ry="8"/><path d="M-10,-1.4 L10,-1.4 L10,7.4 L-10,7.4 Z"/><path d="M-3.6,-5 L3.6,-5 L2.1,-1 L-2.1,-1 Z"/><path d="M-1.7,6 L1.7,6 C1.9,11.5 2.5,15.3 3.7,17.5 L-3.7,17.5 C-2.5,15.3 -1.9,11.5 -1.7,6 Z"/></g>
<path transform="translate(840.0,845.2) scale(1.000)" d="M0,-7.8 C-1.2,-11 -3,-14.6 -7,-15 C-11.5,-15.2 -14.6,-12.5 -14.6,-8 L-14.6,-3.5 C-12.5,0.5 -9,5 -6,8.5 L0,15 L6,8.5 C9,5 12.5,0.5 14.6,-3.5 L14.6,-8 C14.6,-12.5 11.5,-15.2 7,-15 C3,-14.6 1.2,-11 0,-7.8 Z"/>
<circle cx="900.6" cy="663.5" r="13.2"/>
<path d="M930.6,849.2 L944.1,867.1 L930.6,885.0 L917.1,867.1 Z"/>
<circle cx="1245.1" cy="817.1" r="13.2"/>
<g transform="translate(1245.1,855.7) scale(1.000)"><circle cx="0" cy="-9.9" r="7.6"/><ellipse cx="-9.9" cy="4.3" rx="7.6" ry="8"/><ellipse cx="9.9" cy="4.3" rx="7.6" ry="8"/><path d="M-10,-1.4 L10,-1.4 L10,7.4 L-10,7.4 Z"/><path d="M-3.6,-5 L3.6,-5 L2.1,-1 L-2.1,-1 Z"/><path d="M-1.7,6 L1.7,6 C1.9,11.5 2.5,15.3 3.7,17.5 L-3.7,17.5 C-2.5,15.3 -1.9,11.5 -1.7,6 Z"/></g>
<path d="M1296.6,849.2 L1310.1,867.1 L1296.6,885.0 L1283.1,867.1 Z"/>
<path d="M1358.0,873.5 L1371.5,891.4 L1358.0,909.3 L1344.5,891.4 Z"/>
<circle cx="1535.1" cy="832.9" r="13.2"/>
<path d="M1534.3,849.2 L1547.8,867.1 L1534.3,885.0 L1520.8,867.1 Z"/>
<path d="M1567.1,876.4 L1580.6,894.3 L1567.1,912.2 L1553.6,894.3 Z"/>
<circle cx="1725.7" cy="828.0" r="13.2"/>
<path d="M1727.1,848.4 L1740.6,866.3 L1727.1,884.2 L1713.6,866.3 Z"/>
<circle cx="1898.1" cy="873.2" r="13.2"/>
<circle cx="1933.6" cy="893.8" r="13.2"/>
<path transform="translate(494.3,1196.6) scale(1.000)" d="M0,-7.8 C-1.2,-11 -3,-14.6 -7,-15 C-11.5,-15.2 -14.6,-12.5 -14.6,-8 L-14.6,-3.5 C-12.5,0.5 -9,5 -6,8.5 L0,15 L6,8.5 C9,5 12.5,0.5 14.6,-3.5 L14.6,-8 C14.6,-12.5 11.5,-15.2 7,-15 C3,-14.6 1.2,-11 0,-7.8 Z"/>
<path d="M551.4,930.7 L564.9,948.6 L551.4,966.5 L537.9,948.6 Z"/>
<circle cx="590.6" cy="1145.7" r="13.2"/>
<circle cx="757.7" cy="1150.0" r="13.2"/>
<g transform="translate(757.1,1187.1) scale(1.000)"><circle cx="0" cy="-9.9" r="7.6"/><ellipse cx="-9.9" cy="4.3" rx="7.6" ry="8"/><ellipse cx="9.9" cy="4.3" rx="7.6" ry="8"/><path d="M-10,-1.4 L10,-1.4 L10,7.4 L-10,7.4 Z"/><path d="M-3.6,-5 L3.6,-5 L2.1,-1 L-2.1,-1 Z"/><path d="M-1.7,6 L1.7,6 C1.9,11.5 2.5,15.3 3.7,17.5 L-3.7,17.5 C-2.5,15.3 -1.9,11.5 -1.7,6 Z"/></g>
<path d="M787.1,1035.8 L800.6,1053.7 L787.1,1071.6 L773.6,1053.7 Z"/>
<circle cx="839.4" cy="1108.6" r="13.2"/>
<g transform="translate(837.7,1145.7) scale(1.000)"><circle cx="0" cy="-9.9" r="7.6"/><ellipse cx="-9.9" cy="4.3" rx="7.6" ry="8"/><ellipse cx="9.9" cy="4.3" rx="7.6" ry="8"/><path d="M-10,-1.4 L10,-1.4 L10,7.4 L-10,7.4 Z"/><path d="M-3.6,-5 L3.6,-5 L2.1,-1 L-2.1,-1 Z"/><path d="M-1.7,6 L1.7,6 C1.9,11.5 2.5,15.3 3.7,17.5 L-3.7,17.5 C-2.5,15.3 -1.9,11.5 -1.7,6 Z"/></g>
<path transform="translate(839.4,1188.0) scale(1.000)" d="M0,-7.8 C-1.2,-11 -3,-14.6 -7,-15 C-11.5,-15.2 -14.6,-12.5 -14.6,-8 L-14.6,-3.5 C-12.5,0.5 -9,5 -6,8.5 L0,15 L6,8.5 C9,5 12.5,0.5 14.6,-3.5 L14.6,-8 C14.6,-12.5 11.5,-15.2 7,-15 C3,-14.6 1.2,-11 0,-7.8 Z"/>
<path d="M870.0,1193.5 L883.5,1211.4 L870.0,1229.3 L856.5,1211.4 Z"/>
<circle cx="900.6" cy="1083.4" r="13.2"/>
<path d="M934.3,1153.5 L947.8,1171.4 L934.3,1189.3 L920.8,1171.4 Z"/>
<circle cx="1245.1" cy="1167.7" r="13.2"/>
<g transform="translate(1245.1,1208.6) scale(1.000)"><circle cx="0" cy="-9.9" r="7.6"/><ellipse cx="-9.9" cy="4.3" rx="7.6" ry="8"/><ellipse cx="9.9" cy="4.3" rx="7.6" ry="8"/><path d="M-10,-1.4 L10,-1.4 L10,7.4 L-10,7.4 Z"/><path d="M-3.6,-5 L3.6,-5 L2.1,-1 L-2.1,-1 Z"/><path d="M-1.7,6 L1.7,6 C1.9,11.5 2.5,15.3 3.7,17.5 L-3.7,17.5 C-2.5,15.3 -1.9,11.5 -1.7,6 Z"/></g>
<path d="M1294.3,1115.0 L1307.8,1132.9 L1294.3,1150.8 L1280.8,1132.9 Z"/>
<path d="M1362.9,1197.8 L1376.4,1215.7 L1362.9,1233.6 L1349.4,1215.7 Z"/>
<circle cx="1529.4" cy="1165.1" r="13.2"/>
<path d="M1528.6,1182.1 L1542.1,1200.0 L1528.6,1217.9 L1515.1,1200.0 Z"/>
<path d="M1565.7,1217.8 L1579.2,1235.7 L1565.7,1253.6 L1552.2,1235.7 Z"/>
<circle cx="1724.3" cy="1158.0" r="13.2"/>
<path d="M1724.9,1177.8 L1738.4,1195.7 L1724.9,1213.6 L1711.4,1195.7 Z"/>
<path d="M1698.6,1202.7 L1712.1,1220.6 L1698.6,1238.5 L1685.1,1220.6 Z"/>
<circle cx="1894.2" cy="1226.3" r="13.2"/>
<circle cx="1934.9" cy="1242.3" r="13.2"/>
<path d="M548.6,1275.8 L562.1,1293.7 L548.6,1311.6 L535.1,1293.7 Z"/>
<circle cx="587.1" cy="1550.0" r="13.2"/>
<circle cx="755.7" cy="1528.6" r="13.2"/>
<g transform="translate(754.9,1567.1) scale(1.000)"><circle cx="0" cy="-9.9" r="7.6"/><ellipse cx="-9.9" cy="4.3" rx="7.6" ry="8"/><ellipse cx="9.9" cy="4.3" rx="7.6" ry="8"/><path d="M-10,-1.4 L10,-1.4 L10,7.4 L-10,7.4 Z"/><path d="M-3.6,-5 L3.6,-5 L2.1,-1 L-2.1,-1 Z"/><path d="M-1.7,6 L1.7,6 C1.9,11.5 2.5,15.3 3.7,17.5 L-3.7,17.5 C-2.5,15.3 -1.9,11.5 -1.7,6 Z"/></g>
<path d="M786.3,1315.8 L799.8,1333.7 L786.3,1351.6 L772.8,1333.7 Z"/>
<circle cx="837.1" cy="1494.3" r="13.2"/>
<g transform="translate(834.9,1532.0) scale(1.000)"><circle cx="0" cy="-9.9" r="7.6"/><ellipse cx="-9.9" cy="4.3" rx="7.6" ry="8"/><ellipse cx="9.9" cy="4.3" rx="7.6" ry="8"/><path d="M-10,-1.4 L10,-1.4 L10,7.4 L-10,7.4 Z"/><path d="M-3.6,-5 L3.6,-5 L2.1,-1 L-2.1,-1 Z"/><path d="M-1.7,6 L1.7,6 C1.9,11.5 2.5,15.3 3.7,17.5 L-3.7,17.5 C-2.5,15.3 -1.9,11.5 -1.7,6 Z"/></g>
<path transform="translate(834.3,1575.2) scale(1.000)" d="M0,-7.8 C-1.2,-11 -3,-14.6 -7,-15 C-11.5,-15.2 -14.6,-12.5 -14.6,-8 L-14.6,-3.5 C-12.5,0.5 -9,5 -6,8.5 L0,15 L6,8.5 C9,5 12.5,0.5 14.6,-3.5 L14.6,-8 C14.6,-12.5 11.5,-15.2 7,-15 C3,-14.6 1.2,-11 0,-7.8 Z"/>
<path d="M872.9,1542.7 L886.4,1560.6 L872.9,1578.5 L859.4,1560.6 Z"/>
<circle cx="896.3" cy="1471.4" r="13.2"/>
<path d="M930.0,1513.5 L943.5,1531.4 L930.0,1549.3 L916.5,1531.4 Z"/>
<circle cx="1241.4" cy="1541.4" r="13.2"/>
<g transform="translate(1242.0,1580.0) scale(1.000)"><circle cx="0" cy="-9.9" r="7.6"/><ellipse cx="-9.9" cy="4.3" rx="7.6" ry="8"/><ellipse cx="9.9" cy="4.3" rx="7.6" ry="8"/><path d="M-10,-1.4 L10,-1.4 L10,7.4 L-10,7.4 Z"/><path d="M-3.6,-5 L3.6,-5 L2.1,-1 L-2.1,-1 Z"/><path d="M-1.7,6 L1.7,6 C1.9,11.5 2.5,15.3 3.7,17.5 L-3.7,17.5 C-2.5,15.3 -1.9,11.5 -1.7,6 Z"/></g>
<path d="M1290.9,1479.2 L1304.4,1497.1 L1290.9,1515.0 L1277.4,1497.1 Z"/>
<path d="M1359.4,1572.1 L1372.9,1590.0 L1359.4,1607.9 L1345.9,1590.0 Z"/>
<circle cx="1525.1" cy="1519.4" r="13.2"/>
<path d="M1524.3,1535.5 L1537.8,1553.4 L1524.3,1571.3 L1510.8,1553.4 Z"/>
<path d="M1561.4,1592.1 L1574.9,1610.0 L1561.4,1627.9 L1547.9,1610.0 Z"/>
<circle cx="1722.3" cy="1530.0" r="13.2"/>
<path d="M1723.4,1550.7 L1736.9,1568.6 L1723.4,1586.5 L1709.9,1568.6 Z"/>
<path d="M1697.1,1575.5 L1710.6,1593.4 L1697.1,1611.3 L1683.6,1593.4 Z"/>
<circle cx="1892.9" cy="1603.6" r="13.2"/>
<circle cx="1932.3" cy="1619.0" r="13.2"/>
</g>
<path d="M67,47 H2291 V52 H67 Z M67,1681 H2291 V1686 H67 Z M67,47 H73 V1686 H67 Z M2285,47 H2291 V1686 H2285 Z" fill="#000"/>
<text class="b" x="70.0" y="1772" font-size="71" text-anchor="middle">10</text>
<text class="b" x="347.2" y="1772" font-size="71" text-anchor="middle">20</text>
<text class="b" x="624.5" y="1772" font-size="71" text-anchor="middle">30</text>
<text class="b" x="901.8" y="1772" font-size="71" text-anchor="middle">40</text>
<text class="b" x="1179.0" y="1772" font-size="71" text-anchor="middle">50</text>
<text class="b" x="1456.2" y="1772" font-size="71" text-anchor="middle">60</text>
<text class="b" x="1733.5" y="1772" font-size="71" text-anchor="middle">70</text>
<text class="b" x="2010.8" y="1772" font-size="71" text-anchor="middle">80</text>
<text class="b" x="2288.0" y="1772" font-size="71" text-anchor="middle">90</text>
<text class="b" x="1178.5" y="1905" font-size="85" text-anchor="middle">2θ/degree</text>
<g fill="#000">
<circle cx="100.8" cy="104.4" r="12"/>
<path d="M347.5,88.8 L360.2,105.6 L347.5,122.4 L334.8,105.6 Z"/>
<path transform="translate(702.3,107.2) scale(1.000)" d="M0,-7.8 C-1.2,-11 -3,-14.6 -7,-15 C-11.5,-15.2 -14.6,-12.5 -14.6,-8 L-14.6,-3.5 C-12.5,0.5 -9,5 -6,8.5 L0,15 L6,8.5 C9,5 12.5,0.5 14.6,-3.5 L14.6,-8 C14.6,-12.5 11.5,-15.2 7,-15 C3,-14.6 1.2,-11 0,-7.8 Z"/>
<g transform="translate(1082.0,108.7) scale(0.970)"><circle cx="0" cy="-9.9" r="7.6"/><ellipse cx="-9.9" cy="4.3" rx="7.6" ry="8"/><ellipse cx="9.9" cy="4.3" rx="7.6" ry="8"/><path d="M-10,-1.4 L10,-1.4 L10,7.4 L-10,7.4 Z"/><path d="M-3.6,-5 L3.6,-5 L2.1,-1 L-2.1,-1 Z"/><path d="M-1.7,6 L1.7,6 C1.9,11.5 2.5,15.3 3.7,17.5 L-3.7,17.5 C-2.5,15.3 -1.9,11.5 -1.7,6 Z"/></g>
</g>
<path d="M117.4,107 L229.6,107 M361,108.5 L473,108.5 M723.3,109.5 L835,109.5 M1102.3,111.3 L1213.3,111.3" stroke="#000" stroke-width="3.2"/>
<text class="b" x="231" y="121" font-size="56">Ti</text>
<text class="b" x="472" y="121.5" font-size="56">R-TiO<tspan font-size="37" dy="14.5">2</tspan></text>
<text class="b" x="833" y="122.3" font-size="56">A-TiO<tspan font-size="37" dy="14.5">2</tspan></text>
<text class="b" x="1212.3" y="122.3" font-size="56">Al<tspan font-size="37" dy="14.5">2</tspan><tspan dy="-14.5">O</tspan><tspan font-size="37" dy="14.5">3</tspan></text>
<text class="r" x="2001.3" y="362.2" font-size="63" fill="#c775e1" letter-spacing="-1.1">MAO-200</text>
<text class="r" x="2006" y="629.2" font-size="63" fill="#00ae66" letter-spacing="-1.1">MAO-150</text>
<text class="r" x="2001" y="916.7" font-size="63" fill="#006ce2" letter-spacing="-1.1">MAO-100</text>
<text class="r" x="2022.9" y="1255.7" font-size="63" fill="#ff4042" letter-spacing="-1.1">MAO-50</text>
<text class="r" x="1994.8" y="1630" font-size="77" fill="#000">substrate</text>
</svg></body></html>
